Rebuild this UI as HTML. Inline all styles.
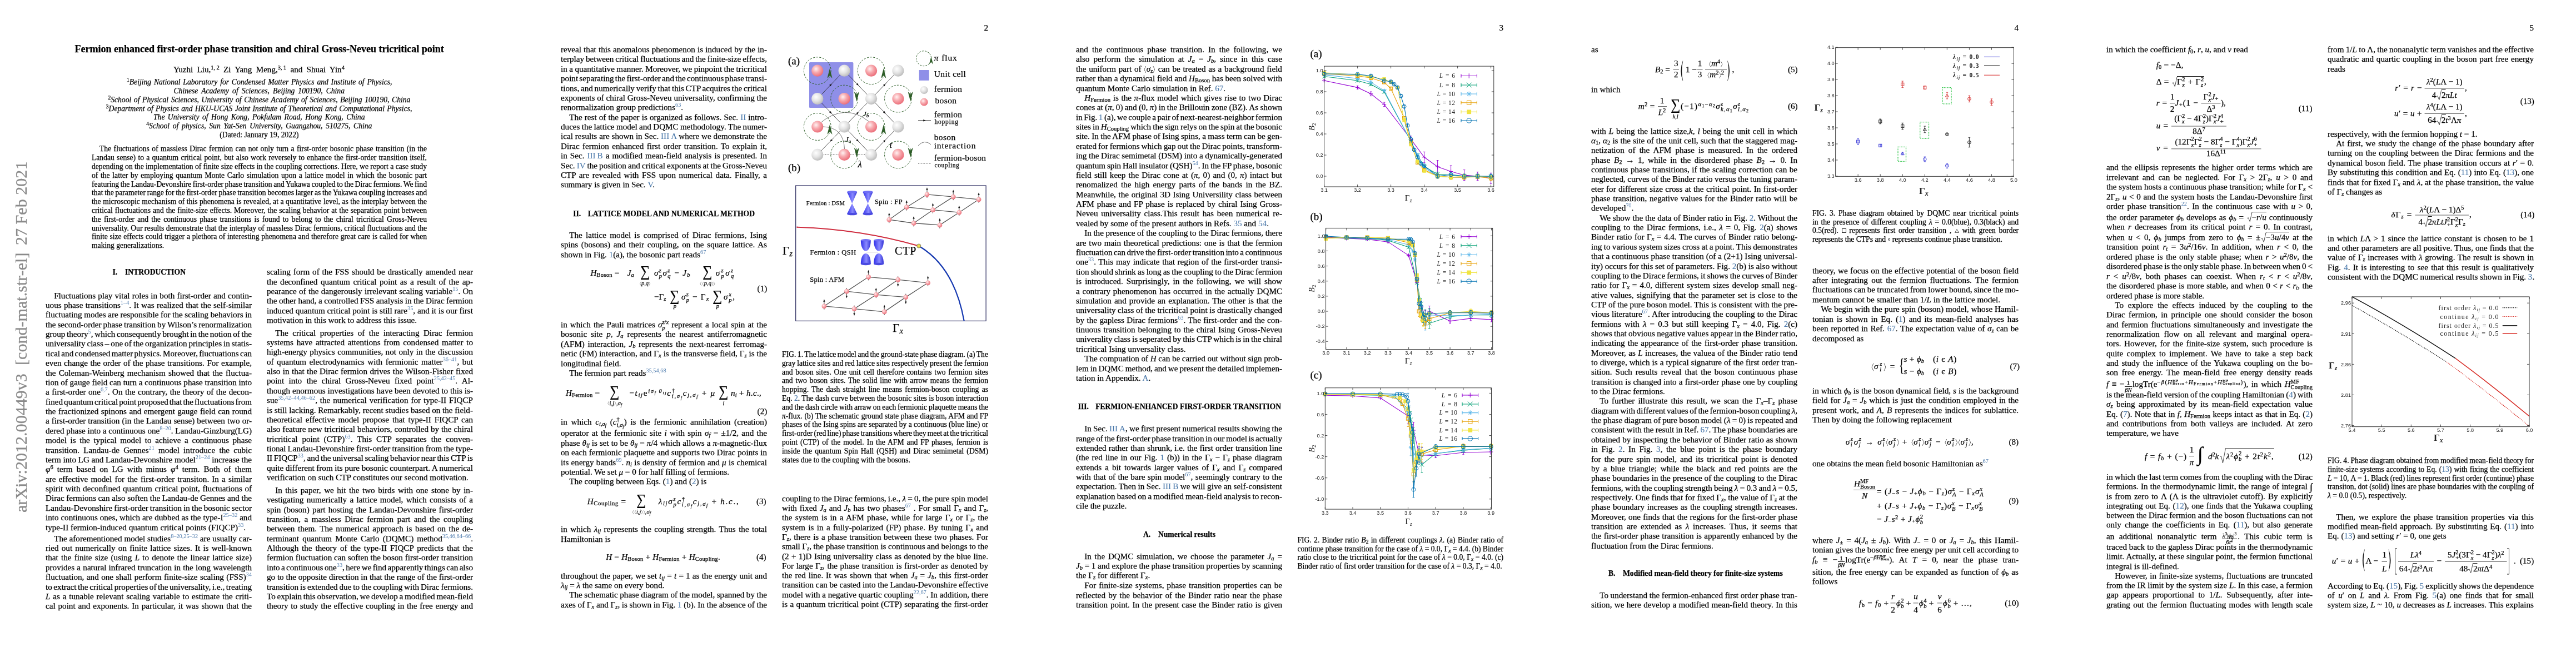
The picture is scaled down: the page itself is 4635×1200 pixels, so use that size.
<!DOCTYPE html><html><head><meta charset="utf-8"><style>

*{margin:0;padding:0}
html,body{width:4635px;height:1200px;overflow:hidden;background:#fff}
body{position:relative;font-family:"Liberation Serif",serif;color:#000;-webkit-text-stroke:0.25px currentColor}
.pg{position:absolute;top:0;width:927px;height:1200px;overflow:hidden;will-change:transform}
.l{position:absolute;white-space:nowrap;font-size:15.15px;line-height:17.36px}
.pg svg.ov{position:absolute;left:0;top:0}
i{font-style:italic}
b{font-weight:bold}
sub{font-size:70%;vertical-align:-0.22em;line-height:0}
sup{font-size:70%;vertical-align:0.5em;line-height:0}
cs{font-size:68%;vertical-align:0.58em;line-height:0;color:#4f7cae;-webkit-text-stroke:0}
bl{color:#4a78aa;-webkit-text-stroke:0.1px currentColor}
ss{font-size:75%;vertical-align:-0.25em;line-height:0}
up{font-style:normal}
ab{display:inline-block;transform:scale(0.75,1.5);}
.sa{font-family:"Liberation Sans",sans-serif}

</style></head><body>
<div class="pg" style="left:0px">
<div style="position:absolute;left:38px;top:922px;width:0;height:0"><div style="position:absolute;left:0;top:0;transform:rotate(-90deg);transform-origin:0 0;white-space:nowrap;font-size:30.1px;line-height:0;color:#8a8a8a"><span style="position:absolute;left:0;top:0">arXiv:2012.00449v3</span><span style="position:absolute;left:265px;top:0">[cond-mat.str-el]</span><span style="position:absolute;left:481px;top:0">27 Feb 2021</span></div></div>
<div class="l" style="top:78.46px;left:134.4px;font-size:18.18px;line-height:20px;font-weight:bold;letter-spacing:-0.08px;">Fermion enhanced first-order phase transition and chiral Gross-Neveu tricritical point</div>
<div class="l" style="top:115.8px;left:311.9px;word-spacing:3.49px;">Yuzhi Liu,<sup>1,&#8201;2</sup> Zi Yang Meng,<sup>3,&#8201;1</sup> and Shuai Yin<sup>4</sup></div>
<div class="l" style="top:139.8px;left:228px;font-size:13.64px;line-height:15.8px;word-spacing:1.36px;"><i><up><sup>1</sup></up>Beijing National Laboratory for Condensed Matter Physics and Institute of Physics,</i></div>
<div class="l" style="top:155.8px;left:312.5px;font-size:13.64px;line-height:15.8px;word-spacing:2.6px;"><i>Chinese Academy of Sciences, Beijing 100190, China</i></div>
<div class="l" style="top:171.7px;left:194.4px;font-size:13.64px;line-height:15.8px;word-spacing:1.22px;"><i><up><sup>2</sup></up>School of Physical Sciences, University of Chinese Academy of Sciences, Beijing 100190, China</i></div>
<div class="l" style="top:187.5px;left:190.8px;font-size:13.64px;line-height:15.8px;word-spacing:1.02px;"><i><up><sup>3</sup></up>Department of Physics and HKU-UCAS Joint Institute of Theoretical and Computational Physics,</i></div>
<div class="l" style="top:203.3px;left:276px;font-size:13.64px;line-height:15.8px;word-spacing:1.99px;"><i>The University of Hong Kong, Pokfulam Road, Hong Kong, China</i></div>
<div class="l" style="top:219.1px;left:263.3px;font-size:13.64px;line-height:15.8px;word-spacing:2.26px;"><i><up><sup>4</sup></up>School of physics, Sun Yat-Sen University, Guangzhou, 510275, China</i></div>
<div class="l" style="top:234.7px;left:466.4px;transform:translateX(-50%);font-size:13.64px;line-height:15.8px;">(Dated: January 19, 2022)</div>
<div class="l" style="top:260.3px;left:179px;font-size:13.64px;line-height:15.8px;word-spacing:1.01px;">The fluctuations of massless Dirac fermion can not only turn a first-order bosonic phase transition (in the</div>
<div class="l" style="top:276.1px;left:165px;font-size:13.64px;line-height:15.8px;word-spacing:0.84px;">Landau sense) to a quantum critical point, but also work reversely to enhance the first-order transition itself,</div>
<div class="l" style="top:291.9px;left:165px;font-size:13.64px;line-height:15.8px;word-spacing:-0.06px;">depending on the implementation of finite size effects in the coupling corrections. Here, we report a case study</div>
<div class="l" style="top:307.7px;left:165px;font-size:13.64px;line-height:15.8px;word-spacing:1.26px;">of the latter by employing quantum Monte Carlo simulation upon a lattice model in which the bosonic part</div>
<div class="l" style="top:323.5px;left:165px;font-size:13.64px;line-height:15.8px;word-spacing:-0.82px;">featuring the Landau-Devonshire first-order phase transition and Yukawa coupled to the Dirac fermions. We find</div>
<div class="l" style="top:339.3px;left:165px;font-size:13.64px;line-height:15.8px;word-spacing:-0.71px;">that the parameter range for the first-order phase transition becomes larger as the Yukawa coupling increases and</div>
<div class="l" style="top:355.1px;left:165px;font-size:13.64px;line-height:15.8px;word-spacing:0.14px;">the microscopic mechanism of this phenomena is revealed, at a quantitative level, as the interplay between the</div>
<div class="l" style="top:370.9px;left:165px;font-size:13.64px;line-height:15.8px;word-spacing:0.54px;">critical fluctuations and the finite-size effects. Moreover, the scaling behavior at the separation point between</div>
<div class="l" style="top:386.7px;left:165px;font-size:13.64px;line-height:15.8px;word-spacing:1.83px;">the first-order and the continuous phase transitions is found to belong to the chiral tricritical Gross-Neveu</div>
<div class="l" style="top:402.5px;left:165px;font-size:13.64px;line-height:15.8px;word-spacing:0px;">universality. Our results demonstrate that the interplay of massless Dirac fermions, critical fluctuations and the</div>
<div class="l" style="top:418.3px;left:165px;font-size:13.64px;line-height:15.8px;word-spacing:0.26px;">finite size effects could trigger a plethora of interesting phenomena and therefore great care is called for when</div>
<div class="l" style="top:434.1px;left:165px;font-size:13.64px;line-height:15.8px;">making generalizations.</div>
<div class="l" style="top:481.6px;left:202.5px;font-size:13.64px;line-height:15.8px;font-weight:bold;">I.</div>
<div class="l" style="top:481.6px;left:225px;font-size:13.64px;line-height:15.8px;font-weight:bold;">INTRODUCTION</div>
<div class="l" style="top:522.5px;left:97.2px;word-spacing:0.43px;">Fluctuations play vital roles in both first-order and contin-</div>
<div class="l" style="top:539.88px;left:82px;word-spacing:0.56px;">uous phase transitions<cs>1&#8211;4</cs>. It was realized that the self-similar</div>
<div class="l" style="top:557.26px;left:82px;word-spacing:-0.19px;">fluctuating modes are responsible for the scaling behaviors in</div>
<div class="l" style="top:574.64px;left:82px;word-spacing:-0.81px;">the second-order phase transition by Wilson&#8217;s renormalization</div>
<div class="l" style="top:592.02px;left:82px;word-spacing:-1.12px;">group theory<cs>5</cs>, which consequently brought in the notion of the</div>
<div class="l" style="top:609.4px;left:82px;word-spacing:-0.84px;">universality class &#8211; one of the organization principles in statis-</div>
<div class="l" style="top:626.78px;left:82px;word-spacing:-1.51px;">tical and condensed matter physics. Moreover, fluctuations can</div>
<div class="l" style="top:644.16px;left:82px;word-spacing:0.72px;">even change the order of the phase transitions. For example,</div>
<div class="l" style="top:661.54px;left:82px;word-spacing:1.4px;">the Coleman-Weinberg mechanism showed that the fluctua-</div>
<div class="l" style="top:678.92px;left:82px;word-spacing:-0.07px;">tion of gauge field can turn a continuous phase transition into</div>
<div class="l" style="top:696.3px;left:82px;word-spacing:0.68px;">a first-order one<cs>6,7</cs>. On the contrary, the theory of the decon-</div>
<div class="l" style="top:713.68px;left:82px;word-spacing:-1.77px;">fined quantum critical point proposed that the fluctuations from</div>
<div class="l" style="top:731.06px;left:82px;word-spacing:0.69px;">the fractionized spinons and emergent gauge field can round</div>
<div class="l" style="top:748.44px;left:82px;word-spacing:0.29px;">a first-order transition (in the Landau sense) between two or-</div>
<div class="l" style="top:765.82px;left:82px;word-spacing:-0.07px;">dered phase into a continuous one<cs>8&#8211;20</cs>. Landau-Ginzburg(LG)</div>
<div class="l" style="top:783.2px;left:82px;word-spacing:2.87px;">model is the typical model to achieve a continuous phase</div>
<div class="l" style="top:800.58px;left:82px;word-spacing:3.43px;">transition. Landau-de Gennes<cs>21</cs> model introduce the cubic</div>
<div class="l" style="top:817.96px;left:82px;word-spacing:-0.11px;">term into LG and Landau-Devonshire model<cs>21&#8211;24</cs> increase the</div>
<div class="l" style="top:835.34px;left:82px;word-spacing:3.33px;"><i>&#966;</i><sup>6</sup> term based on LG with minus <i>&#966;</i><sup>4</sup> term. Both of them</div>
<div class="l" style="top:852.72px;left:82px;word-spacing:1.36px;">are effective model for the first-order transiton. In a similar</div>
<div class="l" style="top:870.1px;left:82px;word-spacing:0.74px;">spirit with deconfined quantum critical point, fluctuations of</div>
<div class="l" style="top:887.48px;left:82px;word-spacing:-0.21px;">Dirac fermions can also soften the Landau-de Gennes and the</div>
<div class="l" style="top:904.86px;left:82px;word-spacing:-0.67px;">Landau-Devonshire first-order transition in the bosonic sector</div>
<div class="l" style="top:922.24px;left:82px;word-spacing:0.05px;">into continuous ones, which are dubbed as the type-I<cs>25&#8211;32</cs> and</div>
<div class="l" style="top:939.62px;left:82px;">type-II fermion-induced quantum critical points (FIQCP)<cs>33</cs>.</div>
<div class="l" style="top:959.6px;left:97.2px;word-spacing:0.04px;">The aforementioned model studies<cs>8&#8211;20,25&#8211;32</cs> are usually car-</div>
<div class="l" style="top:976.98px;left:82px;word-spacing:1.42px;">ried out numerically on finite lattice sizes. It is well-known</div>
<div class="l" style="top:994.36px;left:82px;word-spacing:1.43px;">that the finite size (using <i>L</i> to denote the linear lattice size)</div>
<div class="l" style="top:1011.74px;left:82px;word-spacing:0.44px;">provides a natural infrared truncation in the long wavelength</div>
<div class="l" style="top:1029.12px;left:82px;word-spacing:0.71px;">fluctuation, and one shall perform finite-size scaling (FSS)<cs>34</cs></div>
<div class="l" style="top:1046.5px;left:82px;word-spacing:-1.22px;">to extract the critical properties of the universality, i.e., treating</div>
<div class="l" style="top:1063.88px;left:82px;word-spacing:1.03px;"><i>L</i> as a tunable relevant scaling variable to estimate the criti-</div>
<div class="l" style="top:1081.26px;left:82px;word-spacing:1.08px;">cal point and exponents. In particular, it was shown that the</div>
<div class="l" style="top:480.3px;left:480px;word-spacing:1.09px;">scaling form of the FSS should be drastically amended near</div>
<div class="l" style="top:497.68px;left:480px;word-spacing:1.78px;">the deconfined quantum critical point as a result of the ap-</div>
<div class="l" style="top:515.06px;left:480px;word-spacing:0.48px;">pearance of the dangerously irrelevant scaling variable<cs>15</cs>. On</div>
<div class="l" style="top:532.44px;left:480px;word-spacing:-0.37px;">the other hand, a controlled FSS analysis in the Dirac fermion</div>
<div class="l" style="top:549.82px;left:480px;word-spacing:-0.01px;">induced quantum critical point is still rare<cs>35</cs>, and it is our first</div>
<div class="l" style="top:567.2px;left:480px;">motivation in this work to address this issue.</div>
<div class="l" style="top:589.5px;left:495.2px;word-spacing:3.68px;">The critical properties of the interacting Dirac fermion</div>
<div class="l" style="top:606.88px;left:480px;word-spacing:1.89px;">systems have attracted attentions from condensed matter to</div>
<div class="l" style="top:624.26px;left:480px;word-spacing:0.65px;">high-energy physics communities, not only in the discussion</div>
<div class="l" style="top:641.64px;left:480px;word-spacing:1.69px;">of quantum electrodynamics with fermionic matter<cs>36&#8211;41</cs>, but</div>
<div class="l" style="top:659.02px;left:480px;word-spacing:0.63px;">also in that the Dirac fermion drives the Wilson-Fisher fixed</div>
<div class="l" style="top:676.4px;left:480px;word-spacing:4.71px;">point into the chiral Gross-Neveu fixed point<cs>25,42&#8211;45</cs>. Al-</div>
<div class="l" style="top:693.78px;left:480px;word-spacing:0.12px;">though enormous investigations have been devoted to this is-</div>
<div class="l" style="top:711.16px;left:480px;word-spacing:1.13px;">sue<cs>35,42&#8211;44,46&#8211;62</cs>, the numerical verification for type-II FIQCP</div>
<div class="l" style="top:728.54px;left:480px;word-spacing:-0.11px;">is still lacking. Remarkably, recent studies based on the field-</div>
<div class="l" style="top:745.92px;left:480px;word-spacing:2.13px;">theoretical effective model propose that type-II FIQCP can</div>
<div class="l" style="top:763.3px;left:480px;word-spacing:0.18px;">also feature new tricritical behaviors, controlled by the chiral</div>
<div class="l" style="top:780.68px;left:480px;word-spacing:4.19px;">tricritical point (CTP)<cs>63</cs>. This CTP separates the conven-</div>
<div class="l" style="top:798.06px;left:480px;word-spacing:-0.67px;">tional Landau-Devonshire first-order transition from the type-</div>
<div class="l" style="top:815.44px;left:480px;word-spacing:-1.09px;">II FIQCP<cs>33</cs>, and the universal scaling behavior near this CTP is</div>
<div class="l" style="top:832.82px;left:480px;word-spacing:-0.21px;">quite different from its pure bosonic counterpart. A numerical</div>
<div class="l" style="top:850.2px;left:480px;">verification on such CTP constitutes our second motivation.</div>
<div class="l" style="top:872.8px;left:495.2px;word-spacing:1.77px;">In this paper, we hit the two birds with one stone by in-</div>
<div class="l" style="top:890.18px;left:480px;word-spacing:1.54px;">vestigating numerically a lattice model, which consists of a</div>
<div class="l" style="top:907.56px;left:480px;word-spacing:1.42px;">spin (boson) part hosting the Landau-Devonshire first-order</div>
<div class="l" style="top:924.94px;left:480px;word-spacing:2.7px;">transition, a massless Dirac fermion part and the coupling</div>
<div class="l" style="top:942.32px;left:480px;word-spacing:1.73px;">between them. The numerical approach is based on the de-</div>
<div class="l" style="top:959.7px;left:480px;word-spacing:2.34px;">terminant quantum Monte Carlo (DQMC) method<cs>35,46,64&#8211;66</cs>.</div>
<div class="l" style="top:977.08px;left:480px;word-spacing:2.09px;">Although the theory of the type-II FIQCP predicts that the</div>
<div class="l" style="top:994.46px;left:480px;word-spacing:-0.04px;">fermion fluctuation can soften the boson first-order transition</div>
<div class="l" style="top:1011.84px;left:480px;word-spacing:-1.39px;">into a continuous one<cs>33</cs>, here we find apparently things can also</div>
<div class="l" style="top:1029.22px;left:480px;word-spacing:-0.02px;">go to the opposite direction in that the range of the first-order</div>
<div class="l" style="top:1046.6px;left:480px;word-spacing:-0.92px;">transition is extended due to the coupling with Dirac fermions.</div>
<div class="l" style="top:1063.98px;left:480px;word-spacing:-1.06px;">To explain this observation, we develop a modified mean-field</div>
<div class="l" style="top:1081.36px;left:480px;word-spacing:0.91px;">theory to study the effective coupling in the free energy and</div>
</div>
<div class="pg" style="left:927px">
<div class="l" style="top:41px;right:76px;">2</div>
<div class="l" style="top:80px;left:82px;word-spacing:0.34px;">reveal that this anomalous phenomenon is induced by the in-</div>
<div class="l" style="top:97.38px;left:82px;word-spacing:-0.89px;">terplay between critical fluctuations and the finite-size effects,</div>
<div class="l" style="top:114.76px;left:82px;word-spacing:-0.32px;">in a quantitative manner. Moreover, we pinpoint the tricritical</div>
<div class="l" style="top:132.14px;left:82px;word-spacing:-1.56px;">point separating the first-order and the continuous phase transi-</div>
<div class="l" style="top:149.52px;left:82px;word-spacing:-1.04px;">tions, and numerically verify that this CTP acquires the critical</div>
<div class="l" style="top:166.9px;left:82px;word-spacing:-0.02px;">exponents of chiral Gross-Neveu universality, confirming the</div>
<div class="l" style="top:184.28px;left:82px;">renormalization group predictions<cs>63</cs>.</div>
<div class="l" style="top:201.66px;left:97.2px;word-spacing:0.3px;">The rest of the paper is organized as follows. Sec. <bl>II</bl> intro-</div>
<div class="l" style="top:219.04px;left:82px;word-spacing:-0.47px;">duces the lattice model and DQMC methodology. The numer-</div>
<div class="l" style="top:236.42px;left:82px;word-spacing:0.09px;">ical results are shown in Sec. <bl>III&#8201;A</bl> where we demonstrate the</div>
<div class="l" style="top:253.8px;left:82px;word-spacing:1.55px;">Dirac fermion enhanced first order transition. To explain it,</div>
<div class="l" style="top:271.18px;left:82px;word-spacing:1.22px;">in Sec. <bl>III&#8201;B</bl> a modified mean-field analysis is presented. In</div>
<div class="l" style="top:288.56px;left:82px;word-spacing:-0.7px;">Sec. <bl>IV</bl> the position and critical exponents at the Gross-Neveu</div>
<div class="l" style="top:305.94px;left:82px;word-spacing:1.73px;">CTP are revealed with FSS upon numerical data. Finally, a</div>
<div class="l" style="top:323.32px;left:82px;">summary is given in Sec. <bl>V</bl>.</div>
<div class="l" style="top:377px;left:104.2px;font-size:13.64px;line-height:15.8px;font-weight:bold;">II.</div>
<div class="l" style="top:377px;left:130.7px;font-size:13.64px;line-height:15.8px;font-weight:bold;">LATTICE MODEL AND NUMERICAL METHOD</div>
<div class="l" style="top:413.9px;left:97.2px;word-spacing:2.48px;">The lattice model is comprised of Dirac fermions, Ising</div>
<div class="l" style="top:431.28px;left:82px;word-spacing:1.93px;">spins (bosons) and their coupling, on the square lattice. As</div>
<div class="l" style="top:448.66px;left:82px;">shown in Fig. <bl>1</bl>(a), the bosonic part reads<cs>67</cs></div>
<div class="l" style="top:482.2px;left:135.4px;letter-spacing:0.21px;"><i>H</i><sub>Boson</sub> =</div>
<div class="l" style="top:482.2px;left:201.7px;"><i>J<sub>a</sub></i></div>
<div class="l" style="left:233.5px;top:488.39px;font-size:27px;line-height:0;transform:translateX(-50%) scaleX(0.9)">&#8721;</div>
<div class="l" style="top:504.42px;left:233.5px;transform:translateX(-50%);font-size:10.6px;line-height:12px;"><svg style="vertical-align:-2.5px;overflow:visible" width="3.63" height="11" viewBox="0 0 5 11"><path d="M4,0.5L1,5.5 L4,10.5" fill="none" stroke="#161616" stroke-width="0.6"/></svg><i>p</i>,<i>q</i><svg style="vertical-align:-2.5px;overflow:visible" width="3.63" height="11" viewBox="0 0 5 11"><path d="M1,0.5L4,5.5 L1,10.5" fill="none" stroke="#161616" stroke-width="0.6"/></svg></div>
<div class="l" style="top:482.2px;left:250px;letter-spacing:1.36px;"><i>&#963;</i><span style="display:inline-block;vertical-align:-0.36em;font-size:70%;line-height:0.95;margin:-20px 0"><span style="display:block"><i>z</i></span><span style="display:block"><i>p</i></span></span><i>&#963;</i><span style="display:inline-block;vertical-align:-0.36em;font-size:70%;line-height:0.95;margin:-20px 0"><span style="display:block"><i>z</i></span><span style="display:block"><i>q</i></span></span> &#8722; <i>J<sub>b</sub></i></div>
<div class="l" style="left:346.3px;top:488.39px;font-size:27px;line-height:0;transform:translateX(-50%) scaleX(0.9)">&#8721;</div>
<div class="l" style="top:504.42px;left:346.3px;transform:translateX(-50%);font-size:10.6px;line-height:12px;"><svg style="vertical-align:-2.5px;overflow:visible" width="3.63" height="11" viewBox="0 0 5 11"><path d="M4,0.5L1,5.5 L4,10.5" fill="none" stroke="#161616" stroke-width="0.6"/></svg><svg style="vertical-align:-2.5px;overflow:visible" width="3.63" height="11" viewBox="0 0 5 11"><path d="M4,0.5L1,5.5 L4,10.5" fill="none" stroke="#161616" stroke-width="0.6"/></svg><i>p</i>,<i>q</i><svg style="vertical-align:-2.5px;overflow:visible" width="3.63" height="11" viewBox="0 0 5 11"><path d="M1,0.5L4,5.5 L1,10.5" fill="none" stroke="#161616" stroke-width="0.6"/></svg><svg style="vertical-align:-2.5px;overflow:visible" width="3.63" height="11" viewBox="0 0 5 11"><path d="M1,0.5L4,5.5 L1,10.5" fill="none" stroke="#161616" stroke-width="0.6"/></svg></div>
<div class="l" style="top:482.2px;left:360.7px;letter-spacing:2.38px;"><i>&#963;</i><span style="display:inline-block;vertical-align:-0.36em;font-size:70%;line-height:0.95;margin:-20px 0"><span style="display:block"><i>z</i></span><span style="display:block"><i>p</i></span></span><i>&#963;</i><span style="display:inline-block;vertical-align:-0.36em;font-size:70%;line-height:0.95;margin:-20px 0"><span style="display:block"><i>z</i></span><span style="display:block"><i>q</i></span></span></div>
<div class="l" style="top:525.4px;left:250px;">&#8722;&#915;<sub><i>z</i></sub></div>
<div class="l" style="left:287.3px;top:531.59px;font-size:27px;line-height:0;transform:translateX(-50%) scaleX(0.9)">&#8721;</div>
<div class="l" style="top:544.92px;left:287.3px;transform:translateX(-50%);font-size:10.6px;line-height:12px;"><i>p</i></div>
<div class="l" style="top:525.4px;left:299px;letter-spacing:1.16px;"><i>&#963;</i><span style="display:inline-block;vertical-align:-0.36em;font-size:70%;line-height:0.95;margin:-20px 0"><span style="display:block"><i>z</i></span><span style="display:block"><i>p</i></span></span> &#8722; &#915;<sub><i>x</i></sub></div>
<div class="l" style="left:364.3px;top:531.59px;font-size:27px;line-height:0;transform:translateX(-50%) scaleX(0.9)">&#8721;</div>
<div class="l" style="top:544.92px;left:364.3px;transform:translateX(-50%);font-size:10.6px;line-height:12px;"><i>p</i></div>
<div class="l" style="top:525.4px;left:375px;letter-spacing:1.73px;"><i>&#963;</i><span style="display:inline-block;vertical-align:-0.36em;font-size:70%;line-height:0.95;margin:-20px 0"><span style="display:block"><i>x</i></span><span style="display:block"><i>p</i></span></span>,</div>
<div class="l" style="top:510.1px;left:435.6px;">(1)</div>
<div class="l" style="top:575.1px;left:82px;word-spacing:1.28px;">in which the Pauli matrices <i>&#963;</i><span style="display:inline-block;vertical-align:-0.4em;font-size:70%;line-height:0.95;margin:-20px 0"><span style="display:block"><i>z</i>/<i>x</i></span><span style="display:block"><i>p</i></span></span> represent a local spin at the</div>
<div class="l" style="top:592.48px;left:82px;word-spacing:3.23px;">bosonic site <i>p</i>, <i>J<sub>a</sub></i> represents the nearest antiferromagnetic</div>
<div class="l" style="top:609.86px;left:82px;word-spacing:1.74px;">(AFM) interaction, <i>J<sub>b</sub></i> represents the next-nearest ferromag-</div>
<div class="l" style="top:627.24px;left:82px;word-spacing:0.1px;">netic (FM) interaction, and &#915;<sub><i>x</i></sub> is the transverse field, &#915;<sub><i>z</i></sub> is the</div>
<div class="l" style="top:644.62px;left:82px;">longitudinal field.</div>
<div class="l" style="top:662px;left:97.2px;">The fermion part reads<cs>35,54,68</cs></div>
<div class="l" style="top:698.1px;left:90.9px;letter-spacing:0.23px;"><i>H</i><sub>Fermion</sub> =</div>
<div class="l" style="left:178.9px;top:704.29px;font-size:27px;line-height:0;transform:translateX(-50%) scaleX(0.9)">&#8721;</div>
<div class="l" style="top:719.92px;left:178.9px;transform:translateX(-50%);font-size:10.6px;line-height:12px;"><svg style="vertical-align:-2.5px;overflow:visible" width="3.63" height="11" viewBox="0 0 5 11"><path d="M4,0.5L1,5.5 L4,10.5" fill="none" stroke="#161616" stroke-width="0.6"/></svg><i>i</i>,<i>j</i><svg style="vertical-align:-2.5px;overflow:visible" width="3.63" height="11" viewBox="0 0 5 11"><path d="M1,0.5L4,5.5 L1,10.5" fill="none" stroke="#161616" stroke-width="0.6"/></svg>,<i>&#963;<ss>f</ss></i></div>
<div class="l" style="top:698.1px;left:205.2px;letter-spacing:1.72px;">&#8722;<i>t<sub>ij</sub></i>e<sup><i>i&#963;<ss>f</ss>&#8201;&#952;<ss>ij</ss></i></sup><i>c</i><span style="display:inline-block;vertical-align:-0.36em;font-size:70%;line-height:0.95;margin:-20px 0"><span style="display:block">&#8224;</span><span style="display:block"><i>i</i>,<i>&#963;<ss>f</ss></i></span></span><i>c<sub>j</sub></i><sub>,<i>&#963;<ss>f</ss></i></sub> + <i>&#956;</i></div>
<div class="l" style="left:375px;top:704.29px;font-size:27px;line-height:0;transform:translateX(-50%) scaleX(0.9)">&#8721;</div>
<div class="l" style="top:719.92px;left:375px;transform:translateX(-50%);font-size:10.6px;line-height:12px;"><i>i</i></div>
<div class="l" style="top:698.1px;left:388px;letter-spacing:0.27px;"><i>n<sub>i</sub></i> + <i>h</i>.<i>c</i>.,</div>
<div class="l" style="top:731.2px;left:435.6px;">(2)</div>
<div class="l" style="top:749.8px;left:82px;word-spacing:2.95px;">in which <i>c</i><sub><i>i</i>,<i>&#963;<ss>f</ss></i></sub> (<i>c</i><span style="display:inline-block;vertical-align:-0.36em;font-size:70%;line-height:0.95;margin:-20px 0"><span style="display:block">&#8224;</span><span style="display:block"><i>i</i>,<i>&#963;<ss>f</ss></i></span></span>) is the fermionic annihilation (creation)</div>
<div class="l" style="top:770.4px;left:82px;word-spacing:1.56px;">operator at the fermionic site <i>i</i> with spin <i>&#963;<sub>f</sub></i> = &#177;1/2, and the</div>
<div class="l" style="top:787.8px;left:82px;word-spacing:0.23px;">phase <i>&#952;<sub>ij</sub></i> is set to be <i>&#952;<sub>ij</sub></i> = <i>&#960;</i>/4 which allows a <i>&#960;</i>-magnetic-flux</div>
<div class="l" style="top:805.2px;left:82px;word-spacing:0.16px;">on each fermionic plaquette and supports two Dirac points in</div>
<div class="l" style="top:822.6px;left:82px;word-spacing:0.51px;">its energy bands<cs>69</cs>. <i>n<sub>i</sub></i> is density of fermion and <i>&#956;</i> is chemical</div>
<div class="l" style="top:840px;left:82px;">potential. We set <i>&#956;</i> = 0 for half filling of fermions.</div>
<div class="l" style="top:857.4px;left:97.2px;">The coupling between Eqs. (<bl>1</bl>) and (<bl>2</bl>) is</div>
<div class="l" style="top:893.2px;left:129.7px;letter-spacing:0.66px;"><i>H</i><sub>Coupling</sub> =</div>
<div class="l" style="left:227.3px;top:899.39px;font-size:27px;line-height:0;transform:translateX(-50%) scaleX(0.9)">&#8721;</div>
<div class="l" style="top:915.42px;left:227.3px;transform:translateX(-50%);font-size:10.6px;line-height:12px;"><svg style="vertical-align:-2.5px;overflow:visible" width="3.63" height="11" viewBox="0 0 5 11"><path d="M4,0.5L1,5.5 L4,10.5" fill="none" stroke="#161616" stroke-width="0.6"/></svg><svg style="vertical-align:-2.5px;overflow:visible" width="3.63" height="11" viewBox="0 0 5 11"><path d="M4,0.5L1,5.5 L4,10.5" fill="none" stroke="#161616" stroke-width="0.6"/></svg><i>i</i>,<i>j</i><svg style="vertical-align:-2.5px;overflow:visible" width="3.63" height="11" viewBox="0 0 5 11"><path d="M1,0.5L4,5.5 L1,10.5" fill="none" stroke="#161616" stroke-width="0.6"/></svg><svg style="vertical-align:-2.5px;overflow:visible" width="3.63" height="11" viewBox="0 0 5 11"><path d="M1,0.5L4,5.5 L1,10.5" fill="none" stroke="#161616" stroke-width="0.6"/></svg>,<i>&#963;<ss>f</ss></i></div>
<div class="l" style="top:893.2px;left:257.7px;letter-spacing:1.7px;"><i>&#955;<sub>ij</sub></i><i>&#963;</i><span style="display:inline-block;vertical-align:-0.36em;font-size:70%;line-height:0.95;margin:-20px 0"><span style="display:block"><i>z</i></span><span style="display:block"><i>p</i></span></span><i>c</i><span style="display:inline-block;vertical-align:-0.36em;font-size:70%;line-height:0.95;margin:-20px 0"><span style="display:block">&#8224;</span><span style="display:block"><i>i</i>,<i>&#963;<ss>f</ss></i></span></span><i>c<sub>j</sub></i><sub>,<i>&#963;<ss>f</ss></i></sub> + <i>h</i>.<i>c</i>.,</div>
<div class="l" style="top:893.2px;left:434px;">(3)</div>
<div class="l" style="top:943.3px;left:82px;word-spacing:1.65px;">in which <i>&#955;<sub>ij</sub></i> represents the coupling strength. Thus the total</div>
<div class="l" style="top:960.68px;left:82px;">Hamiltonian is</div>
<div class="l" style="top:993px;left:163.2px;letter-spacing:0.22px;"><i>H</i> = <i>H</i><sub>Boson</sub> + <i>H</i><sub>Fermion</sub> + <i>H</i><sub>Coupling</sub>.</div>
<div class="l" style="top:993px;left:434px;">(4)</div>
<div class="l" style="top:1026.5px;left:82px;word-spacing:0.38px;">throughout the paper, we set <i>t<sub>ij</sub></i> = <i>t</i> = 1 as the energy unit and</div>
<div class="l" style="top:1043.88px;left:82px;"><i>&#955;<sub>ij</sub></i> = <i>&#955;</i> the same on every bond.</div>
<div class="l" style="top:1061.26px;left:97.2px;word-spacing:-0.27px;">The schematic phase diagram of the model, spanned by the</div>
<div class="l" style="top:1078.64px;left:82px;word-spacing:-0.12px;">axes of &#915;<sub><i>x</i></sub> and &#915;<sub><i>z</i></sub>, is shown in Fig. <bl>1</bl> (b). In the absence of the</div>
<div class="l" style="top:629.9px;left:480px;font-size:13.64px;line-height:15.8px;word-spacing:-0.9px;">FIG. 1. The lattice model and the ground-state phase diagram. (a) The</div>
<div class="l" style="top:645.7px;left:480px;font-size:13.64px;line-height:15.8px;word-spacing:-0.43px;">gray lattice sites and red lattice sites respectively present the fermion</div>
<div class="l" style="top:661.5px;left:480px;font-size:13.64px;line-height:15.8px;word-spacing:1.12px;">and boson sites. One unit cell therefore contains two fermion sites</div>
<div class="l" style="top:677.3px;left:480px;font-size:13.64px;line-height:15.8px;word-spacing:1.34px;">and two boson sites. The solid line with arrow means the fermion</div>
<div class="l" style="top:693.1px;left:480px;font-size:13.64px;line-height:15.8px;word-spacing:1.8px;">hopping. The dash straight line means fermion-boson coupling as</div>
<div class="l" style="top:708.9px;left:480px;font-size:13.64px;line-height:15.8px;word-spacing:0px;">Eq. <bl>2</bl>. The dash curve between the bosonic sites is boson interaction</div>
<div class="l" style="top:724.7px;left:480px;font-size:13.64px;line-height:15.8px;word-spacing:-0.56px;">and the dash circle with arraw on each fermionic plaquette means the</div>
<div class="l" style="top:740.5px;left:480px;font-size:13.64px;line-height:15.8px;word-spacing:0.27px;"><i>&#960;</i>-flux. (b) The schematic ground state phase diagram, AFM and FP</div>
<div class="l" style="top:756.3px;left:480px;font-size:13.64px;line-height:15.8px;word-spacing:-0.11px;">phases of the Ising spins are separated by a continuous (blue line) or</div>
<div class="l" style="top:772.1px;left:480px;font-size:13.64px;line-height:15.8px;word-spacing:-1.26px;">first-order (red line) phase transitions where they meet at the tricritical</div>
<div class="l" style="top:787.9px;left:480px;font-size:13.64px;line-height:15.8px;word-spacing:1.63px;">point (CTP) of the model. In the AFM and FP phases, fermion is</div>
<div class="l" style="top:803.7px;left:480px;font-size:13.64px;line-height:15.8px;word-spacing:1.57px;">inside the quantum Spin Hall (QSH) and Dirac semimetal (DSM)</div>
<div class="l" style="top:819.5px;left:480px;font-size:13.64px;line-height:15.8px;">states due to the coupling with the bosons.</div>
<div class="l" style="top:887.9px;left:480px;word-spacing:-0.51px;">coupling to the Dirac fermions, i.e., <i>&#955;</i> = 0, the pure spin model</div>
<div class="l" style="top:905.17px;left:480px;word-spacing:1.13px;">with fixed <i>J<sub>a</sub></i> and <i>J<sub>b</sub></i> has two phases<cs>67</cs> . For small &#915;<sub><i>x</i></sub> and &#915;<sub><i>z</i></sub>,</div>
<div class="l" style="top:922.44px;left:480px;word-spacing:1.53px;">the system is in a AFM phase, while for large &#915;<sub><i>x</i></sub> or &#915;<sub><i>z</i></sub>, the</div>
<div class="l" style="top:939.71px;left:480px;word-spacing:1.57px;">system is in a fully-polarized (FP) phase. By tuning &#915;<sub><i>x</i></sub> and</div>
<div class="l" style="top:956.98px;left:480px;word-spacing:0.83px;">&#915;<sub><i>z</i></sub>, there is a phase transition between these two phases. For</div>
<div class="l" style="top:974.25px;left:480px;word-spacing:-0.23px;">small &#915;<sub><i>z</i></sub>, the phase transition is continuous and belongs to the</div>
<div class="l" style="top:991.52px;left:480px;word-spacing:0.61px;">(2 + 1)D Ising universality class as denoted by the blue line.</div>
<div class="l" style="top:1008.79px;left:480px;word-spacing:0.81px;">For large &#915;<sub><i>z</i></sub>, the phase transition is first-order as denoted by</div>
<div class="l" style="top:1026.06px;left:480px;word-spacing:1.15px;">the red line. It was shown that when <i>J<sub>a</sub></i> = <i>J<sub>b</sub></i>, this first-order</div>
<div class="l" style="top:1043.33px;left:480px;word-spacing:-0.11px;">transition can be casted into the Landau-Devonshire effective</div>
<div class="l" style="top:1060.6px;left:480px;word-spacing:-0.04px;">model with a negative quartic coupling<cs>22,67</cs>. In addition, there</div>
<div class="l" style="top:1077.87px;left:480px;word-spacing:0.54px;">is a quantum tricritical point (CTP) separating the first-order</div>
<div class="l" style="top:99.59px;left:491px;font-size:19px;line-height:20px;">(a)</div>
<div class="l" style="top:292.09px;left:491px;font-size:19px;line-height:20px;">(b)</div>
<div class="l" style="top:197.21px;left:626px;font-size:13px;line-height:15.8px;"><i>J<sub>b</sub></i></div>
<div class="l" style="top:242.71px;left:594px;font-size:13px;line-height:15.8px;"><i>J<sub>a</sub></i></div>
<div class="l" style="top:251.57px;left:673.5px;font-size:17px;"><i>t</i></div>
<div class="l" style="top:286.57px;left:616.5px;font-size:17px;"><i>&#955;</i></div>
<div class="l" style="top:94.88px;left:753.7px;font-size:15.5px;letter-spacing:0.9px;"><i>&#960;</i> flux</div>
<div class="l" style="top:123.68px;left:753.7px;font-size:15.5px;letter-spacing:0.42px;">Unit cell</div>
<div class="l" style="top:150.68px;left:753.7px;font-size:15.5px;letter-spacing:0.19px;">fermion</div>
<div class="l" style="top:172.28px;left:755.5px;font-size:15.5px;letter-spacing:0.37px;">boson</div>
<div class="l" style="top:197.38px;left:753.7px;font-size:15.5px;letter-spacing:0.19px;">fermion</div>
<div class="l" style="top:212.22px;left:754.5px;font-size:11.5px;line-height:15.8px;letter-spacing:0.79px;">hopping</div>
<div class="l" style="top:238.08px;left:753.7px;font-size:15.5px;letter-spacing:0.37px;">boson</div>
<div class="l" style="top:253.18px;left:753.7px;font-size:15.5px;letter-spacing:0.85px;">interaction</div>
<div class="l" style="top:274.78px;left:753.7px;font-size:15.5px;letter-spacing:0.18px;">fermion-boson</div>
<div class="l" style="top:289.52px;left:754.5px;font-size:11.5px;line-height:15.8px;letter-spacing:0.59px;">coupling</div>
<div class="l" style="top:357.96px;left:523.7px;font-size:10.5px;line-height:15.8px;letter-spacing:0.21px;">Fermion : DSM</div>
<div class="l" style="top:356.08px;left:647px;font-size:12.5px;line-height:15.8px;letter-spacing:0.38px;">Spin : FP</div>
<div class="l" style="top:446.58px;left:530.4px;font-size:12.5px;line-height:15.8px;letter-spacing:0.48px;">Fermion : QSH</div>
<div class="l" style="top:496.08px;left:530.3px;font-size:12.5px;line-height:15.8px;letter-spacing:0.28px;">Spin : AFM</div>
<div class="l" style="top:442.76px;left:683px;font-size:20px;letter-spacing:0.87px;">CTP</div>
<div class="l" style="top:442.72px;left:481px;font-size:21px;">&#915;<sub><i>z</i></sub></div>
<div class="l" style="top:582.22px;left:679.3px;font-size:21px;">&#915;<sub><i>x</i></sub></div>
<svg class="ov" width="927" height="1200" viewBox="0 0 927 1200">
<defs><radialGradient id="gb" cx="0.38" cy="0.35" r="0.7"><stop offset="0" stop-color="#fff2f2"/><stop offset="0.45" stop-color="#f7a9ae"/><stop offset="1" stop-color="#ea6874"/></radialGradient><radialGradient id="gf" cx="0.38" cy="0.35" r="0.7"><stop offset="0" stop-color="#ffffff"/><stop offset="0.5" stop-color="#e4e4e4"/><stop offset="1" stop-color="#b9b9b9"/></radialGradient><linearGradient id="gc" x1="0" x2="1" y1="0" y2="0"><stop offset="0" stop-color="#2f2fe8"/><stop offset="0.55" stop-color="#8a8aff"/><stop offset="1" stop-color="#3333d6"/></linearGradient></defs><rect x="529" y="112" width="79.4" height="81.9" rx="1.5" fill="#8f8fe8"/><path d="M543.8,177.6L592.2,127.2" stroke="#222" stroke-width="0.8"/><path d="M569.56,150.78L567.74,155.27L565.14,152.78Z" fill="#111"/><path d="M592.2,127.2L640.6,177.6" stroke="#222" stroke-width="0.8"/><path d="M617.96,154.02L613.54,152.02L616.14,149.53Z" fill="#111"/><path d="M640.6,177.6L689,127.2" stroke="#222" stroke-width="0.8"/><path d="M666.36,150.78L664.54,155.27L661.94,152.78Z" fill="#111"/><path d="M543.8,177.6L592.2,228" stroke="#222" stroke-width="0.8"/><path d="M569.56,204.42L565.14,202.42L567.74,199.93Z" fill="#111"/><path d="M592.2,228L640.6,177.6" stroke="#222" stroke-width="0.8"/><path d="M617.96,201.18L616.14,205.67L613.54,203.18Z" fill="#111"/><path d="M640.6,177.6L689,228" stroke="#222" stroke-width="0.8"/><path d="M666.36,204.42L661.94,202.42L664.54,199.93Z" fill="#111"/><path d="M592.2,228L543.8,278.4" stroke="#222" stroke-width="0.8"/><path d="M566.44,254.82L568.26,250.33L570.86,252.82Z" fill="#111"/><path d="M592.2,228L640.6,278.4" stroke="#222" stroke-width="0.8"/><path d="M617.96,254.82L613.54,252.82L616.14,250.33Z" fill="#111"/><path d="M640.6,278.4L689,228" stroke="#222" stroke-width="0.8"/><path d="M666.36,251.58L664.54,256.07L661.94,253.58Z" fill="#111"/><path d="M543.8,278.4H640.6" stroke="#333" stroke-width="1" stroke-dasharray="1.2,1.6"/><path d="M548,222 Q593,184 637,219" stroke="#333" stroke-width="0.7" fill="none"/><path d="M554,228 Q591,229 592.5,268" stroke="#333" stroke-width="0.7" fill="none"/><circle cx="543.8" cy="127.2" r="24.4" fill="none" stroke="#2e5e28" stroke-width="1" stroke-dasharray="3.4,2.2"/><circle cx="543.8" cy="127.2" r="10.6" fill="url(#gb)"/><circle cx="640.6" cy="127.2" r="24.4" fill="none" stroke="#2e5e28" stroke-width="1" stroke-dasharray="3.4,2.2"/><circle cx="640.6" cy="127.2" r="10.6" fill="url(#gb)"/><circle cx="592.2" cy="177.6" r="24.4" fill="none" stroke="#2e5e28" stroke-width="1" stroke-dasharray="3.4,2.2"/><circle cx="592.2" cy="177.6" r="10.6" fill="url(#gb)"/><circle cx="689" cy="177.6" r="24.4" fill="none" stroke="#2e5e28" stroke-width="1" stroke-dasharray="3.4,2.2"/><circle cx="689" cy="177.6" r="10.6" fill="url(#gb)"/><circle cx="543.8" cy="228" r="24.4" fill="none" stroke="#2e5e28" stroke-width="1" stroke-dasharray="3.4,2.2"/><circle cx="543.8" cy="228" r="10.6" fill="url(#gb)"/><circle cx="640.6" cy="228" r="24.4" fill="none" stroke="#2e5e28" stroke-width="1" stroke-dasharray="3.4,2.2"/><circle cx="640.6" cy="228" r="10.6" fill="url(#gb)"/><circle cx="592.2" cy="278.4" r="24.4" fill="none" stroke="#2e5e28" stroke-width="1" stroke-dasharray="3.4,2.2"/><circle cx="592.2" cy="278.4" r="10.6" fill="url(#gb)"/><circle cx="689" cy="278.4" r="24.4" fill="none" stroke="#2e5e28" stroke-width="1" stroke-dasharray="3.4,2.2"/><circle cx="689" cy="278.4" r="10.6" fill="url(#gb)"/><path d="M566,123.1L570.6,141.1L566,136.1L561.4,141.1Z" fill="#2e5e28"/><circle cx="592.2" cy="127.2" r="10.6" fill="url(#gf)"/><path d="M662.8,123.1L667.4,141.1L662.8,136.1L658.2,141.1Z" fill="#2e5e28"/><circle cx="689" cy="127.2" r="10.6" fill="url(#gf)"/><circle cx="543.8" cy="177.6" r="10.6" fill="url(#gf)"/><path d="M614.4,182.7L619,164.7L614.4,169.7L609.8,164.7Z" fill="#2e5e28"/><circle cx="640.6" cy="177.6" r="10.6" fill="url(#gf)"/><path d="M711.2,182.7L715.8,164.7L711.2,169.7L706.6,164.7Z" fill="#2e5e28"/><path d="M566,223.9L570.6,241.9L566,236.9L561.4,241.9Z" fill="#2e5e28"/><circle cx="592.2" cy="228" r="10.6" fill="url(#gf)"/><path d="M662.8,223.9L667.4,241.9L662.8,236.9L658.2,241.9Z" fill="#2e5e28"/><circle cx="689" cy="228" r="10.6" fill="url(#gf)"/><circle cx="543.8" cy="278.4" r="10.6" fill="url(#gf)"/><path d="M614.4,283.5L619,265.5L614.4,270.5L609.8,265.5Z" fill="#2e5e28"/><circle cx="640.6" cy="278.4" r="10.6" fill="url(#gf)"/><path d="M711.2,283.5L715.8,265.5L711.2,270.5L706.6,265.5Z" fill="#2e5e28"/><circle cx="735.2" cy="105.2" r="13.5" fill="none" stroke="#2e5e28" stroke-width="1" stroke-dasharray="3,2"/><path d="M748.4,101.7L752,115.7L748.4,111.7L744.8,115.7Z" fill="#2e5e28"/><rect x="726.7" y="126" width="18" height="18.8" fill="#8f8fe8"/><circle cx="735.7" cy="162" r="7" fill="url(#gf)"/><circle cx="735.7" cy="183.6" r="7" fill="url(#gb)"/><path d="M725,216.7H748" stroke="#222" stroke-width="0.8"/><path d="M738.75,216.7L734.25,218.5L734.25,214.9Z" fill="#111"/><path d="M725,262 Q736.5,250 748,260" stroke="#333" stroke-width="0.7" fill="none"/><path d="M725,294H748" stroke="#333" stroke-width="1" stroke-dasharray="1.2,1.6"/><rect x="504.7" y="334" width="342.4" height="243.4" fill="none" stroke="#3b3b6b" stroke-width="1.3"/><path d="M597,345.3L606.2,366L615.4,345.3Z" fill="url(#gc)"/><path d="M597,385.1L606.2,366L615.4,385.1Z" fill="url(#gc)"/><ellipse cx="606.2" cy="345.3" rx="9.2" ry="2.2" fill="#7070f5"/><ellipse cx="606.2" cy="385.1" rx="9.2" ry="2.2" fill="#4a4ae0"/><path d="M625.4,345.3L634.6,366L643.8,345.3Z" fill="url(#gc)"/><path d="M625.4,385.1L634.6,366L643.8,385.1Z" fill="url(#gc)"/><ellipse cx="634.6" cy="345.3" rx="9.2" ry="2.2" fill="#7070f5"/><ellipse cx="634.6" cy="385.1" rx="9.2" ry="2.2" fill="#4a4ae0"/><path d="M621.8,432.3C621.8,446 626.8,451.5 630.8,451.5C634.8,451.5 639.8,446 639.8,432.3Z" fill="url(#gc)"/><path d="M621.8,475C621.8,461 626.8,456 630.8,456C634.8,456 639.8,461 639.8,475Z" fill="url(#gc)"/><ellipse cx="630.8" cy="432.3" rx="9" ry="2.2" fill="#7070f5"/><ellipse cx="630.8" cy="475" rx="9" ry="2.2" fill="#4a4ae0"/><path d="M645.1,432.3C645.1,446 650.1,451.5 654.1,451.5C658.1,451.5 663.1,446 663.1,432.3Z" fill="url(#gc)"/><path d="M645.1,475C645.1,461 650.1,456 654.1,456C658.1,456 663.1,461 663.1,475Z" fill="url(#gc)"/><ellipse cx="654.1" cy="432.3" rx="9" ry="2.2" fill="#7070f5"/><ellipse cx="654.1" cy="475" rx="9" ry="2.2" fill="#4a4ae0"/><path d="M632,453.7H653" stroke="#aab" stroke-width="0.6"/><path d="M672.8,395.2L717.1,401.5L763.9,404.9" stroke="#555" stroke-width="1.3" fill="none"/><path d="M704.3,372.7L751.5,377.7L798.8,382.2" stroke="#555" stroke-width="1.3" fill="none"/><path d="M741,349.8L788.2,354.1L834.1,358.8" stroke="#555" stroke-width="1.3" fill="none"/><path d="M672.8,395.2L704.3,372.7L741,349.8" stroke="#555" stroke-width="1.3" fill="none"/><path d="M717.1,401.5L751.5,377.7L788.2,354.1" stroke="#555" stroke-width="1.3" fill="none"/><path d="M763.9,404.9L798.8,382.2L834.1,358.8" stroke="#555" stroke-width="1.3" fill="none"/><path d="M672.8,401.2V385.7" stroke="#111" stroke-width="0.8"/><path d="M672.8,382.7L671.1,387.2L674.5,387.2Z" fill="#111"/><circle cx="672.8" cy="395.2" r="4.4" fill="url(#gb)"/><path d="M717.1,407.5V392" stroke="#111" stroke-width="0.8"/><path d="M717.1,389L715.4,393.5L718.8,393.5Z" fill="#111"/><circle cx="717.1" cy="401.5" r="4.4" fill="url(#gb)"/><path d="M763.9,410.9V395.4" stroke="#111" stroke-width="0.8"/><path d="M763.9,392.4L762.2,396.9L765.6,396.9Z" fill="#111"/><circle cx="763.9" cy="404.9" r="4.4" fill="url(#gb)"/><path d="M704.3,378.7V363.2" stroke="#111" stroke-width="0.8"/><path d="M704.3,360.2L702.6,364.7L706,364.7Z" fill="#111"/><circle cx="704.3" cy="372.7" r="4.4" fill="url(#gb)"/><path d="M751.5,383.7V368.2" stroke="#111" stroke-width="0.8"/><path d="M751.5,365.2L749.8,369.7L753.2,369.7Z" fill="#111"/><circle cx="751.5" cy="377.7" r="4.4" fill="url(#gb)"/><path d="M798.8,388.2V372.7" stroke="#111" stroke-width="0.8"/><path d="M798.8,369.7L797.1,374.2L800.5,374.2Z" fill="#111"/><circle cx="798.8" cy="382.2" r="4.4" fill="url(#gb)"/><path d="M741,355.8V340.3" stroke="#111" stroke-width="0.8"/><path d="M741,337.3L739.3,341.8L742.7,341.8Z" fill="#111"/><circle cx="741" cy="349.8" r="4.4" fill="url(#gb)"/><path d="M788.2,360.1V344.6" stroke="#111" stroke-width="0.8"/><path d="M788.2,341.6L786.5,346.1L789.9,346.1Z" fill="#111"/><circle cx="788.2" cy="354.1" r="4.4" fill="url(#gb)"/><path d="M834.1,364.8V349.3" stroke="#111" stroke-width="0.8"/><path d="M834.1,346.3L832.4,350.8L835.8,350.8Z" fill="#111"/><circle cx="834.1" cy="358.8" r="4.4" fill="url(#gb)"/><path d="M555.9,550.8L610,555.6L664.2,560.9" stroke="#555" stroke-width="1.3" fill="none"/><path d="M596.4,524.1L649.3,530.2L702.8,534.6" stroke="#555" stroke-width="1.3" fill="none"/><path d="M635.6,498.3L688.7,503.2L742.6,508.8" stroke="#555" stroke-width="1.3" fill="none"/><path d="M555.9,550.8L596.4,524.1L635.6,498.3" stroke="#555" stroke-width="1.3" fill="none"/><path d="M610,555.6L649.3,530.2L688.7,503.2" stroke="#555" stroke-width="1.3" fill="none"/><path d="M664.2,560.9L702.8,534.6L742.6,508.8" stroke="#555" stroke-width="1.3" fill="none"/><path d="M555.9,556.8V541.3" stroke="#111" stroke-width="0.8"/><path d="M555.9,538.3L554.2,542.8L557.6,542.8Z" fill="#111"/><circle cx="555.9" cy="550.8" r="4.4" fill="url(#gb)"/><path d="M610,549.6V565.1" stroke="#111" stroke-width="0.8"/><path d="M610,568.1L608.3,563.6L611.7,563.6Z" fill="#111"/><circle cx="610" cy="555.6" r="4.4" fill="url(#gb)"/><path d="M664.2,566.9V551.4" stroke="#111" stroke-width="0.8"/><path d="M664.2,548.4L662.5,552.9L665.9,552.9Z" fill="#111"/><circle cx="664.2" cy="560.9" r="4.4" fill="url(#gb)"/><path d="M596.4,518.1V533.6" stroke="#111" stroke-width="0.8"/><path d="M596.4,536.6L594.7,532.1L598.1,532.1Z" fill="#111"/><circle cx="596.4" cy="524.1" r="4.4" fill="url(#gb)"/><path d="M649.3,536.2V520.7" stroke="#111" stroke-width="0.8"/><path d="M649.3,517.7L647.6,522.2L651,522.2Z" fill="#111"/><circle cx="649.3" cy="530.2" r="4.4" fill="url(#gb)"/><path d="M702.8,528.6V544.1" stroke="#111" stroke-width="0.8"/><path d="M702.8,547.1L701.1,542.6L704.5,542.6Z" fill="#111"/><circle cx="702.8" cy="534.6" r="4.4" fill="url(#gb)"/><path d="M635.6,504.3V488.8" stroke="#111" stroke-width="0.8"/><path d="M635.6,485.8L633.9,490.3L637.3,490.3Z" fill="#111"/><circle cx="635.6" cy="498.3" r="4.4" fill="url(#gb)"/><path d="M688.7,497.2V512.7" stroke="#111" stroke-width="0.8"/><path d="M688.7,515.7L687,511.2L690.4,511.2Z" fill="#111"/><circle cx="688.7" cy="503.2" r="4.4" fill="url(#gb)"/><path d="M742.6,514.8V499.3" stroke="#111" stroke-width="0.8"/><path d="M742.6,496.3L740.9,500.8L744.3,500.8Z" fill="#111"/><circle cx="742.6" cy="508.8" r="4.4" fill="url(#gb)"/><path d="M506.4,408.7 Q620,412 726.3,442.5" stroke="#cf2e40" stroke-width="2.2" fill="none"/><path d="M726.3,442.5 Q790,480 807.7,577.4" stroke="#1538b0" stroke-width="2.2" fill="none"/><circle cx="726.3" cy="442.5" r="3.6" fill="#efe04a" stroke="#666" stroke-width="0.8"/>
</svg>
</div>
<div class="pg" style="left:1854px">
<div class="l" style="top:41px;right:76px;">3</div>
<div class="l" style="top:80px;left:82px;word-spacing:3.38px;">and the continuous phase transition. In the following, we</div>
<div class="l" style="top:97.38px;left:82px;word-spacing:3.24px;">also perform the simulation at <i>J<sub>a</sub></i> = <i>J<sub>b</sub></i>, since in this case</div>
<div class="l" style="top:114.76px;left:82px;word-spacing:0.91px;">the uniform part of <svg style="vertical-align:-3.5px;overflow:visible" width="4.62" height="14" viewBox="0 0 5 14"><path d="M4,0.5L1,7 L4,13.5" fill="none" stroke="#161616" stroke-width="0.7"/></svg><i>&#963;<sub>z</sub></i><svg style="vertical-align:-3.5px;overflow:visible" width="4.62" height="14" viewBox="0 0 5 14"><path d="M1,0.5L4,7 L1,13.5" fill="none" stroke="#161616" stroke-width="0.7"/></svg> can be treated as a background field</div>
<div class="l" style="top:132.14px;left:82px;word-spacing:-0.09px;">rather than a dynamical field and <i>H</i><sub>Boson</sub> has been solved with</div>
<div class="l" style="top:149.52px;left:82px;">quantum Monte Carlo simulation in Ref. <bl>67</bl>.</div>
<div class="l" style="top:166.9px;left:97.2px;word-spacing:0.87px;"><i>H</i><sub>Fermion</sub> is the <i>&#960;</i>-flux model which gives rise to two Dirac</div>
<div class="l" style="top:184.28px;left:82px;word-spacing:-0.45px;">cones at (<i>&#960;</i>, 0) and (0, <i>&#960;</i>) in the Brillouin zone (BZ). As shown</div>
<div class="l" style="top:201.66px;left:82px;word-spacing:-1.25px;">in Fig. <bl>1</bl> (a), we couple a pair of next-nearest-neighbor fermion</div>
<div class="l" style="top:219.04px;left:82px;word-spacing:-0.76px;">sites in <i>H</i><sub>Coupling</sub> which the sign relys on the spin at the bosonic</div>
<div class="l" style="top:236.42px;left:82px;word-spacing:-0.41px;">site. In the AFM phase of Ising spins, a mass term can be gen-</div>
<div class="l" style="top:253.8px;left:82px;word-spacing:-0.73px;">erated for fermions which gap out the Dirac points, transform-</div>
<div class="l" style="top:271.18px;left:82px;word-spacing:-0.16px;">ing the Dirac semimetal (DSM) into a dynamically-generated</div>
<div class="l" style="top:288.56px;left:82px;word-spacing:-0.84px;">quantum spin Hall insulator (QSH)<cs>54</cs>. In the FP phase, bosonic</div>
<div class="l" style="top:305.94px;left:82px;word-spacing:1.4px;">field still keep the Dirac cone at (<i>&#960;</i>, 0) and (0, <i>&#960;</i>) intact but</div>
<div class="l" style="top:323.32px;left:82px;word-spacing:2.27px;">renomalized the high energy parts of the bands in the BZ.</div>
<div class="l" style="top:340.7px;left:82px;word-spacing:0.86px;">Meanwhile, the original 3D Ising Universility class between</div>
<div class="l" style="top:358.08px;left:82px;word-spacing:1.16px;">AFM phase and FP phase is replaced by chiral Ising Gross-</div>
<div class="l" style="top:375.46px;left:82px;word-spacing:1.95px;">Neveu universality class.This result has been numerical re-</div>
<div class="l" style="top:392.84px;left:82px;">vealed by some of the present authors in Refs. <bl>35</bl> and <bl>54</bl>.</div>
<div class="l" style="top:410.22px;left:97.2px;word-spacing:-0.2px;">In the presence of the coupling to the Dirac fermions, there</div>
<div class="l" style="top:427.6px;left:82px;word-spacing:1px;">are two main theoretical predictions: one is that the fermion</div>
<div class="l" style="top:444.98px;left:82px;word-spacing:-1.35px;">fluctuation can drive the first-order transition into a continuous</div>
<div class="l" style="top:462.36px;left:82px;word-spacing:0.87px;">one<cs>33</cs>. This may indicate that region of the first-order transi-</div>
<div class="l" style="top:479.74px;left:82px;word-spacing:-0.72px;">tion should shrink as long as the coupling to the Dirac fermion</div>
<div class="l" style="top:497.12px;left:82px;word-spacing:2.29px;">is introduced. Surprisingly, in the following, we will show</div>
<div class="l" style="top:514.5px;left:82px;word-spacing:1.07px;">a contrary phenomenon has occurred in the actually DQMC</div>
<div class="l" style="top:531.88px;left:82px;word-spacing:1.17px;">simulation and provide an explanation. The other is that the</div>
<div class="l" style="top:549.26px;left:82px;word-spacing:-0.19px;">universality class of the tricritical point is drastically changed</div>
<div class="l" style="top:566.64px;left:82px;word-spacing:0.59px;">by the gapless Dirac fermions<cs>63</cs>. The first-order and the con-</div>
<div class="l" style="top:584.02px;left:82px;word-spacing:1.04px;">tinuous transition belonging to the chiral Ising Gross-Neveu</div>
<div class="l" style="top:601.4px;left:82px;word-spacing:-0.82px;">univerality class is seperated by this CTP which is in the chiral</div>
<div class="l" style="top:618.78px;left:82px;">tricritical Ising unversality class.</div>
<div class="l" style="top:636.16px;left:97.2px;word-spacing:-0.16px;">The compuation of <i>H</i> can be carried out without sign prob-</div>
<div class="l" style="top:653.54px;left:82px;word-spacing:-0.82px;">lem in DQMC method, and we present the detailed implemen-</div>
<div class="l" style="top:670.92px;left:82px;">tation in Appendix. <bl>A</bl>.</div>
<div class="l" style="top:724.4px;left:85.7px;font-size:13.64px;line-height:15.8px;font-weight:bold;">III.</div>
<div class="l" style="top:724.4px;left:117.2px;font-size:13.64px;line-height:15.8px;font-weight:bold;">FERMION-ENHANCED FIRST-ORDER TRANSITION</div>
<div class="l" style="top:762.2px;left:97.2px;word-spacing:-0.56px;">In Sec. <bl>III&#8201;A</bl>, we first present numerical results showing the</div>
<div class="l" style="top:779.58px;left:82px;word-spacing:-1.25px;">range of the first-order phase transition in our model is actually</div>
<div class="l" style="top:796.96px;left:82px;word-spacing:0.3px;">extended rather than shrunk, i.e. the first order transition line</div>
<div class="l" style="top:814.34px;left:82px;word-spacing:1.21px;">(the red line in our Fig. <bl>1</bl> (b)) in the &#915;<sub><i>x</i></sub> &#8722; &#915;<sub><i>z</i></sub> phase diagram</div>
<div class="l" style="top:831.72px;left:82px;word-spacing:2.2px;">extends a bit towards larger values of &#915;<sub><i>x</i></sub> and &#915;<sub><i>z</i></sub> compared</div>
<div class="l" style="top:849.1px;left:82px;word-spacing:0.62px;">with that of the bare spin model<cs>67</cs>, seemingly contrary to the</div>
<div class="l" style="top:866.48px;left:82px;word-spacing:-0.24px;">expectation. Then in Sec. <bl>III&#8201;B</bl> we will give an self-consistent</div>
<div class="l" style="top:883.86px;left:82px;word-spacing:-0.71px;">explanation based on a modified mean-field analysis to recon-</div>
<div class="l" style="top:901.24px;left:82px;">cile the puzzle.</div>
<div class="l" style="top:954.4px;left:202.9px;font-size:13.64px;line-height:15.8px;font-weight:bold;">A.</div>
<div class="l" style="top:954.4px;left:229.9px;font-size:13.64px;line-height:15.8px;font-weight:bold;">Numerical results</div>
<div class="l" style="top:992px;left:97.2px;word-spacing:2.02px;">In the DQMC simulation, we choose the parameter <i>J<sub>a</sub></i> =</div>
<div class="l" style="top:1009.2px;left:82px;word-spacing:-0.19px;"><i>J<sub>b</sub></i> = 1 and explore the phase transition properties by scanning</div>
<div class="l" style="top:1026.4px;left:82px;">the &#915;<sub><i>z</i></sub> for different &#915;<sub><i>x</i></sub>.</div>
<div class="l" style="top:1044.2px;left:97.2px;word-spacing:1.21px;">For finite-size systems, phase transition properties can be</div>
<div class="l" style="top:1061.6px;left:82px;word-spacing:1.45px;">reflected by the behavior of the Binder ratio near the phase</div>
<div class="l" style="top:1078.9px;left:82px;word-spacing:0.9px;">transition point. In the present case the Binder ratio is given</div>
<div class="l" style="top:964.2px;left:480.4px;font-size:13.64px;line-height:15.8px;word-spacing:0.91px;">FIG. 2. Binder ratio <i>B</i><sub>2</sub> in different couplings <i>&#955;</i>. (a) Binder ratio of</div>
<div class="l" style="top:979.8px;left:480.4px;font-size:13.64px;line-height:15.8px;word-spacing:-0.08px;">continue phase transition for the case of <i>&#955;</i> = 0.0, &#915;<sub><i>x</i></sub> = 4.4. (b) Binder</div>
<div class="l" style="top:995.4px;left:480.4px;font-size:13.64px;line-height:15.8px;word-spacing:0.08px;">ratio close to the tricritical point for the case of <i>&#955;</i> = 0.0, &#915;<sub><i>x</i></sub> = 4.0. (c)</div>
<div class="l" style="top:1011px;left:480.4px;font-size:13.64px;line-height:15.8px;">Binder ratio of first order transition for the case of <i>&#955;</i> = 0.3, &#915;<sub><i>x</i></sub> = 4.0.</div>
<div class="l" style="top:87.49px;left:503.4px;font-size:19px;line-height:20px;">(a)</div>
<div class="l" style="top:379.59px;left:503.4px;font-size:19px;line-height:20px;">(b)</div>
<div class="l" style="top:664.89px;left:503.4px;font-size:19px;line-height:20px;">(c)</div>
<svg class="ov" width="927" height="1200" viewBox="0 0 927 1200">
<path d="M528.6,145.05 L588.6,157.4 L612.6,168.8 L636.6,187.8 L684.6,250.5 L708.6,282.8 L732.6,299.9 L756.6,308.45 L780.6,315.1 L804.6,317 L828.6,320.8" stroke="#9400d3" stroke-width="1.1" fill="none"/><path d="M528.6,142.77V147.33M526.8,142.77h3.6M526.8,147.33h3.6" stroke="#9400d3" stroke-width="0.9" fill="none"/><path d="M525,145.05H532.2M528.6,141.45V148.65" stroke="#9400d3" stroke-width="1.0" fill="none"/><path d="M588.6,154.55V160.25M586.8,154.55h3.6M586.8,160.25h3.6" stroke="#9400d3" stroke-width="0.9" fill="none"/><path d="M585,157.4H592.2M588.6,153.8V161" stroke="#9400d3" stroke-width="1.0" fill="none"/><path d="M612.6,165V172.6M610.8,165h3.6M610.8,172.6h3.6" stroke="#9400d3" stroke-width="0.9" fill="none"/><path d="M609,168.8H616.2M612.6,165.2V172.4" stroke="#9400d3" stroke-width="1.0" fill="none"/><path d="M636.6,184V191.6M634.8,184h3.6M634.8,191.6h3.6" stroke="#9400d3" stroke-width="0.9" fill="none"/><path d="M633,187.8H640.2M636.6,184.2V191.4" stroke="#9400d3" stroke-width="1.0" fill="none"/><path d="M684.6,244.8V256.2M682.8,244.8h3.6M682.8,256.2h3.6" stroke="#9400d3" stroke-width="0.9" fill="none"/><path d="M681,250.5H688.2M684.6,246.9V254.1" stroke="#9400d3" stroke-width="1.0" fill="none"/><path d="M708.6,273.3V292.3M706.8,273.3h3.6M706.8,292.3h3.6" stroke="#9400d3" stroke-width="0.9" fill="none"/><path d="M705,282.8H712.2M708.6,279.2V286.4" stroke="#9400d3" stroke-width="1.0" fill="none"/><path d="M732.6,288.5V311.3M730.8,288.5h3.6M730.8,311.3h3.6" stroke="#9400d3" stroke-width="0.9" fill="none"/><path d="M729,299.9H736.2M732.6,296.3V303.5" stroke="#9400d3" stroke-width="1.0" fill="none"/><path d="M756.6,298V318.9M754.8,298h3.6M754.8,318.9h3.6" stroke="#9400d3" stroke-width="0.9" fill="none"/><path d="M753,308.45H760.2M756.6,304.85V312.05" stroke="#9400d3" stroke-width="1.0" fill="none"/><path d="M780.6,305.6V324.6M778.8,305.6h3.6M778.8,324.6h3.6" stroke="#9400d3" stroke-width="0.9" fill="none"/><path d="M777,315.1H784.2M780.6,311.5V318.7" stroke="#9400d3" stroke-width="1.0" fill="none"/><path d="M804.6,309.4V324.6M802.8,309.4h3.6M802.8,324.6h3.6" stroke="#9400d3" stroke-width="0.9" fill="none"/><path d="M801,317H808.2M804.6,313.4V320.6" stroke="#9400d3" stroke-width="1.0" fill="none"/><path d="M828.6,311.3V330.3M826.8,311.3h3.6M826.8,330.3h3.6" stroke="#9400d3" stroke-width="0.9" fill="none"/><path d="M825,320.8H832.2M828.6,317.2V324.4" stroke="#9400d3" stroke-width="1.0" fill="none"/>
<path d="M528.6,137.45 L588.6,145.05 L612.6,151.7 L636.6,165 L684.6,254.3 L696.6,279 L708.6,299.9 L732.6,313.2 L756.6,315.1 L780.6,317 L804.6,317 L828.6,317.95" stroke="#009e73" stroke-width="1.1" fill="none"/><path d="M528.6,135.17V139.73M526.8,135.17h3.6M526.8,139.73h3.6" stroke="#009e73" stroke-width="0.9" fill="none"/><path d="M525,133.85L532.2,141.05M525,141.05L532.2,133.85" stroke="#009e73" stroke-width="1.0" fill="none"/><path d="M588.6,142.77V147.33M586.8,142.77h3.6M586.8,147.33h3.6" stroke="#009e73" stroke-width="0.9" fill="none"/><path d="M585,141.45L592.2,148.65M585,148.65L592.2,141.45" stroke="#009e73" stroke-width="1.0" fill="none"/><path d="M612.6,149.42V153.98M610.8,149.42h3.6M610.8,153.98h3.6" stroke="#009e73" stroke-width="0.9" fill="none"/><path d="M609,148.1L616.2,155.3M609,155.3L616.2,148.1" stroke="#009e73" stroke-width="1.0" fill="none"/><path d="M636.6,162.72V167.28M634.8,162.72h3.6M634.8,167.28h3.6" stroke="#009e73" stroke-width="0.9" fill="none"/><path d="M633,161.4L640.2,168.6M633,168.6L640.2,161.4" stroke="#009e73" stroke-width="1.0" fill="none"/><path d="M684.6,252.02V256.58M682.8,252.02h3.6M682.8,256.58h3.6" stroke="#009e73" stroke-width="0.9" fill="none"/><path d="M681,250.7L688.2,257.9M681,257.9L688.2,250.7" stroke="#009e73" stroke-width="1.0" fill="none"/><path d="M696.6,276.72V281.28M694.8,276.72h3.6M694.8,281.28h3.6" stroke="#009e73" stroke-width="0.9" fill="none"/><path d="M693,275.4L700.2,282.6M693,282.6L700.2,275.4" stroke="#009e73" stroke-width="1.0" fill="none"/><path d="M708.6,297.62V302.18M706.8,297.62h3.6M706.8,302.18h3.6" stroke="#009e73" stroke-width="0.9" fill="none"/><path d="M705,296.3L712.2,303.5M705,303.5L712.2,296.3" stroke="#009e73" stroke-width="1.0" fill="none"/><path d="M732.6,309.4V317M730.8,309.4h3.6M730.8,317h3.6" stroke="#009e73" stroke-width="0.9" fill="none"/><path d="M729,309.6L736.2,316.8M729,316.8L736.2,309.6" stroke="#009e73" stroke-width="1.0" fill="none"/><path d="M756.6,311.3V318.9M754.8,311.3h3.6M754.8,318.9h3.6" stroke="#009e73" stroke-width="0.9" fill="none"/><path d="M753,311.5L760.2,318.7M753,318.7L760.2,311.5" stroke="#009e73" stroke-width="1.0" fill="none"/><path d="M780.6,313.2V320.8M778.8,313.2h3.6M778.8,320.8h3.6" stroke="#009e73" stroke-width="0.9" fill="none"/><path d="M777,313.4L784.2,320.6M777,320.6L784.2,313.4" stroke="#009e73" stroke-width="1.0" fill="none"/><path d="M804.6,313.2V320.8M802.8,313.2h3.6M802.8,320.8h3.6" stroke="#009e73" stroke-width="0.9" fill="none"/><path d="M801,313.4L808.2,320.6M801,320.6L808.2,313.4" stroke="#009e73" stroke-width="1.0" fill="none"/><path d="M828.6,314.15V321.75M826.8,314.15h3.6M826.8,321.75h3.6" stroke="#009e73" stroke-width="0.9" fill="none"/><path d="M825,314.35L832.2,321.55M825,321.55L832.2,314.35" stroke="#009e73" stroke-width="1.0" fill="none"/>
<path d="M528.6,134.6 L588.6,141.25 L612.6,147.9 L636.6,163.1 L684.6,254.3 L696.6,279 L708.6,301.8 L732.6,317 L756.6,318.9 L780.6,318.9 L804.6,317 L828.6,318.9" stroke="#56b4e9" stroke-width="1.1" fill="none"/><path d="M528.6,132.32V136.88M526.8,132.32h3.6M526.8,136.88h3.6" stroke="#56b4e9" stroke-width="0.9" fill="none"/><path d="M525,134.6H532.2M528.6,131V138.2M526.08,132.08L531.12,137.12M526.08,137.12L531.12,132.08" stroke="#56b4e9" stroke-width="1.0" fill="none"/><path d="M588.6,138.97V143.53M586.8,138.97h3.6M586.8,143.53h3.6" stroke="#56b4e9" stroke-width="0.9" fill="none"/><path d="M585,141.25H592.2M588.6,137.65V144.85M586.08,138.73L591.12,143.77M586.08,143.77L591.12,138.73" stroke="#56b4e9" stroke-width="1.0" fill="none"/><path d="M612.6,145.62V150.18M610.8,145.62h3.6M610.8,150.18h3.6" stroke="#56b4e9" stroke-width="0.9" fill="none"/><path d="M609,147.9H616.2M612.6,144.3V151.5M610.08,145.38L615.12,150.42M610.08,150.42L615.12,145.38" stroke="#56b4e9" stroke-width="1.0" fill="none"/><path d="M636.6,160.82V165.38M634.8,160.82h3.6M634.8,165.38h3.6" stroke="#56b4e9" stroke-width="0.9" fill="none"/><path d="M633,163.1H640.2M636.6,159.5V166.7M634.08,160.58L639.12,165.62M634.08,165.62L639.12,160.58" stroke="#56b4e9" stroke-width="1.0" fill="none"/><path d="M684.6,252.02V256.58M682.8,252.02h3.6M682.8,256.58h3.6" stroke="#56b4e9" stroke-width="0.9" fill="none"/><path d="M681,254.3H688.2M684.6,250.7V257.9M682.08,251.78L687.12,256.82M682.08,256.82L687.12,251.78" stroke="#56b4e9" stroke-width="1.0" fill="none"/><path d="M696.6,276.72V281.28M694.8,276.72h3.6M694.8,281.28h3.6" stroke="#56b4e9" stroke-width="0.9" fill="none"/><path d="M693,279H700.2M696.6,275.4V282.6M694.08,276.48L699.12,281.52M694.08,281.52L699.12,276.48" stroke="#56b4e9" stroke-width="1.0" fill="none"/><path d="M708.6,299.52V304.08M706.8,299.52h3.6M706.8,304.08h3.6" stroke="#56b4e9" stroke-width="0.9" fill="none"/><path d="M705,301.8H712.2M708.6,298.2V305.4M706.08,299.28L711.12,304.32M706.08,304.32L711.12,299.28" stroke="#56b4e9" stroke-width="1.0" fill="none"/><path d="M732.6,313.2V320.8M730.8,313.2h3.6M730.8,320.8h3.6" stroke="#56b4e9" stroke-width="0.9" fill="none"/><path d="M729,317H736.2M732.6,313.4V320.6M730.08,314.48L735.12,319.52M730.08,319.52L735.12,314.48" stroke="#56b4e9" stroke-width="1.0" fill="none"/><path d="M756.6,315.1V322.7M754.8,315.1h3.6M754.8,322.7h3.6" stroke="#56b4e9" stroke-width="0.9" fill="none"/><path d="M753,318.9H760.2M756.6,315.3V322.5M754.08,316.38L759.12,321.42M754.08,321.42L759.12,316.38" stroke="#56b4e9" stroke-width="1.0" fill="none"/><path d="M780.6,315.1V322.7M778.8,315.1h3.6M778.8,322.7h3.6" stroke="#56b4e9" stroke-width="0.9" fill="none"/><path d="M777,318.9H784.2M780.6,315.3V322.5M778.08,316.38L783.12,321.42M778.08,321.42L783.12,316.38" stroke="#56b4e9" stroke-width="1.0" fill="none"/><path d="M804.6,313.2V320.8M802.8,313.2h3.6M802.8,320.8h3.6" stroke="#56b4e9" stroke-width="0.9" fill="none"/><path d="M801,317H808.2M804.6,313.4V320.6M802.08,314.48L807.12,319.52M802.08,319.52L807.12,314.48" stroke="#56b4e9" stroke-width="1.0" fill="none"/><path d="M828.6,315.1V322.7M826.8,315.1h3.6M826.8,322.7h3.6" stroke="#56b4e9" stroke-width="0.9" fill="none"/><path d="M825,318.9H832.2M828.6,315.3V322.5M826.08,316.38L831.12,321.42M826.08,321.42L831.12,316.38" stroke="#56b4e9" stroke-width="1.0" fill="none"/>
<path d="M528.6,132.7 L588.6,136.5 L612.6,140.3 L636.6,147.9 L648.6,159.3 L672.6,212.5 L684.6,256.2 L696.6,292.3 L708.6,305.6 L732.6,317 L756.6,318.9 L780.6,318.9 L804.6,317.95 L828.6,320.8" stroke="#e69f00" stroke-width="1.1" fill="none"/><path d="M528.6,130.42V134.98M526.8,130.42h3.6M526.8,134.98h3.6" stroke="#e69f00" stroke-width="0.9" fill="none"/><rect x="525.54" y="129.64" width="6.12" height="6.12" stroke="#e69f00" stroke-width="1.0" fill="none"/><path d="M588.6,134.22V138.78M586.8,134.22h3.6M586.8,138.78h3.6" stroke="#e69f00" stroke-width="0.9" fill="none"/><rect x="585.54" y="133.44" width="6.12" height="6.12" stroke="#e69f00" stroke-width="1.0" fill="none"/><path d="M612.6,138.02V142.58M610.8,138.02h3.6M610.8,142.58h3.6" stroke="#e69f00" stroke-width="0.9" fill="none"/><rect x="609.54" y="137.24" width="6.12" height="6.12" stroke="#e69f00" stroke-width="1.0" fill="none"/><path d="M636.6,145.62V150.18M634.8,145.62h3.6M634.8,150.18h3.6" stroke="#e69f00" stroke-width="0.9" fill="none"/><rect x="633.54" y="144.84" width="6.12" height="6.12" stroke="#e69f00" stroke-width="1.0" fill="none"/><path d="M648.6,157.02V161.58M646.8,157.02h3.6M646.8,161.58h3.6" stroke="#e69f00" stroke-width="0.9" fill="none"/><rect x="645.54" y="156.24" width="6.12" height="6.12" stroke="#e69f00" stroke-width="1.0" fill="none"/><path d="M672.6,210.22V214.78M670.8,210.22h3.6M670.8,214.78h3.6" stroke="#e69f00" stroke-width="0.9" fill="none"/><rect x="669.54" y="209.44" width="6.12" height="6.12" stroke="#e69f00" stroke-width="1.0" fill="none"/><path d="M684.6,253.92V258.48M682.8,253.92h3.6M682.8,258.48h3.6" stroke="#e69f00" stroke-width="0.9" fill="none"/><rect x="681.54" y="253.14" width="6.12" height="6.12" stroke="#e69f00" stroke-width="1.0" fill="none"/><path d="M696.6,290.02V294.58M694.8,290.02h3.6M694.8,294.58h3.6" stroke="#e69f00" stroke-width="0.9" fill="none"/><rect x="693.54" y="289.24" width="6.12" height="6.12" stroke="#e69f00" stroke-width="1.0" fill="none"/><path d="M708.6,303.32V307.88M706.8,303.32h3.6M706.8,307.88h3.6" stroke="#e69f00" stroke-width="0.9" fill="none"/><rect x="705.54" y="302.54" width="6.12" height="6.12" stroke="#e69f00" stroke-width="1.0" fill="none"/><path d="M732.6,313.2V320.8M730.8,313.2h3.6M730.8,320.8h3.6" stroke="#e69f00" stroke-width="0.9" fill="none"/><rect x="729.54" y="313.94" width="6.12" height="6.12" stroke="#e69f00" stroke-width="1.0" fill="none"/><path d="M756.6,315.1V322.7M754.8,315.1h3.6M754.8,322.7h3.6" stroke="#e69f00" stroke-width="0.9" fill="none"/><rect x="753.54" y="315.84" width="6.12" height="6.12" stroke="#e69f00" stroke-width="1.0" fill="none"/><path d="M780.6,315.1V322.7M778.8,315.1h3.6M778.8,322.7h3.6" stroke="#e69f00" stroke-width="0.9" fill="none"/><rect x="777.54" y="315.84" width="6.12" height="6.12" stroke="#e69f00" stroke-width="1.0" fill="none"/><path d="M804.6,314.15V321.75M802.8,314.15h3.6M802.8,321.75h3.6" stroke="#e69f00" stroke-width="0.9" fill="none"/><rect x="801.54" y="314.89" width="6.12" height="6.12" stroke="#e69f00" stroke-width="1.0" fill="none"/><path d="M828.6,317V324.6M826.8,317h3.6M826.8,324.6h3.6" stroke="#e69f00" stroke-width="0.9" fill="none"/><rect x="825.54" y="317.74" width="6.12" height="6.12" stroke="#e69f00" stroke-width="1.0" fill="none"/>
<path d="M528.6,130.8 L588.6,134.6 L612.6,138.4 L636.6,142.2 L648.6,147.9 L660.6,157.4 L672.6,216.3 L684.6,260 L696.6,290.4 L708.6,307.5 L732.6,317 L756.6,318.9 L780.6,317 L804.6,317 L828.6,318.9" stroke="#f0e442" stroke-width="1.1" fill="none"/><path d="M528.6,128.52V133.08M526.8,128.52h3.6M526.8,133.08h3.6" stroke="#f0e442" stroke-width="0.9" fill="none"/><rect x="525.36" y="127.56" width="6.48" height="6.48" fill="#f0e442"/><path d="M588.6,132.32V136.88M586.8,132.32h3.6M586.8,136.88h3.6" stroke="#f0e442" stroke-width="0.9" fill="none"/><rect x="585.36" y="131.36" width="6.48" height="6.48" fill="#f0e442"/><path d="M612.6,136.12V140.68M610.8,136.12h3.6M610.8,140.68h3.6" stroke="#f0e442" stroke-width="0.9" fill="none"/><rect x="609.36" y="135.16" width="6.48" height="6.48" fill="#f0e442"/><path d="M636.6,139.92V144.48M634.8,139.92h3.6M634.8,144.48h3.6" stroke="#f0e442" stroke-width="0.9" fill="none"/><rect x="633.36" y="138.96" width="6.48" height="6.48" fill="#f0e442"/><path d="M648.6,145.62V150.18M646.8,145.62h3.6M646.8,150.18h3.6" stroke="#f0e442" stroke-width="0.9" fill="none"/><rect x="645.36" y="144.66" width="6.48" height="6.48" fill="#f0e442"/><path d="M660.6,155.12V159.68M658.8,155.12h3.6M658.8,159.68h3.6" stroke="#f0e442" stroke-width="0.9" fill="none"/><rect x="657.36" y="154.16" width="6.48" height="6.48" fill="#f0e442"/><path d="M672.6,214.02V218.58M670.8,214.02h3.6M670.8,218.58h3.6" stroke="#f0e442" stroke-width="0.9" fill="none"/><rect x="669.36" y="213.06" width="6.48" height="6.48" fill="#f0e442"/><path d="M684.6,257.72V262.28M682.8,257.72h3.6M682.8,262.28h3.6" stroke="#f0e442" stroke-width="0.9" fill="none"/><rect x="681.36" y="256.76" width="6.48" height="6.48" fill="#f0e442"/><path d="M696.6,288.12V292.68M694.8,288.12h3.6M694.8,292.68h3.6" stroke="#f0e442" stroke-width="0.9" fill="none"/><rect x="693.36" y="287.16" width="6.48" height="6.48" fill="#f0e442"/><path d="M708.6,305.22V309.78M706.8,305.22h3.6M706.8,309.78h3.6" stroke="#f0e442" stroke-width="0.9" fill="none"/><rect x="705.36" y="304.26" width="6.48" height="6.48" fill="#f0e442"/><path d="M732.6,313.2V320.8M730.8,313.2h3.6M730.8,320.8h3.6" stroke="#f0e442" stroke-width="0.9" fill="none"/><rect x="729.36" y="313.76" width="6.48" height="6.48" fill="#f0e442"/><path d="M756.6,315.1V322.7M754.8,315.1h3.6M754.8,322.7h3.6" stroke="#f0e442" stroke-width="0.9" fill="none"/><rect x="753.36" y="315.66" width="6.48" height="6.48" fill="#f0e442"/><path d="M780.6,313.2V320.8M778.8,313.2h3.6M778.8,320.8h3.6" stroke="#f0e442" stroke-width="0.9" fill="none"/><rect x="777.36" y="313.76" width="6.48" height="6.48" fill="#f0e442"/><path d="M804.6,313.2V320.8M802.8,313.2h3.6M802.8,320.8h3.6" stroke="#f0e442" stroke-width="0.9" fill="none"/><rect x="801.36" y="313.76" width="6.48" height="6.48" fill="#f0e442"/><path d="M828.6,315.1V322.7M826.8,315.1h3.6M826.8,322.7h3.6" stroke="#f0e442" stroke-width="0.9" fill="none"/><rect x="825.36" y="315.66" width="6.48" height="6.48" fill="#f0e442"/>
<path d="M528.6,132.7 L588.6,133.65 L612.6,136.5 L636.6,145.05 L648.6,146.95 L654.6,151.7 L660.6,157.4 L666.6,172.6 L672.6,191.6 L678.6,225.8 L684.6,250.5 L690.6,269.5 L696.6,282.8 L702.6,294.2 L708.6,298 L732.6,317 L756.6,314.15 L780.6,317 L804.6,317 L828.6,317" stroke="#0072b2" stroke-width="1.1" fill="none"/><path d="M528.6,130.42V134.98M526.8,130.42h3.6M526.8,134.98h3.6" stroke="#0072b2" stroke-width="0.9" fill="none"/><circle cx="528.6" cy="132.7" r="3.42" stroke="#0072b2" stroke-width="1.0" fill="none"/><path d="M588.6,131.37V135.93M586.8,131.37h3.6M586.8,135.93h3.6" stroke="#0072b2" stroke-width="0.9" fill="none"/><circle cx="588.6" cy="133.65" r="3.42" stroke="#0072b2" stroke-width="1.0" fill="none"/><path d="M612.6,134.22V138.78M610.8,134.22h3.6M610.8,138.78h3.6" stroke="#0072b2" stroke-width="0.9" fill="none"/><circle cx="612.6" cy="136.5" r="3.42" stroke="#0072b2" stroke-width="1.0" fill="none"/><path d="M636.6,142.77V147.33M634.8,142.77h3.6M634.8,147.33h3.6" stroke="#0072b2" stroke-width="0.9" fill="none"/><circle cx="636.6" cy="145.05" r="3.42" stroke="#0072b2" stroke-width="1.0" fill="none"/><path d="M648.6,144.67V149.23M646.8,144.67h3.6M646.8,149.23h3.6" stroke="#0072b2" stroke-width="0.9" fill="none"/><circle cx="648.6" cy="146.95" r="3.42" stroke="#0072b2" stroke-width="1.0" fill="none"/><path d="M654.6,149.42V153.98M652.8,149.42h3.6M652.8,153.98h3.6" stroke="#0072b2" stroke-width="0.9" fill="none"/><circle cx="654.6" cy="151.7" r="3.42" stroke="#0072b2" stroke-width="1.0" fill="none"/><path d="M660.6,155.12V159.68M658.8,155.12h3.6M658.8,159.68h3.6" stroke="#0072b2" stroke-width="0.9" fill="none"/><circle cx="660.6" cy="157.4" r="3.42" stroke="#0072b2" stroke-width="1.0" fill="none"/><path d="M666.6,170.32V174.88M664.8,170.32h3.6M664.8,174.88h3.6" stroke="#0072b2" stroke-width="0.9" fill="none"/><circle cx="666.6" cy="172.6" r="3.42" stroke="#0072b2" stroke-width="1.0" fill="none"/><path d="M672.6,189.32V193.88M670.8,189.32h3.6M670.8,193.88h3.6" stroke="#0072b2" stroke-width="0.9" fill="none"/><circle cx="672.6" cy="191.6" r="3.42" stroke="#0072b2" stroke-width="1.0" fill="none"/><path d="M678.6,223.52V228.08M676.8,223.52h3.6M676.8,228.08h3.6" stroke="#0072b2" stroke-width="0.9" fill="none"/><circle cx="678.6" cy="225.8" r="3.42" stroke="#0072b2" stroke-width="1.0" fill="none"/><path d="M684.6,248.22V252.78M682.8,248.22h3.6M682.8,252.78h3.6" stroke="#0072b2" stroke-width="0.9" fill="none"/><circle cx="684.6" cy="250.5" r="3.42" stroke="#0072b2" stroke-width="1.0" fill="none"/><path d="M690.6,267.22V271.78M688.8,267.22h3.6M688.8,271.78h3.6" stroke="#0072b2" stroke-width="0.9" fill="none"/><circle cx="690.6" cy="269.5" r="3.42" stroke="#0072b2" stroke-width="1.0" fill="none"/><path d="M696.6,280.52V285.08M694.8,280.52h3.6M694.8,285.08h3.6" stroke="#0072b2" stroke-width="0.9" fill="none"/><circle cx="696.6" cy="282.8" r="3.42" stroke="#0072b2" stroke-width="1.0" fill="none"/><path d="M702.6,291.92V296.48M700.8,291.92h3.6M700.8,296.48h3.6" stroke="#0072b2" stroke-width="0.9" fill="none"/><circle cx="702.6" cy="294.2" r="3.42" stroke="#0072b2" stroke-width="1.0" fill="none"/><path d="M708.6,295.72V300.28M706.8,295.72h3.6M706.8,300.28h3.6" stroke="#0072b2" stroke-width="0.9" fill="none"/><circle cx="708.6" cy="298" r="3.42" stroke="#0072b2" stroke-width="1.0" fill="none"/><path d="M732.6,313.2V320.8M730.8,313.2h3.6M730.8,320.8h3.6" stroke="#0072b2" stroke-width="0.9" fill="none"/><circle cx="732.6" cy="317" r="3.42" stroke="#0072b2" stroke-width="1.0" fill="none"/><path d="M756.6,310.35V317.95M754.8,310.35h3.6M754.8,317.95h3.6" stroke="#0072b2" stroke-width="0.9" fill="none"/><circle cx="756.6" cy="314.15" r="3.42" stroke="#0072b2" stroke-width="1.0" fill="none"/><path d="M780.6,313.2V320.8M778.8,313.2h3.6M778.8,320.8h3.6" stroke="#0072b2" stroke-width="0.9" fill="none"/><circle cx="780.6" cy="317" r="3.42" stroke="#0072b2" stroke-width="1.0" fill="none"/><path d="M804.6,313.2V320.8M802.8,313.2h3.6M802.8,320.8h3.6" stroke="#0072b2" stroke-width="0.9" fill="none"/><circle cx="804.6" cy="317" r="3.42" stroke="#0072b2" stroke-width="1.0" fill="none"/><path d="M828.6,313.2V320.8M826.8,313.2h3.6M826.8,320.8h3.6" stroke="#0072b2" stroke-width="0.9" fill="none"/><circle cx="828.6" cy="317" r="3.42" stroke="#0072b2" stroke-width="1.0" fill="none"/>
<rect x="528.6" y="119.1" width="305.2" height="216.9" fill="none" stroke="#222" stroke-width="0.9"/><text x="528.6" y="345.4" text-anchor="middle" style="font-family:&quot;Liberation Sans&quot;,sans-serif;font-size:9.2px" fill="#222">3.1</text><text x="588.6" y="345.4" text-anchor="middle" style="font-family:&quot;Liberation Sans&quot;,sans-serif;font-size:9.2px" fill="#222">3.2</text><text x="648.6" y="345.4" text-anchor="middle" style="font-family:&quot;Liberation Sans&quot;,sans-serif;font-size:9.2px" fill="#222">3.3</text><text x="708.6" y="345.4" text-anchor="middle" style="font-family:&quot;Liberation Sans&quot;,sans-serif;font-size:9.2px" fill="#222">3.4</text><text x="768.6" y="345.4" text-anchor="middle" style="font-family:&quot;Liberation Sans&quot;,sans-serif;font-size:9.2px" fill="#222">3.5</text><text x="828.6" y="345.4" text-anchor="middle" style="font-family:&quot;Liberation Sans&quot;,sans-serif;font-size:9.2px" fill="#222">3.6</text><text x="526.6" y="320.2" text-anchor="end" style="font-family:&quot;Liberation Sans&quot;,sans-serif;font-size:9.2px" fill="#222">0.0</text><text x="526.6" y="282.2" text-anchor="end" style="font-family:&quot;Liberation Sans&quot;,sans-serif;font-size:9.2px" fill="#222">0.2</text><text x="526.6" y="244.2" text-anchor="end" style="font-family:&quot;Liberation Sans&quot;,sans-serif;font-size:9.2px" fill="#222">0.4</text><text x="526.6" y="206.2" text-anchor="end" style="font-family:&quot;Liberation Sans&quot;,sans-serif;font-size:9.2px" fill="#222">0.6</text><text x="526.6" y="168.2" text-anchor="end" style="font-family:&quot;Liberation Sans&quot;,sans-serif;font-size:9.2px" fill="#222">0.8</text><text x="526.6" y="130.2" text-anchor="end" style="font-family:&quot;Liberation Sans&quot;,sans-serif;font-size:9.2px" fill="#222">1.0</text><path d="M528.6,336v-4M528.6,119.1v4M588.6,336v-4M588.6,119.1v4M648.6,336v-4M648.6,119.1v4M708.6,336v-4M708.6,119.1v4M768.6,336v-4M768.6,119.1v4M828.6,336v-4M828.6,119.1v4M528.6,317h4M833.8,317h-4M528.6,279h4M833.8,279h-4M528.6,241h4M833.8,241h-4M528.6,203h4M833.8,203h-4M528.6,165h4M833.8,165h-4M528.6,127h4M833.8,127h-4" stroke="#222" stroke-width="0.8" fill="none"/>
<text x="764" y="140.3" text-anchor="end" style="font-size:11.5px" fill="#222" textLength="28.3" lengthAdjust="spacing"><tspan font-style="italic">L</tspan> = 6</text><path d="M775,136.5H803.4M775,133.5v6M803.4,133.5v6" stroke="#9400d3" stroke-width="1.1" fill="none"/><path d="M784.9,136.5H793.5M789.2,132.2V140.8" stroke="#9400d3" stroke-width="1.0" fill="none"/><text x="764" y="156.8" text-anchor="end" style="font-size:11.5px" fill="#222" textLength="28.3" lengthAdjust="spacing"><tspan font-style="italic">L</tspan> = 8</text><path d="M775,153H803.4M775,150v6M803.4,150v6" stroke="#009e73" stroke-width="1.1" fill="none"/><path d="M784.9,148.7L793.5,157.3M784.9,157.3L793.5,148.7" stroke="#009e73" stroke-width="1.0" fill="none"/><text x="764" y="172.8" text-anchor="end" style="font-size:11.5px" fill="#222" textLength="32.6" lengthAdjust="spacing"><tspan font-style="italic">L</tspan> = 10</text><path d="M775,169H803.4M775,166v6M803.4,166v6" stroke="#56b4e9" stroke-width="1.1" fill="none"/><path d="M784.9,169H793.5M789.2,164.7V173.3M786.19,165.99L792.21,172.01M786.19,172.01L792.21,165.99" stroke="#56b4e9" stroke-width="1.0" fill="none"/><text x="764" y="188.6" text-anchor="end" style="font-size:11.5px" fill="#222" textLength="32.6" lengthAdjust="spacing"><tspan font-style="italic">L</tspan> = 12</text><path d="M775,184.8H803.4M775,181.8v6M803.4,181.8v6" stroke="#e69f00" stroke-width="1.1" fill="none"/><rect x="785.55" y="181.15" width="7.31" height="7.31" stroke="#e69f00" stroke-width="1.0" fill="none"/><text x="764" y="205.1" text-anchor="end" style="font-size:11.5px" fill="#222" textLength="32.6" lengthAdjust="spacing"><tspan font-style="italic">L</tspan> = 14</text><path d="M775,201.3H803.4M775,198.3v6M803.4,198.3v6" stroke="#f0e442" stroke-width="1.1" fill="none"/><rect x="785.33" y="197.43" width="7.74" height="7.74" fill="#f0e442"/><text x="764" y="220.8" text-anchor="end" style="font-size:11.5px" fill="#222" textLength="32.6" lengthAdjust="spacing"><tspan font-style="italic">L</tspan> = 16</text><path d="M775,217H803.4M775,214v6M803.4,214v6" stroke="#0072b2" stroke-width="1.1" fill="none"/><circle cx="789.2" cy="217" r="4.08" stroke="#0072b2" stroke-width="1.0" fill="none"/>
<text transform="translate(511,228) rotate(-90)" text-anchor="middle" style="font-size:14px" fill="#222"><tspan font-style="italic">B</tspan><tspan font-size="10" dy="3">2</tspan></text>
<text x="680" y="360.6" text-anchor="middle" style="font-size:15px" fill="#222">&#915;<tspan font-size="10" dy="3" font-style="italic">z</tspan></text>
<path d="M531.7,427.01 L568.93,429.05 L606.16,430.41 L643.39,435.16 L680.62,459.58 L695.51,508.43 L702.96,551.86 L710.4,568.14 L717.85,560 L755.08,577.64 L792.31,572.89 L829.54,574.93" stroke="#9400d3" stroke-width="1.1" fill="none"/><path d="M531.7,425.39V428.64M529.9,425.39h3.6M529.9,428.64h3.6" stroke="#9400d3" stroke-width="0.9" fill="none"/><path d="M528.1,427.01H535.3M531.7,423.41V430.61" stroke="#9400d3" stroke-width="1.0" fill="none"/><path d="M568.93,427.42V430.68M567.13,427.42h3.6M567.13,430.68h3.6" stroke="#9400d3" stroke-width="0.9" fill="none"/><path d="M565.33,429.05H572.53M568.93,425.45V432.65" stroke="#9400d3" stroke-width="1.0" fill="none"/><path d="M606.16,428.78V432.03M604.36,428.78h3.6M604.36,432.03h3.6" stroke="#9400d3" stroke-width="0.9" fill="none"/><path d="M602.56,430.41H609.76M606.16,426.81V434.01" stroke="#9400d3" stroke-width="1.0" fill="none"/><path d="M643.39,433.53V436.78M641.59,433.53h3.6M641.59,436.78h3.6" stroke="#9400d3" stroke-width="0.9" fill="none"/><path d="M639.79,435.16H646.99M643.39,431.56V438.76" stroke="#9400d3" stroke-width="1.0" fill="none"/><path d="M680.62,457.95V461.21M678.82,457.95h3.6M678.82,461.21h3.6" stroke="#9400d3" stroke-width="0.9" fill="none"/><path d="M677.02,459.58H684.22M680.62,455.98V463.18" stroke="#9400d3" stroke-width="1.0" fill="none"/><path d="M695.51,506.81V510.06M693.71,506.81h3.6M693.71,510.06h3.6" stroke="#9400d3" stroke-width="0.9" fill="none"/><path d="M691.91,508.43H699.11M695.51,504.83V512.03" stroke="#9400d3" stroke-width="1.0" fill="none"/><path d="M702.96,542.36V561.36M701.16,542.36h3.6M701.16,561.36h3.6" stroke="#9400d3" stroke-width="0.9" fill="none"/><path d="M699.36,551.86H706.56M702.96,548.26V555.46" stroke="#9400d3" stroke-width="1.0" fill="none"/><path d="M710.4,558.64V577.64M708.6,558.64h3.6M708.6,577.64h3.6" stroke="#9400d3" stroke-width="0.9" fill="none"/><path d="M706.8,568.14H714M710.4,564.54V571.74" stroke="#9400d3" stroke-width="1.0" fill="none"/><path d="M717.85,550.5V569.5M716.05,550.5h3.6M716.05,569.5h3.6" stroke="#9400d3" stroke-width="0.9" fill="none"/><path d="M714.25,560H721.45M717.85,556.4V563.6" stroke="#9400d3" stroke-width="1.0" fill="none"/><path d="M755.08,573.57V581.71M753.28,573.57h3.6M753.28,581.71h3.6" stroke="#9400d3" stroke-width="0.9" fill="none"/><path d="M751.48,577.64H758.68M755.08,574.04V581.24" stroke="#9400d3" stroke-width="1.0" fill="none"/><path d="M792.31,568.82V576.96M790.51,568.82h3.6M790.51,576.96h3.6" stroke="#9400d3" stroke-width="0.9" fill="none"/><path d="M788.71,572.89H795.91M792.31,569.29V576.49" stroke="#9400d3" stroke-width="1.0" fill="none"/><path d="M829.54,570.86V579M827.74,570.86h3.6M827.74,579h3.6" stroke="#9400d3" stroke-width="0.9" fill="none"/><path d="M825.94,574.93H833.14M829.54,571.33V578.53" stroke="#9400d3" stroke-width="1.0" fill="none"/>
<path d="M531.7,425.66 L568.93,428.37 L606.16,429.05 L643.39,432.44 L680.62,444.66 L695.51,508.43 L702.96,546.43 L710.4,573.57 L717.85,581.71 L755.08,569.5 L792.31,566.78 L829.54,566.78" stroke="#009e73" stroke-width="1.1" fill="none"/><path d="M531.7,424.03V427.29M529.9,424.03h3.6M529.9,427.29h3.6" stroke="#009e73" stroke-width="0.9" fill="none"/><path d="M528.1,422.06L535.3,429.26M528.1,429.26L535.3,422.06" stroke="#009e73" stroke-width="1.0" fill="none"/><path d="M568.93,426.74V430M567.13,426.74h3.6M567.13,430h3.6" stroke="#009e73" stroke-width="0.9" fill="none"/><path d="M565.33,424.77L572.53,431.97M565.33,431.97L572.53,424.77" stroke="#009e73" stroke-width="1.0" fill="none"/><path d="M606.16,427.42V430.68M604.36,427.42h3.6M604.36,430.68h3.6" stroke="#009e73" stroke-width="0.9" fill="none"/><path d="M602.56,425.45L609.76,432.65M602.56,432.65L609.76,425.45" stroke="#009e73" stroke-width="1.0" fill="none"/><path d="M643.39,430.81V434.07M641.59,430.81h3.6M641.59,434.07h3.6" stroke="#009e73" stroke-width="0.9" fill="none"/><path d="M639.79,428.84L646.99,436.04M639.79,436.04L646.99,428.84" stroke="#009e73" stroke-width="1.0" fill="none"/><path d="M680.62,443.03V446.28M678.82,443.03h3.6M678.82,446.28h3.6" stroke="#009e73" stroke-width="0.9" fill="none"/><path d="M677.02,441.06L684.22,448.26M677.02,448.26L684.22,441.06" stroke="#009e73" stroke-width="1.0" fill="none"/><path d="M695.51,506.81V510.06M693.71,506.81h3.6M693.71,510.06h3.6" stroke="#009e73" stroke-width="0.9" fill="none"/><path d="M691.91,504.83L699.11,512.03M691.91,512.03L699.11,504.83" stroke="#009e73" stroke-width="1.0" fill="none"/><path d="M702.96,536.93V555.93M701.16,536.93h3.6M701.16,555.93h3.6" stroke="#009e73" stroke-width="0.9" fill="none"/><path d="M699.36,542.83L706.56,550.03M699.36,550.03L706.56,542.83" stroke="#009e73" stroke-width="1.0" fill="none"/><path d="M710.4,564.07V583.07M708.6,564.07h3.6M708.6,583.07h3.6" stroke="#009e73" stroke-width="0.9" fill="none"/><path d="M706.8,569.97L714,577.17M706.8,577.17L714,569.97" stroke="#009e73" stroke-width="1.0" fill="none"/><path d="M717.85,572.21V591.21M716.05,572.21h3.6M716.05,591.21h3.6" stroke="#009e73" stroke-width="0.9" fill="none"/><path d="M714.25,578.11L721.45,585.31M714.25,585.31L721.45,578.11" stroke="#009e73" stroke-width="1.0" fill="none"/><path d="M755.08,565.43V573.57M753.28,565.43h3.6M753.28,573.57h3.6" stroke="#009e73" stroke-width="0.9" fill="none"/><path d="M751.48,565.9L758.68,573.1M751.48,573.1L758.68,565.9" stroke="#009e73" stroke-width="1.0" fill="none"/><path d="M792.31,562.71V570.86M790.51,562.71h3.6M790.51,570.86h3.6" stroke="#009e73" stroke-width="0.9" fill="none"/><path d="M788.71,563.18L795.91,570.38M788.71,570.38L795.91,563.18" stroke="#009e73" stroke-width="1.0" fill="none"/><path d="M829.54,562.71V570.86M827.74,562.71h3.6M827.74,570.86h3.6" stroke="#009e73" stroke-width="0.9" fill="none"/><path d="M825.94,563.18L833.14,570.38M825.94,570.38L833.14,563.18" stroke="#009e73" stroke-width="1.0" fill="none"/>
<path d="M531.7,425.66 L568.93,427.69 L606.16,428.37 L643.39,431.09 L680.62,440.58 L688.07,451.44 L691.79,467.72 L695.51,503.01 L702.96,560 L710.4,584.43 L717.85,566.78 L755.08,568.14 L792.31,566.78 L829.54,565.43" stroke="#56b4e9" stroke-width="1.1" fill="none"/><path d="M531.7,424.03V427.29M529.9,424.03h3.6M529.9,427.29h3.6" stroke="#56b4e9" stroke-width="0.9" fill="none"/><path d="M528.1,425.66H535.3M531.7,422.06V429.26M529.18,423.14L534.22,428.18M529.18,428.18L534.22,423.14" stroke="#56b4e9" stroke-width="1.0" fill="none"/><path d="M568.93,426.06V429.32M567.13,426.06h3.6M567.13,429.32h3.6" stroke="#56b4e9" stroke-width="0.9" fill="none"/><path d="M565.33,427.69H572.53M568.93,424.09V431.29M566.41,425.17L571.45,430.21M566.41,430.21L571.45,425.17" stroke="#56b4e9" stroke-width="1.0" fill="none"/><path d="M606.16,426.74V430M604.36,426.74h3.6M604.36,430h3.6" stroke="#56b4e9" stroke-width="0.9" fill="none"/><path d="M602.56,428.37H609.76M606.16,424.77V431.97M603.64,425.85L608.68,430.89M603.64,430.89L608.68,425.85" stroke="#56b4e9" stroke-width="1.0" fill="none"/><path d="M643.39,429.46V432.71M641.59,429.46h3.6M641.59,432.71h3.6" stroke="#56b4e9" stroke-width="0.9" fill="none"/><path d="M639.79,431.09H646.99M643.39,427.49V434.69M640.87,428.57L645.91,433.61M640.87,433.61L645.91,428.57" stroke="#56b4e9" stroke-width="1.0" fill="none"/><path d="M680.62,438.96V442.21M678.82,438.96h3.6M678.82,442.21h3.6" stroke="#56b4e9" stroke-width="0.9" fill="none"/><path d="M677.02,440.58H684.22M680.62,436.98V444.18M678.1,438.06L683.14,443.1M678.1,443.1L683.14,438.06" stroke="#56b4e9" stroke-width="1.0" fill="none"/><path d="M688.07,449.81V453.07M686.27,449.81h3.6M686.27,453.07h3.6" stroke="#56b4e9" stroke-width="0.9" fill="none"/><path d="M684.47,451.44H691.67M688.07,447.84V455.04M685.55,448.92L690.59,453.96M685.55,453.96L690.59,448.92" stroke="#56b4e9" stroke-width="1.0" fill="none"/><path d="M691.79,466.1V469.35M689.99,466.1h3.6M689.99,469.35h3.6" stroke="#56b4e9" stroke-width="0.9" fill="none"/><path d="M688.19,467.72H695.39M691.79,464.12V471.32M689.27,465.2L694.31,470.24M689.27,470.24L694.31,465.2" stroke="#56b4e9" stroke-width="1.0" fill="none"/><path d="M695.51,501.38V504.63M693.71,501.38h3.6M693.71,504.63h3.6" stroke="#56b4e9" stroke-width="0.9" fill="none"/><path d="M691.91,503.01H699.11M695.51,499.41V506.61M692.99,500.49L698.03,505.53M692.99,505.53L698.03,500.49" stroke="#56b4e9" stroke-width="1.0" fill="none"/><path d="M702.96,550.5V569.5M701.16,550.5h3.6M701.16,569.5h3.6" stroke="#56b4e9" stroke-width="0.9" fill="none"/><path d="M699.36,560H706.56M702.96,556.4V563.6M700.44,557.48L705.48,562.52M700.44,562.52L705.48,557.48" stroke="#56b4e9" stroke-width="1.0" fill="none"/><path d="M710.4,574.93V593.93M708.6,574.93h3.6M708.6,593.93h3.6" stroke="#56b4e9" stroke-width="0.9" fill="none"/><path d="M706.8,584.43H714M710.4,580.83V588.03M707.88,581.91L712.92,586.95M707.88,586.95L712.92,581.91" stroke="#56b4e9" stroke-width="1.0" fill="none"/><path d="M717.85,557.29V576.28M716.05,557.29h3.6M716.05,576.28h3.6" stroke="#56b4e9" stroke-width="0.9" fill="none"/><path d="M714.25,566.78H721.45M717.85,563.18V570.38M715.33,564.26L720.37,569.3M715.33,569.3L720.37,564.26" stroke="#56b4e9" stroke-width="1.0" fill="none"/><path d="M755.08,564.07V572.21M753.28,564.07h3.6M753.28,572.21h3.6" stroke="#56b4e9" stroke-width="0.9" fill="none"/><path d="M751.48,568.14H758.68M755.08,564.54V571.74M752.56,565.62L757.6,570.66M752.56,570.66L757.6,565.62" stroke="#56b4e9" stroke-width="1.0" fill="none"/><path d="M792.31,562.71V570.86M790.51,562.71h3.6M790.51,570.86h3.6" stroke="#56b4e9" stroke-width="0.9" fill="none"/><path d="M788.71,566.78H795.91M792.31,563.18V570.38M789.79,564.26L794.83,569.3M789.79,569.3L794.83,564.26" stroke="#56b4e9" stroke-width="1.0" fill="none"/><path d="M829.54,561.36V569.5M827.74,561.36h3.6M827.74,569.5h3.6" stroke="#56b4e9" stroke-width="0.9" fill="none"/><path d="M825.94,565.43H833.14M829.54,561.83V569.03M827.02,562.91L832.06,567.95M827.02,567.95L832.06,562.91" stroke="#56b4e9" stroke-width="1.0" fill="none"/>
<path d="M531.7,427.01 L568.93,427.01 L606.16,427.01 L643.39,428.37 L680.62,436.51 L684.34,437.87 L688.07,440.58 L691.79,458.23 L695.51,503.01 L699.24,560 L702.96,568.14 L706.68,576.28 L710.4,581.71 L717.85,573.57 L755.08,562.71 L792.31,561.36 L829.54,562.71" stroke="#e69f00" stroke-width="1.1" fill="none"/><path d="M531.7,425.39V428.64M529.9,425.39h3.6M529.9,428.64h3.6" stroke="#e69f00" stroke-width="0.9" fill="none"/><rect x="528.64" y="423.95" width="6.12" height="6.12" stroke="#e69f00" stroke-width="1.0" fill="none"/><path d="M568.93,425.39V428.64M567.13,425.39h3.6M567.13,428.64h3.6" stroke="#e69f00" stroke-width="0.9" fill="none"/><rect x="565.87" y="423.95" width="6.12" height="6.12" stroke="#e69f00" stroke-width="1.0" fill="none"/><path d="M606.16,425.39V428.64M604.36,425.39h3.6M604.36,428.64h3.6" stroke="#e69f00" stroke-width="0.9" fill="none"/><rect x="603.1" y="423.95" width="6.12" height="6.12" stroke="#e69f00" stroke-width="1.0" fill="none"/><path d="M643.39,426.74V430M641.59,426.74h3.6M641.59,430h3.6" stroke="#e69f00" stroke-width="0.9" fill="none"/><rect x="640.33" y="425.31" width="6.12" height="6.12" stroke="#e69f00" stroke-width="1.0" fill="none"/><path d="M680.62,434.88V438.14M678.82,434.88h3.6M678.82,438.14h3.6" stroke="#e69f00" stroke-width="0.9" fill="none"/><rect x="677.56" y="433.45" width="6.12" height="6.12" stroke="#e69f00" stroke-width="1.0" fill="none"/><path d="M684.34,436.24V439.5M682.54,436.24h3.6M682.54,439.5h3.6" stroke="#e69f00" stroke-width="0.9" fill="none"/><rect x="681.28" y="434.81" width="6.12" height="6.12" stroke="#e69f00" stroke-width="1.0" fill="none"/><path d="M688.07,438.96V442.21M686.27,438.96h3.6M686.27,442.21h3.6" stroke="#e69f00" stroke-width="0.9" fill="none"/><rect x="685.01" y="437.52" width="6.12" height="6.12" stroke="#e69f00" stroke-width="1.0" fill="none"/><path d="M691.79,456.6V459.85M689.99,456.6h3.6M689.99,459.85h3.6" stroke="#e69f00" stroke-width="0.9" fill="none"/><rect x="688.73" y="455.17" width="6.12" height="6.12" stroke="#e69f00" stroke-width="1.0" fill="none"/><path d="M695.51,501.38V504.63M693.71,501.38h3.6M693.71,504.63h3.6" stroke="#e69f00" stroke-width="0.9" fill="none"/><rect x="692.45" y="499.95" width="6.12" height="6.12" stroke="#e69f00" stroke-width="1.0" fill="none"/><path d="M699.24,550.5V569.5M697.44,550.5h3.6M697.44,569.5h3.6" stroke="#e69f00" stroke-width="0.9" fill="none"/><rect x="696.18" y="556.94" width="6.12" height="6.12" stroke="#e69f00" stroke-width="1.0" fill="none"/><path d="M702.96,558.64V577.64M701.16,558.64h3.6M701.16,577.64h3.6" stroke="#e69f00" stroke-width="0.9" fill="none"/><rect x="699.9" y="565.08" width="6.12" height="6.12" stroke="#e69f00" stroke-width="1.0" fill="none"/><path d="M706.68,566.78V585.78M704.88,566.78h3.6M704.88,585.78h3.6" stroke="#e69f00" stroke-width="0.9" fill="none"/><rect x="703.62" y="573.22" width="6.12" height="6.12" stroke="#e69f00" stroke-width="1.0" fill="none"/><path d="M710.4,572.21V591.21M708.6,572.21h3.6M708.6,591.21h3.6" stroke="#e69f00" stroke-width="0.9" fill="none"/><rect x="707.34" y="578.65" width="6.12" height="6.12" stroke="#e69f00" stroke-width="1.0" fill="none"/><path d="M717.85,564.07V583.07M716.05,564.07h3.6M716.05,583.07h3.6" stroke="#e69f00" stroke-width="0.9" fill="none"/><rect x="714.79" y="570.51" width="6.12" height="6.12" stroke="#e69f00" stroke-width="1.0" fill="none"/><path d="M755.08,558.64V566.79M753.28,558.64h3.6M753.28,566.79h3.6" stroke="#e69f00" stroke-width="0.9" fill="none"/><rect x="752.02" y="559.65" width="6.12" height="6.12" stroke="#e69f00" stroke-width="1.0" fill="none"/><path d="M792.31,557.29V565.43M790.51,557.29h3.6M790.51,565.43h3.6" stroke="#e69f00" stroke-width="0.9" fill="none"/><rect x="789.25" y="558.3" width="6.12" height="6.12" stroke="#e69f00" stroke-width="1.0" fill="none"/><path d="M829.54,558.64V566.79M827.74,558.64h3.6M827.74,566.79h3.6" stroke="#e69f00" stroke-width="0.9" fill="none"/><rect x="826.48" y="559.65" width="6.12" height="6.12" stroke="#e69f00" stroke-width="1.0" fill="none"/>
<path d="M531.7,429.73 L568.93,427.01 L606.16,427.01 L643.39,428.37 L680.62,433.8 L688.07,441.94 L691.79,458.23 L695.51,494.86 L699.24,539.64 L702.96,566.78 L706.68,577.64 L710.4,566.78 L717.85,564.07 L755.08,562.71 L792.31,560 L829.54,562.71" stroke="#f0e442" stroke-width="1.1" fill="none"/><path d="M531.7,428.1V431.36M529.9,428.1h3.6M529.9,431.36h3.6" stroke="#f0e442" stroke-width="0.9" fill="none"/><rect x="528.46" y="426.49" width="6.48" height="6.48" fill="#f0e442"/><path d="M568.93,425.39V428.64M567.13,425.39h3.6M567.13,428.64h3.6" stroke="#f0e442" stroke-width="0.9" fill="none"/><rect x="565.69" y="423.77" width="6.48" height="6.48" fill="#f0e442"/><path d="M606.16,425.39V428.64M604.36,425.39h3.6M604.36,428.64h3.6" stroke="#f0e442" stroke-width="0.9" fill="none"/><rect x="602.92" y="423.77" width="6.48" height="6.48" fill="#f0e442"/><path d="M643.39,426.74V430M641.59,426.74h3.6M641.59,430h3.6" stroke="#f0e442" stroke-width="0.9" fill="none"/><rect x="640.15" y="425.13" width="6.48" height="6.48" fill="#f0e442"/><path d="M680.62,432.17V435.43M678.82,432.17h3.6M678.82,435.43h3.6" stroke="#f0e442" stroke-width="0.9" fill="none"/><rect x="677.38" y="430.56" width="6.48" height="6.48" fill="#f0e442"/><path d="M688.07,440.31V443.57M686.27,440.31h3.6M686.27,443.57h3.6" stroke="#f0e442" stroke-width="0.9" fill="none"/><rect x="684.83" y="438.7" width="6.48" height="6.48" fill="#f0e442"/><path d="M691.79,456.6V459.85M689.99,456.6h3.6M689.99,459.85h3.6" stroke="#f0e442" stroke-width="0.9" fill="none"/><rect x="688.55" y="454.99" width="6.48" height="6.48" fill="#f0e442"/><path d="M695.51,493.24V496.49M693.71,493.24h3.6M693.71,496.49h3.6" stroke="#f0e442" stroke-width="0.9" fill="none"/><rect x="692.27" y="491.62" width="6.48" height="6.48" fill="#f0e442"/><path d="M699.24,530.15V549.14M697.44,530.15h3.6M697.44,549.14h3.6" stroke="#f0e442" stroke-width="0.9" fill="none"/><rect x="696" y="536.4" width="6.48" height="6.48" fill="#f0e442"/><path d="M702.96,557.29V576.28M701.16,557.29h3.6M701.16,576.28h3.6" stroke="#f0e442" stroke-width="0.9" fill="none"/><rect x="699.72" y="563.54" width="6.48" height="6.48" fill="#f0e442"/><path d="M706.68,568.14V587.14M704.88,568.14h3.6M704.88,587.14h3.6" stroke="#f0e442" stroke-width="0.9" fill="none"/><rect x="703.44" y="574.4" width="6.48" height="6.48" fill="#f0e442"/><path d="M710.4,557.29V576.28M708.6,557.29h3.6M708.6,576.28h3.6" stroke="#f0e442" stroke-width="0.9" fill="none"/><rect x="707.16" y="563.54" width="6.48" height="6.48" fill="#f0e442"/><path d="M717.85,554.57V573.57M716.05,554.57h3.6M716.05,573.57h3.6" stroke="#f0e442" stroke-width="0.9" fill="none"/><rect x="714.61" y="560.83" width="6.48" height="6.48" fill="#f0e442"/><path d="M755.08,558.64V566.79M753.28,558.64h3.6M753.28,566.79h3.6" stroke="#f0e442" stroke-width="0.9" fill="none"/><rect x="751.84" y="559.47" width="6.48" height="6.48" fill="#f0e442"/><path d="M792.31,555.93V564.07M790.51,555.93h3.6M790.51,564.07h3.6" stroke="#f0e442" stroke-width="0.9" fill="none"/><rect x="789.07" y="556.76" width="6.48" height="6.48" fill="#f0e442"/><path d="M829.54,558.64V566.79M827.74,558.64h3.6M827.74,566.79h3.6" stroke="#f0e442" stroke-width="0.9" fill="none"/><rect x="826.3" y="559.47" width="6.48" height="6.48" fill="#f0e442"/>
<path d="M531.7,424.98 L568.93,427.01 L606.16,428.37 L643.39,430.41 L680.62,430.41 L684.34,430.41 L688.07,435.16 L691.79,455.51 L695.51,501.65 L699.24,546.43 L702.96,551.86 L706.68,570.86 L710.4,566.78 L717.85,564.07 L755.08,562.71 L792.31,562.71 L829.54,563.39" stroke="#0072b2" stroke-width="1.1" fill="none"/><path d="M531.7,423.35V426.61M529.9,423.35h3.6M529.9,426.61h3.6" stroke="#0072b2" stroke-width="0.9" fill="none"/><circle cx="531.7" cy="424.98" r="3.42" stroke="#0072b2" stroke-width="1.0" fill="none"/><path d="M568.93,425.39V428.64M567.13,425.39h3.6M567.13,428.64h3.6" stroke="#0072b2" stroke-width="0.9" fill="none"/><circle cx="568.93" cy="427.01" r="3.42" stroke="#0072b2" stroke-width="1.0" fill="none"/><path d="M606.16,426.74V430M604.36,426.74h3.6M604.36,430h3.6" stroke="#0072b2" stroke-width="0.9" fill="none"/><circle cx="606.16" cy="428.37" r="3.42" stroke="#0072b2" stroke-width="1.0" fill="none"/><path d="M643.39,428.78V432.03M641.59,428.78h3.6M641.59,432.03h3.6" stroke="#0072b2" stroke-width="0.9" fill="none"/><circle cx="643.39" cy="430.41" r="3.42" stroke="#0072b2" stroke-width="1.0" fill="none"/><path d="M680.62,428.78V432.03M678.82,428.78h3.6M678.82,432.03h3.6" stroke="#0072b2" stroke-width="0.9" fill="none"/><circle cx="680.62" cy="430.41" r="3.42" stroke="#0072b2" stroke-width="1.0" fill="none"/><path d="M684.34,428.78V432.03M682.54,428.78h3.6M682.54,432.03h3.6" stroke="#0072b2" stroke-width="0.9" fill="none"/><circle cx="684.34" cy="430.41" r="3.42" stroke="#0072b2" stroke-width="1.0" fill="none"/><path d="M688.07,433.53V436.78M686.27,433.53h3.6M686.27,436.78h3.6" stroke="#0072b2" stroke-width="0.9" fill="none"/><circle cx="688.07" cy="435.16" r="3.42" stroke="#0072b2" stroke-width="1.0" fill="none"/><path d="M691.79,453.88V457.14M689.99,453.88h3.6M689.99,457.14h3.6" stroke="#0072b2" stroke-width="0.9" fill="none"/><circle cx="691.79" cy="455.51" r="3.42" stroke="#0072b2" stroke-width="1.0" fill="none"/><path d="M695.51,500.02V503.28M693.71,500.02h3.6M693.71,503.28h3.6" stroke="#0072b2" stroke-width="0.9" fill="none"/><circle cx="695.51" cy="501.65" r="3.42" stroke="#0072b2" stroke-width="1.0" fill="none"/><path d="M699.24,536.93V555.93M697.44,536.93h3.6M697.44,555.93h3.6" stroke="#0072b2" stroke-width="0.9" fill="none"/><circle cx="699.24" cy="546.43" r="3.42" stroke="#0072b2" stroke-width="1.0" fill="none"/><path d="M702.96,542.36V561.36M701.16,542.36h3.6M701.16,561.36h3.6" stroke="#0072b2" stroke-width="0.9" fill="none"/><circle cx="702.96" cy="551.86" r="3.42" stroke="#0072b2" stroke-width="1.0" fill="none"/><path d="M706.68,561.36V580.36M704.88,561.36h3.6M704.88,580.36h3.6" stroke="#0072b2" stroke-width="0.9" fill="none"/><circle cx="706.68" cy="570.86" r="3.42" stroke="#0072b2" stroke-width="1.0" fill="none"/><path d="M710.4,557.29V576.28M708.6,557.29h3.6M708.6,576.28h3.6" stroke="#0072b2" stroke-width="0.9" fill="none"/><circle cx="710.4" cy="566.78" r="3.42" stroke="#0072b2" stroke-width="1.0" fill="none"/><path d="M717.85,554.57V573.57M716.05,554.57h3.6M716.05,573.57h3.6" stroke="#0072b2" stroke-width="0.9" fill="none"/><circle cx="717.85" cy="564.07" r="3.42" stroke="#0072b2" stroke-width="1.0" fill="none"/><path d="M755.08,558.64V566.79M753.28,558.64h3.6M753.28,566.79h3.6" stroke="#0072b2" stroke-width="0.9" fill="none"/><circle cx="755.08" cy="562.71" r="3.42" stroke="#0072b2" stroke-width="1.0" fill="none"/><path d="M792.31,558.64V566.79M790.51,558.64h3.6M790.51,566.79h3.6" stroke="#0072b2" stroke-width="0.9" fill="none"/><circle cx="792.31" cy="562.71" r="3.42" stroke="#0072b2" stroke-width="1.0" fill="none"/><path d="M829.54,559.32V567.46M827.74,559.32h3.6M827.74,567.46h3.6" stroke="#0072b2" stroke-width="0.9" fill="none"/><circle cx="829.54" cy="563.39" r="3.42" stroke="#0072b2" stroke-width="1.0" fill="none"/>
<rect x="531.6" y="410.4" width="300.1" height="218.2" fill="none" stroke="#222" stroke-width="0.9"/><text x="531.7" y="638" text-anchor="middle" style="font-family:&quot;Liberation Sans&quot;,sans-serif;font-size:9.2px" fill="#222">3.0</text><text x="568.93" y="638" text-anchor="middle" style="font-family:&quot;Liberation Sans&quot;,sans-serif;font-size:9.2px" fill="#222">3.1</text><text x="606.16" y="638" text-anchor="middle" style="font-family:&quot;Liberation Sans&quot;,sans-serif;font-size:9.2px" fill="#222">3.2</text><text x="643.39" y="638" text-anchor="middle" style="font-family:&quot;Liberation Sans&quot;,sans-serif;font-size:9.2px" fill="#222">3.3</text><text x="680.62" y="638" text-anchor="middle" style="font-family:&quot;Liberation Sans&quot;,sans-serif;font-size:9.2px" fill="#222">3.4</text><text x="717.85" y="638" text-anchor="middle" style="font-family:&quot;Liberation Sans&quot;,sans-serif;font-size:9.2px" fill="#222">3.5</text><text x="755.08" y="638" text-anchor="middle" style="font-family:&quot;Liberation Sans&quot;,sans-serif;font-size:9.2px" fill="#222">3.6</text><text x="792.31" y="638" text-anchor="middle" style="font-family:&quot;Liberation Sans&quot;,sans-serif;font-size:9.2px" fill="#222">3.7</text><text x="829.54" y="638" text-anchor="middle" style="font-family:&quot;Liberation Sans&quot;,sans-serif;font-size:9.2px" fill="#222">3.8</text><text x="529.6" y="617.48" text-anchor="end" style="font-family:&quot;Liberation Sans&quot;,sans-serif;font-size:9.2px" fill="#222">-0.4</text><text x="529.6" y="590.34" text-anchor="end" style="font-family:&quot;Liberation Sans&quot;,sans-serif;font-size:9.2px" fill="#222">-0.2</text><text x="529.6" y="563.2" text-anchor="end" style="font-family:&quot;Liberation Sans&quot;,sans-serif;font-size:9.2px" fill="#222">0.0</text><text x="529.6" y="536.06" text-anchor="end" style="font-family:&quot;Liberation Sans&quot;,sans-serif;font-size:9.2px" fill="#222">0.2</text><text x="529.6" y="508.92" text-anchor="end" style="font-family:&quot;Liberation Sans&quot;,sans-serif;font-size:9.2px" fill="#222">0.4</text><text x="529.6" y="481.78" text-anchor="end" style="font-family:&quot;Liberation Sans&quot;,sans-serif;font-size:9.2px" fill="#222">0.6</text><text x="529.6" y="454.64" text-anchor="end" style="font-family:&quot;Liberation Sans&quot;,sans-serif;font-size:9.2px" fill="#222">0.8</text><text x="529.6" y="427.5" text-anchor="end" style="font-family:&quot;Liberation Sans&quot;,sans-serif;font-size:9.2px" fill="#222">1.0</text><path d="M531.7,628.6v-4M531.7,410.4v4M568.93,628.6v-4M568.93,410.4v4M606.16,628.6v-4M606.16,410.4v4M643.39,628.6v-4M643.39,410.4v4M680.62,628.6v-4M680.62,410.4v4M717.85,628.6v-4M717.85,410.4v4M755.08,628.6v-4M755.08,410.4v4M792.31,628.6v-4M792.31,410.4v4M829.54,628.6v-4M829.54,410.4v4M531.6,614.28h4M831.7,614.28h-4M531.6,587.14h4M831.7,587.14h-4M531.6,560h4M831.7,560h-4M531.6,532.86h4M831.7,532.86h-4M531.6,505.72h4M831.7,505.72h-4M531.6,478.58h4M831.7,478.58h-4M531.6,451.44h4M831.7,451.44h-4M531.6,424.3h4M831.7,424.3h-4" stroke="#222" stroke-width="0.8" fill="none"/>
<text x="764" y="429.5" text-anchor="end" style="font-size:11.5px" fill="#222" textLength="28.3" lengthAdjust="spacing"><tspan font-style="italic">L</tspan> = 6</text><path d="M775,425.7H803.4M775,422.7v6M803.4,422.7v6" stroke="#9400d3" stroke-width="1.1" fill="none"/><path d="M784.9,425.7H793.5M789.2,421.4V430" stroke="#9400d3" stroke-width="1.0" fill="none"/><text x="764" y="445.5" text-anchor="end" style="font-size:11.5px" fill="#222" textLength="28.3" lengthAdjust="spacing"><tspan font-style="italic">L</tspan> = 8</text><path d="M775,441.7H803.4M775,438.7v6M803.4,438.7v6" stroke="#009e73" stroke-width="1.1" fill="none"/><path d="M784.9,437.4L793.5,446M784.9,446L793.5,437.4" stroke="#009e73" stroke-width="1.0" fill="none"/><text x="764" y="462.1" text-anchor="end" style="font-size:11.5px" fill="#222" textLength="32.6" lengthAdjust="spacing"><tspan font-style="italic">L</tspan> = 10</text><path d="M775,458.3H803.4M775,455.3v6M803.4,455.3v6" stroke="#56b4e9" stroke-width="1.1" fill="none"/><path d="M784.9,458.3H793.5M789.2,454V462.6M786.19,455.29L792.21,461.31M786.19,461.31L792.21,455.29" stroke="#56b4e9" stroke-width="1.0" fill="none"/><text x="764" y="478.1" text-anchor="end" style="font-size:11.5px" fill="#222" textLength="32.6" lengthAdjust="spacing"><tspan font-style="italic">L</tspan> = 12</text><path d="M775,474.3H803.4M775,471.3v6M803.4,471.3v6" stroke="#e69f00" stroke-width="1.1" fill="none"/><rect x="785.55" y="470.65" width="7.31" height="7.31" stroke="#e69f00" stroke-width="1.0" fill="none"/><text x="764" y="494.2" text-anchor="end" style="font-size:11.5px" fill="#222" textLength="32.6" lengthAdjust="spacing"><tspan font-style="italic">L</tspan> = 14</text><path d="M775,490.4H803.4M775,487.4v6M803.4,487.4v6" stroke="#f0e442" stroke-width="1.1" fill="none"/><rect x="785.33" y="486.53" width="7.74" height="7.74" fill="#f0e442"/><text x="764" y="509.9" text-anchor="end" style="font-size:11.5px" fill="#222" textLength="32.6" lengthAdjust="spacing"><tspan font-style="italic">L</tspan> = 16</text><path d="M775,506.1H803.4M775,503.1v6M803.4,503.1v6" stroke="#0072b2" stroke-width="1.1" fill="none"/><circle cx="789.2" cy="506.1" r="4.08" stroke="#0072b2" stroke-width="1.0" fill="none"/>
<text transform="translate(511,519) rotate(-90)" text-anchor="middle" style="font-size:14px" fill="#222"><tspan font-style="italic">B</tspan><tspan font-size="10" dy="3">2</tspan></text>
<text x="680" y="653.8" text-anchor="middle" style="font-size:15px" fill="#222">&#915;<tspan font-size="10" dy="3" font-style="italic">z</tspan></text>
<path d="M530.3,711.21 L580.02,712.16 L629.74,715.97 L679.46,748.34 L689.4,774.04 L699.35,816.88 L704.32,818.78 L729.18,819.74 L778.9,814.02 L828.62,813.07" stroke="#9400d3" stroke-width="1.1" fill="none"/><path d="M526.7,711.21H533.9M530.3,707.61V714.81" stroke="#9400d3" stroke-width="1.0" fill="none"/><path d="M576.42,712.16H583.62M580.02,708.56V715.76" stroke="#9400d3" stroke-width="1.0" fill="none"/><path d="M626.14,715.97H633.34M629.74,712.37V719.57" stroke="#9400d3" stroke-width="1.0" fill="none"/><path d="M679.46,734.06V762.62M677.66,734.06h3.6M677.66,762.62h3.6" stroke="#9400d3" stroke-width="0.9" fill="none"/><path d="M675.86,748.34H683.06M679.46,744.74V751.94" stroke="#9400d3" stroke-width="1.0" fill="none"/><path d="M689.4,759.76V788.32M687.6,759.76h3.6M687.6,788.32h3.6" stroke="#9400d3" stroke-width="0.9" fill="none"/><path d="M685.8,774.04H693M689.4,770.44V777.64" stroke="#9400d3" stroke-width="1.0" fill="none"/><path d="M699.35,802.6V831.16M697.55,802.6h3.6M697.55,831.16h3.6" stroke="#9400d3" stroke-width="0.9" fill="none"/><path d="M695.75,816.88H702.95M699.35,813.28V820.48" stroke="#9400d3" stroke-width="1.0" fill="none"/><path d="M704.32,804.5V833.06M702.52,804.5h3.6M702.52,833.06h3.6" stroke="#9400d3" stroke-width="0.9" fill="none"/><path d="M700.72,818.78H707.92M704.32,815.18V822.38" stroke="#9400d3" stroke-width="1.0" fill="none"/><path d="M729.18,815.93V823.54M727.38,815.93h3.6M727.38,823.54h3.6" stroke="#9400d3" stroke-width="0.9" fill="none"/><path d="M725.58,819.74H732.78M729.18,816.14V823.34" stroke="#9400d3" stroke-width="1.0" fill="none"/><path d="M778.9,810.22V817.83M777.1,810.22h3.6M777.1,817.83h3.6" stroke="#9400d3" stroke-width="0.9" fill="none"/><path d="M775.3,814.02H782.5M778.9,810.42V817.62" stroke="#9400d3" stroke-width="1.0" fill="none"/><path d="M828.62,809.26V816.88M826.82,809.26h3.6M826.82,816.88h3.6" stroke="#9400d3" stroke-width="0.9" fill="none"/><path d="M825.02,813.07H832.22M828.62,809.47V816.67" stroke="#9400d3" stroke-width="1.0" fill="none"/>
<path d="M530.3,709.3 L580.02,710.26 L629.74,711.21 L654.6,713.11 L679.46,735.96 L684.43,755 L689.4,783.56 L694.38,831.16 L699.35,821.64 L704.32,835.92 L729.18,815.93 L778.9,810.22 L828.62,806.41" stroke="#009e73" stroke-width="1.1" fill="none"/><path d="M526.7,705.7L533.9,712.9M526.7,712.9L533.9,705.7" stroke="#009e73" stroke-width="1.0" fill="none"/><path d="M576.42,706.66L583.62,713.86M576.42,713.86L583.62,706.66" stroke="#009e73" stroke-width="1.0" fill="none"/><path d="M626.14,707.61L633.34,714.81M626.14,714.81L633.34,707.61" stroke="#009e73" stroke-width="1.0" fill="none"/><path d="M651,709.51L658.2,716.71M651,716.71L658.2,709.51" stroke="#009e73" stroke-width="1.0" fill="none"/><path d="M679.46,721.68V750.24M677.66,721.68h3.6M677.66,750.24h3.6" stroke="#009e73" stroke-width="0.9" fill="none"/><path d="M675.86,732.36L683.06,739.56M675.86,739.56L683.06,732.36" stroke="#009e73" stroke-width="1.0" fill="none"/><path d="M684.43,740.72V769.28M682.63,740.72h3.6M682.63,769.28h3.6" stroke="#009e73" stroke-width="0.9" fill="none"/><path d="M680.83,751.4L688.03,758.6M680.83,758.6L688.03,751.4" stroke="#009e73" stroke-width="1.0" fill="none"/><path d="M689.4,769.28V797.84M687.6,769.28h3.6M687.6,797.84h3.6" stroke="#009e73" stroke-width="0.9" fill="none"/><path d="M685.8,779.96L693,787.16M685.8,787.16L693,779.96" stroke="#009e73" stroke-width="1.0" fill="none"/><path d="M694.38,816.88V845.44M692.58,816.88h3.6M692.58,845.44h3.6" stroke="#009e73" stroke-width="0.9" fill="none"/><path d="M690.78,827.56L697.98,834.76M690.78,834.76L697.98,827.56" stroke="#009e73" stroke-width="1.0" fill="none"/><path d="M699.35,807.36V835.92M697.55,807.36h3.6M697.55,835.92h3.6" stroke="#009e73" stroke-width="0.9" fill="none"/><path d="M695.75,818.04L702.95,825.24M695.75,825.24L702.95,818.04" stroke="#009e73" stroke-width="1.0" fill="none"/><path d="M704.32,821.64V850.2M702.52,821.64h3.6M702.52,850.2h3.6" stroke="#009e73" stroke-width="0.9" fill="none"/><path d="M700.72,832.32L707.92,839.52M700.72,839.52L707.92,832.32" stroke="#009e73" stroke-width="1.0" fill="none"/><path d="M729.18,812.12V819.74M727.38,812.12h3.6M727.38,819.74h3.6" stroke="#009e73" stroke-width="0.9" fill="none"/><path d="M725.58,812.33L732.78,819.53M725.58,819.53L732.78,812.33" stroke="#009e73" stroke-width="1.0" fill="none"/><path d="M778.9,806.41V814.02M777.1,806.41h3.6M777.1,814.02h3.6" stroke="#009e73" stroke-width="0.9" fill="none"/><path d="M775.3,806.62L782.5,813.82M775.3,813.82L782.5,806.62" stroke="#009e73" stroke-width="1.0" fill="none"/><path d="M828.62,802.6V810.22M826.82,802.6h3.6M826.82,810.22h3.6" stroke="#009e73" stroke-width="0.9" fill="none"/><path d="M825.02,802.81L832.22,810.01M825.02,810.01L832.22,802.81" stroke="#009e73" stroke-width="1.0" fill="none"/>
<path d="M530.3,709.3 L580.02,709.78 L629.74,710.26 L654.6,712.16 L679.46,740.72 L684.43,805.46 L689.4,816.88 L704.32,819.74 L729.18,815.93 L778.9,809.26 L828.62,806.41" stroke="#56b4e9" stroke-width="1.1" fill="none"/><path d="M526.7,709.3H533.9M530.3,705.7V712.9M527.78,706.78L532.82,711.82M527.78,711.82L532.82,706.78" stroke="#56b4e9" stroke-width="1.0" fill="none"/><path d="M576.42,709.78H583.62M580.02,706.18V713.38M577.5,707.26L582.54,712.3M577.5,712.3L582.54,707.26" stroke="#56b4e9" stroke-width="1.0" fill="none"/><path d="M626.14,710.26H633.34M629.74,706.66V713.86M627.22,707.74L632.26,712.78M627.22,712.78L632.26,707.74" stroke="#56b4e9" stroke-width="1.0" fill="none"/><path d="M651,712.16H658.2M654.6,708.56V715.76M652.08,709.64L657.12,714.68M652.08,714.68L657.12,709.64" stroke="#56b4e9" stroke-width="1.0" fill="none"/><path d="M679.46,726.44V755M677.66,726.44h3.6M677.66,755h3.6" stroke="#56b4e9" stroke-width="0.9" fill="none"/><path d="M675.86,740.72H683.06M679.46,737.12V744.32M676.94,738.2L681.98,743.24M676.94,743.24L681.98,738.2" stroke="#56b4e9" stroke-width="1.0" fill="none"/><path d="M684.43,791.18V819.74M682.63,791.18h3.6M682.63,819.74h3.6" stroke="#56b4e9" stroke-width="0.9" fill="none"/><path d="M680.83,805.46H688.03M684.43,801.86V809.06M681.91,802.94L686.95,807.98M681.91,807.98L686.95,802.94" stroke="#56b4e9" stroke-width="1.0" fill="none"/><path d="M689.4,802.6V831.16M687.6,802.6h3.6M687.6,831.16h3.6" stroke="#56b4e9" stroke-width="0.9" fill="none"/><path d="M685.8,816.88H693M689.4,813.28V820.48M686.88,814.36L691.92,819.4M686.88,819.4L691.92,814.36" stroke="#56b4e9" stroke-width="1.0" fill="none"/><path d="M704.32,805.46V834.02M702.52,805.46h3.6M702.52,834.02h3.6" stroke="#56b4e9" stroke-width="0.9" fill="none"/><path d="M700.72,819.74H707.92M704.32,816.14V823.34M701.8,817.22L706.84,822.26M701.8,822.26L706.84,817.22" stroke="#56b4e9" stroke-width="1.0" fill="none"/><path d="M729.18,812.12V819.74M727.38,812.12h3.6M727.38,819.74h3.6" stroke="#56b4e9" stroke-width="0.9" fill="none"/><path d="M725.58,815.93H732.78M729.18,812.33V819.53M726.66,813.41L731.7,818.45M726.66,818.45L731.7,813.41" stroke="#56b4e9" stroke-width="1.0" fill="none"/><path d="M778.9,805.46V813.07M777.1,805.46h3.6M777.1,813.07h3.6" stroke="#56b4e9" stroke-width="0.9" fill="none"/><path d="M775.3,809.26H782.5M778.9,805.66V812.86M776.38,806.74L781.42,811.78M776.38,811.78L781.42,806.74" stroke="#56b4e9" stroke-width="1.0" fill="none"/><path d="M828.62,802.6V810.22M826.82,802.6h3.6M826.82,810.22h3.6" stroke="#56b4e9" stroke-width="0.9" fill="none"/><path d="M825.02,806.41H832.22M828.62,802.81V810.01M826.1,803.89L831.14,808.93M826.1,808.93L831.14,803.89" stroke="#56b4e9" stroke-width="1.0" fill="none"/>
<path d="M530.3,709.3 L580.02,709.78 L629.74,710.26 L664.54,718.82 L669.52,726.44 L679.46,753.1 L684.43,783.56 L689.4,853.06 L694.38,831.16 L699.35,812.12 L704.32,816.88 L729.18,809.26 L778.9,802.6 L828.62,802.6" stroke="#e69f00" stroke-width="1.1" fill="none"/><rect x="527.24" y="706.24" width="6.12" height="6.12" stroke="#e69f00" stroke-width="1.0" fill="none"/><rect x="576.96" y="706.72" width="6.12" height="6.12" stroke="#e69f00" stroke-width="1.0" fill="none"/><rect x="626.68" y="707.2" width="6.12" height="6.12" stroke="#e69f00" stroke-width="1.0" fill="none"/><rect x="661.48" y="715.76" width="6.12" height="6.12" stroke="#e69f00" stroke-width="1.0" fill="none"/><rect x="666.46" y="723.38" width="6.12" height="6.12" stroke="#e69f00" stroke-width="1.0" fill="none"/><path d="M679.46,738.82V767.38M677.66,738.82h3.6M677.66,767.38h3.6" stroke="#e69f00" stroke-width="0.9" fill="none"/><rect x="676.4" y="750.04" width="6.12" height="6.12" stroke="#e69f00" stroke-width="1.0" fill="none"/><path d="M684.43,769.28V797.84M682.63,769.28h3.6M682.63,797.84h3.6" stroke="#e69f00" stroke-width="0.9" fill="none"/><rect x="681.37" y="780.5" width="6.12" height="6.12" stroke="#e69f00" stroke-width="1.0" fill="none"/><path d="M689.4,838.78V867.34M687.6,838.78h3.6M687.6,867.34h3.6" stroke="#e69f00" stroke-width="0.9" fill="none"/><rect x="686.34" y="850" width="6.12" height="6.12" stroke="#e69f00" stroke-width="1.0" fill="none"/><path d="M694.38,816.88V845.44M692.58,816.88h3.6M692.58,845.44h3.6" stroke="#e69f00" stroke-width="0.9" fill="none"/><rect x="691.32" y="828.1" width="6.12" height="6.12" stroke="#e69f00" stroke-width="1.0" fill="none"/><path d="M699.35,797.84V826.4M697.55,797.84h3.6M697.55,826.4h3.6" stroke="#e69f00" stroke-width="0.9" fill="none"/><rect x="696.29" y="809.06" width="6.12" height="6.12" stroke="#e69f00" stroke-width="1.0" fill="none"/><path d="M704.32,802.6V831.16M702.52,802.6h3.6M702.52,831.16h3.6" stroke="#e69f00" stroke-width="0.9" fill="none"/><rect x="701.26" y="813.82" width="6.12" height="6.12" stroke="#e69f00" stroke-width="1.0" fill="none"/><path d="M729.18,805.46V813.07M727.38,805.46h3.6M727.38,813.07h3.6" stroke="#e69f00" stroke-width="0.9" fill="none"/><rect x="726.12" y="806.2" width="6.12" height="6.12" stroke="#e69f00" stroke-width="1.0" fill="none"/><path d="M778.9,798.79V806.41M777.1,798.79h3.6M777.1,806.41h3.6" stroke="#e69f00" stroke-width="0.9" fill="none"/><rect x="775.84" y="799.54" width="6.12" height="6.12" stroke="#e69f00" stroke-width="1.0" fill="none"/><path d="M828.62,798.79V806.41M826.82,798.79h3.6M826.82,806.41h3.6" stroke="#e69f00" stroke-width="0.9" fill="none"/><rect x="825.56" y="799.54" width="6.12" height="6.12" stroke="#e69f00" stroke-width="1.0" fill="none"/>
<path d="M530.3,709.3 L580.02,709.3 L629.74,709.78 L664.54,715.02 L674.49,721.68 L679.46,735.96 L684.43,778.8 L689.4,845.44 L694.38,826.4 L699.35,814.02 L704.32,812.12 L729.18,805.46 L778.9,803.55 L828.62,802.6" stroke="#f0e442" stroke-width="1.1" fill="none"/><rect x="527.06" y="706.06" width="6.48" height="6.48" fill="#f0e442"/><rect x="576.78" y="706.06" width="6.48" height="6.48" fill="#f0e442"/><rect x="626.5" y="706.54" width="6.48" height="6.48" fill="#f0e442"/><rect x="661.3" y="711.78" width="6.48" height="6.48" fill="#f0e442"/><rect x="671.25" y="718.44" width="6.48" height="6.48" fill="#f0e442"/><path d="M679.46,721.68V750.24M677.66,721.68h3.6M677.66,750.24h3.6" stroke="#f0e442" stroke-width="0.9" fill="none"/><rect x="676.22" y="732.72" width="6.48" height="6.48" fill="#f0e442"/><path d="M684.43,764.52V793.08M682.63,764.52h3.6M682.63,793.08h3.6" stroke="#f0e442" stroke-width="0.9" fill="none"/><rect x="681.19" y="775.56" width="6.48" height="6.48" fill="#f0e442"/><path d="M689.4,831.16V859.72M687.6,831.16h3.6M687.6,859.72h3.6" stroke="#f0e442" stroke-width="0.9" fill="none"/><rect x="686.16" y="842.2" width="6.48" height="6.48" fill="#f0e442"/><path d="M694.38,812.12V840.68M692.58,812.12h3.6M692.58,840.68h3.6" stroke="#f0e442" stroke-width="0.9" fill="none"/><rect x="691.14" y="823.16" width="6.48" height="6.48" fill="#f0e442"/><path d="M699.35,799.74V828.3M697.55,799.74h3.6M697.55,828.3h3.6" stroke="#f0e442" stroke-width="0.9" fill="none"/><rect x="696.11" y="810.78" width="6.48" height="6.48" fill="#f0e442"/><path d="M704.32,797.84V826.4M702.52,797.84h3.6M702.52,826.4h3.6" stroke="#f0e442" stroke-width="0.9" fill="none"/><rect x="701.08" y="808.88" width="6.48" height="6.48" fill="#f0e442"/><path d="M729.18,801.65V809.26M727.38,801.65h3.6M727.38,809.26h3.6" stroke="#f0e442" stroke-width="0.9" fill="none"/><rect x="725.94" y="802.22" width="6.48" height="6.48" fill="#f0e442"/><path d="M778.9,799.74V807.36M777.1,799.74h3.6M777.1,807.36h3.6" stroke="#f0e442" stroke-width="0.9" fill="none"/><rect x="775.66" y="800.31" width="6.48" height="6.48" fill="#f0e442"/><path d="M828.62,798.79V806.41M826.82,798.79h3.6M826.82,806.41h3.6" stroke="#f0e442" stroke-width="0.9" fill="none"/><rect x="825.38" y="799.36" width="6.48" height="6.48" fill="#f0e442"/>
<path d="M530.3,708.35 L580.02,708.35 L629.74,708.35 L659.57,709.3 L664.54,709.3 L669.52,709.78 L674.49,711.21 L676.97,714.06 L679.46,721.68 L681.95,744.53 L686.92,777.85 L689.4,880.66 L694.38,842.58 L699.35,816.88 L729.18,803.55 L778.9,803.55 L828.62,803.55" stroke="#0072b2" stroke-width="1.1" fill="none"/><circle cx="530.3" cy="708.35" r="3.42" stroke="#0072b2" stroke-width="1.0" fill="none"/><circle cx="580.02" cy="708.35" r="3.42" stroke="#0072b2" stroke-width="1.0" fill="none"/><circle cx="629.74" cy="708.35" r="3.42" stroke="#0072b2" stroke-width="1.0" fill="none"/><circle cx="659.57" cy="709.3" r="3.42" stroke="#0072b2" stroke-width="1.0" fill="none"/><circle cx="664.54" cy="709.3" r="3.42" stroke="#0072b2" stroke-width="1.0" fill="none"/><circle cx="669.52" cy="709.78" r="3.42" stroke="#0072b2" stroke-width="1.0" fill="none"/><circle cx="674.49" cy="711.21" r="3.42" stroke="#0072b2" stroke-width="1.0" fill="none"/><circle cx="676.97" cy="714.06" r="3.42" stroke="#0072b2" stroke-width="1.0" fill="none"/><path d="M679.46,707.4V735.96M677.66,707.4h3.6M677.66,735.96h3.6" stroke="#0072b2" stroke-width="0.9" fill="none"/><circle cx="679.46" cy="721.68" r="3.42" stroke="#0072b2" stroke-width="1.0" fill="none"/><path d="M681.95,730.25V758.81M680.15,730.25h3.6M680.15,758.81h3.6" stroke="#0072b2" stroke-width="0.9" fill="none"/><circle cx="681.95" cy="744.53" r="3.42" stroke="#0072b2" stroke-width="1.0" fill="none"/><path d="M686.92,763.57V792.13M685.12,763.57h3.6M685.12,792.13h3.6" stroke="#0072b2" stroke-width="0.9" fill="none"/><circle cx="686.92" cy="777.85" r="3.42" stroke="#0072b2" stroke-width="1.0" fill="none"/><path d="M689.4,866.38V894.94M687.6,866.38h3.6M687.6,894.94h3.6" stroke="#0072b2" stroke-width="0.9" fill="none"/><circle cx="689.4" cy="880.66" r="3.42" stroke="#0072b2" stroke-width="1.0" fill="none"/><path d="M694.38,828.3V856.86M692.58,828.3h3.6M692.58,856.86h3.6" stroke="#0072b2" stroke-width="0.9" fill="none"/><circle cx="694.38" cy="842.58" r="3.42" stroke="#0072b2" stroke-width="1.0" fill="none"/><path d="M699.35,802.6V831.16M697.55,802.6h3.6M697.55,831.16h3.6" stroke="#0072b2" stroke-width="0.9" fill="none"/><circle cx="699.35" cy="816.88" r="3.42" stroke="#0072b2" stroke-width="1.0" fill="none"/><path d="M729.18,799.74V807.36M727.38,799.74h3.6M727.38,807.36h3.6" stroke="#0072b2" stroke-width="0.9" fill="none"/><circle cx="729.18" cy="803.55" r="3.42" stroke="#0072b2" stroke-width="1.0" fill="none"/><path d="M778.9,799.74V807.36M777.1,799.74h3.6M777.1,807.36h3.6" stroke="#0072b2" stroke-width="0.9" fill="none"/><circle cx="778.9" cy="803.55" r="3.42" stroke="#0072b2" stroke-width="1.0" fill="none"/><path d="M828.62,799.74V807.36M826.82,799.74h3.6M826.82,807.36h3.6" stroke="#0072b2" stroke-width="0.9" fill="none"/><circle cx="828.62" cy="803.55" r="3.42" stroke="#0072b2" stroke-width="1.0" fill="none"/>
<rect x="530.3" y="697.8" width="299.2" height="218.3" fill="none" stroke="#222" stroke-width="0.9"/><text x="530.3" y="925.5" text-anchor="middle" style="font-family:&quot;Liberation Sans&quot;,sans-serif;font-size:9.2px" fill="#222">3.3</text><text x="580.02" y="925.5" text-anchor="middle" style="font-family:&quot;Liberation Sans&quot;,sans-serif;font-size:9.2px" fill="#222">3.4</text><text x="629.74" y="925.5" text-anchor="middle" style="font-family:&quot;Liberation Sans&quot;,sans-serif;font-size:9.2px" fill="#222">3.5</text><text x="679.46" y="925.5" text-anchor="middle" style="font-family:&quot;Liberation Sans&quot;,sans-serif;font-size:9.2px" fill="#222">3.6</text><text x="729.18" y="925.5" text-anchor="middle" style="font-family:&quot;Liberation Sans&quot;,sans-serif;font-size:9.2px" fill="#222">3.7</text><text x="778.9" y="925.5" text-anchor="middle" style="font-family:&quot;Liberation Sans&quot;,sans-serif;font-size:9.2px" fill="#222">3.8</text><text x="828.62" y="925.5" text-anchor="middle" style="font-family:&quot;Liberation Sans&quot;,sans-serif;font-size:9.2px" fill="#222">3.9</text><text x="528.3" y="901" text-anchor="end" style="font-family:&quot;Liberation Sans&quot;,sans-serif;font-size:9.2px" fill="#222">-1.0</text><text x="528.3" y="862.92" text-anchor="end" style="font-family:&quot;Liberation Sans&quot;,sans-serif;font-size:9.2px" fill="#222">-0.6</text><text x="528.3" y="824.84" text-anchor="end" style="font-family:&quot;Liberation Sans&quot;,sans-serif;font-size:9.2px" fill="#222">-0.2</text><text x="528.3" y="786.76" text-anchor="end" style="font-family:&quot;Liberation Sans&quot;,sans-serif;font-size:9.2px" fill="#222">0.2</text><text x="528.3" y="748.68" text-anchor="end" style="font-family:&quot;Liberation Sans&quot;,sans-serif;font-size:9.2px" fill="#222">0.6</text><text x="528.3" y="710.6" text-anchor="end" style="font-family:&quot;Liberation Sans&quot;,sans-serif;font-size:9.2px" fill="#222">1.0</text><path d="M530.3,916.1v-4M530.3,697.8v4M580.02,916.1v-4M580.02,697.8v4M629.74,916.1v-4M629.74,697.8v4M679.46,916.1v-4M679.46,697.8v4M729.18,916.1v-4M729.18,697.8v4M778.9,916.1v-4M778.9,697.8v4M828.62,916.1v-4M828.62,697.8v4M530.3,897.8h4M829.5,897.8h-4M530.3,859.72h4M829.5,859.72h-4M530.3,821.64h4M829.5,821.64h-4M530.3,783.56h4M829.5,783.56h-4M530.3,745.48h4M829.5,745.48h-4M530.3,707.4h4M829.5,707.4h-4" stroke="#222" stroke-width="0.8" fill="none"/>
<text x="768" y="714.7" text-anchor="end" style="font-size:11.5px" fill="#222" textLength="28.3" lengthAdjust="spacing"><tspan font-style="italic">L</tspan> = 6</text><path d="M777,710.9H805.6M777,707.9v6M805.6,707.9v6" stroke="#9400d3" stroke-width="1.1" fill="none"/><path d="M787,710.9H795.6M791.3,706.6V715.2" stroke="#9400d3" stroke-width="1.0" fill="none"/><text x="768" y="730.8" text-anchor="end" style="font-size:11.5px" fill="#222" textLength="28.3" lengthAdjust="spacing"><tspan font-style="italic">L</tspan> = 8</text><path d="M777,727H805.6M777,724v6M805.6,724v6" stroke="#009e73" stroke-width="1.1" fill="none"/><path d="M787,722.7L795.6,731.3M787,731.3L795.6,722.7" stroke="#009e73" stroke-width="1.0" fill="none"/><text x="768" y="746.4" text-anchor="end" style="font-size:11.5px" fill="#222" textLength="32.6" lengthAdjust="spacing"><tspan font-style="italic">L</tspan> = 10</text><path d="M777,742.6H805.6M777,739.6v6M805.6,739.6v6" stroke="#56b4e9" stroke-width="1.1" fill="none"/><path d="M787,742.6H795.6M791.3,738.3V746.9M788.29,739.59L794.31,745.61M788.29,745.61L794.31,739.59" stroke="#56b4e9" stroke-width="1.0" fill="none"/><text x="768" y="762.1" text-anchor="end" style="font-size:11.5px" fill="#222" textLength="32.6" lengthAdjust="spacing"><tspan font-style="italic">L</tspan> = 12</text><path d="M777,758.3H805.6M777,755.3v6M805.6,755.3v6" stroke="#e69f00" stroke-width="1.1" fill="none"/><rect x="787.64" y="754.64" width="7.31" height="7.31" stroke="#e69f00" stroke-width="1.0" fill="none"/><text x="768" y="777.7" text-anchor="end" style="font-size:11.5px" fill="#222" textLength="32.6" lengthAdjust="spacing"><tspan font-style="italic">L</tspan> = 14</text><path d="M777,773.9H805.6M777,770.9v6M805.6,770.9v6" stroke="#f0e442" stroke-width="1.1" fill="none"/><rect x="787.43" y="770.03" width="7.74" height="7.74" fill="#f0e442"/><text x="768" y="792.9" text-anchor="end" style="font-size:11.5px" fill="#222" textLength="32.6" lengthAdjust="spacing"><tspan font-style="italic">L</tspan> = 16</text><path d="M777,789.1H805.6M777,786.1v6M805.6,786.1v6" stroke="#0072b2" stroke-width="1.1" fill="none"/><circle cx="791.3" cy="789.1" r="4.08" stroke="#0072b2" stroke-width="1.0" fill="none"/>
<text transform="translate(511,807) rotate(-90)" text-anchor="middle" style="font-size:14px" fill="#222"><tspan font-style="italic">B</tspan><tspan font-size="10" dy="3">2</tspan></text>
<text x="680.5" y="942.5" text-anchor="middle" style="font-size:15px" fill="#222">&#915;<tspan font-size="10" dy="3" font-style="italic">z</tspan></text>
</svg>
</div>
<div class="pg" style="left:2781px">
<div class="l" style="top:41px;right:76px;">4</div>
<div class="l" style="top:79.8px;left:82px;">as</div>
<div class="l" style="top:115.7px;left:196.9px;"><i>B</i><sub>2</sub> =</div>
<div class="l" style="top:104.6px;left:234.7px;transform:translateX(-50%);">3</div>
<div class="l" style="top:125.2px;left:234.7px;transform:translateX(-50%);">2</div>
<div class="l" style="top:115.7px;left:252px;">1 &#8722;</div>
<div class="l" style="top:104.6px;left:277.5px;transform:translateX(-50%);">1</div>
<div class="l" style="top:125.2px;left:277.5px;transform:translateX(-50%);">3</div>
<div class="l" style="top:104.6px;left:306px;transform:translateX(-50%);"><svg style="vertical-align:-3px;overflow:visible" width="4.29" height="13" viewBox="0 0 5 13"><path d="M4,0.5L1,6.5 L4,12.5" fill="none" stroke="#161616" stroke-width="0.7"/></svg><i>m</i><sup>4</sup><svg style="vertical-align:-3px;overflow:visible" width="4.29" height="13" viewBox="0 0 5 13"><path d="M1,0.5L4,6.5 L1,12.5" fill="none" stroke="#161616" stroke-width="0.7"/></svg></div>
<div class="l" style="top:125.2px;left:306px;transform:translateX(-50%);"><svg style="vertical-align:-3px;overflow:visible" width="4.29" height="13" viewBox="0 0 5 13"><path d="M4,0.5L1,6.5 L4,12.5" fill="none" stroke="#161616" stroke-width="0.7"/></svg><i>m</i><sup>2</sup><svg style="vertical-align:-3px;overflow:visible" width="4.29" height="13" viewBox="0 0 5 13"><path d="M1,0.5L4,6.5 L1,12.5" fill="none" stroke="#161616" stroke-width="0.7"/></svg><sup>2</sup></div>
<div class="l" style="top:115.7px;left:335.5px;">,</div>
<div class="l" style="top:115.7px;left:436px;">(5)</div>
<div class="l" style="top:151.7px;left:82px;">in which</div>
<div class="l" style="top:181.8px;left:166.7px;letter-spacing:0.36px;"><i>m</i><sup>2</sup> =</div>
<div class="l" style="top:171.8px;left:209.5px;transform:translateX(-50%);">1</div>
<div class="l" style="top:192.7px;left:209.5px;transform:translateX(-50%);"><i>L</i><sup>2</sup></div>
<div class="l" style="left:233.6px;top:187.99px;font-size:27px;line-height:0;transform:translateX(-50%) scaleX(0.9)">&#8721;</div>
<div class="l" style="top:203.82px;left:233.6px;transform:translateX(-50%);font-size:10.6px;line-height:12px;"><i>k</i>,<i>l</i></div>
<div class="l" style="top:181.8px;left:243px;letter-spacing:1.32px;">(&#8722;1)<sup><i>&#945;</i><ss>1</ss>&#8722;<i>&#945;</i><ss>2</ss></sup><i>&#963;</i><span style="display:inline-block;vertical-align:-0.36em;font-size:70%;line-height:0.95;margin:-20px 0"><span style="display:block"><i>z</i></span><span style="display:block"><i>k</i>,<i>&#945;</i><ss>1</ss></span></span><i>&#963;</i><span style="display:inline-block;vertical-align:-0.36em;font-size:70%;line-height:0.95;margin:-20px 0"><span style="display:block"><i>z</i></span><span style="display:block"><i>l</i>,<i>&#945;</i><ss>2</ss></span></span></div>
<div class="l" style="top:181.8px;left:436px;">(6)</div>
<div class="l" style="top:226.6px;left:82px;word-spacing:1.06px;">with <i>L</i> being the lattice size,<i>k</i>, <i>l</i> being the unit cell in which</div>
<div class="l" style="top:243.95px;left:82px;word-spacing:0.27px;"><i>&#945;</i><sub>1</sub>, <i>&#945;</i><sub>2</sub> is the site of the unit cell, such that the staggered mag-</div>
<div class="l" style="top:261.3px;left:82px;word-spacing:3.38px;">netization of the AFM phase is measured. In the ordered</div>
<div class="l" style="top:278.65px;left:82px;word-spacing:2.84px;">phase <i>B</i><sub>2</sub> &#8594; 1, while in the disordered phase <i>B</i><sub>2</sub> &#8594; 0. In</div>
<div class="l" style="top:296px;left:82px;word-spacing:0.7px;">continuous phase transitions, if the scaling correction can be</div>
<div class="l" style="top:313.35px;left:82px;word-spacing:-0.35px;">neglected, curves of the Binder ratio versus the tuning param-</div>
<div class="l" style="top:330.7px;left:82px;word-spacing:0.6px;">eter for different size cross at the critical point. In first-order</div>
<div class="l" style="top:348.05px;left:82px;word-spacing:0.95px;">phase transition, negative values for the Binder ratio will be</div>
<div class="l" style="top:365.4px;left:82px;">developed<cs>70</cs>.</div>
<div class="l" style="top:382.75px;left:97.2px;word-spacing:0.04px;">We show the the data of Binder ratio in Fig. <bl>2</bl>. Without the</div>
<div class="l" style="top:400.1px;left:82px;word-spacing:1.81px;">coupling to the Dirac fermions, i.e., <i>&#955;</i> = 0, Fig. <bl>2</bl>(a) shows</div>
<div class="l" style="top:417.45px;left:82px;word-spacing:0.68px;">Binder ratio for &#915;<sub><i>x</i></sub> = 4.4. The curves of Binder ratio belong-</div>
<div class="l" style="top:434.8px;left:82px;word-spacing:-0.42px;">ing to various system sizes cross at a point. This demonstrates</div>
<div class="l" style="top:452.15px;left:82px;word-spacing:0.05px;">that a continuous phase transition (of a (2+1) Ising universal-</div>
<div class="l" style="top:469.5px;left:82px;word-spacing:-0.03px;">ity) occurs for this set of parameters. Fig. <bl>2</bl>(b) is also without</div>
<div class="l" style="top:486.85px;left:82px;word-spacing:-0.62px;">coupling to the Dirace fermions, it shows the curves of Binder</div>
<div class="l" style="top:504.2px;left:82px;word-spacing:1.21px;">ratio for &#915;<sub><i>x</i></sub> = 4.0, different system sizes develop small neg-</div>
<div class="l" style="top:521.55px;left:82px;word-spacing:0.98px;">ative values, signifying that the parameter set is close to the</div>
<div class="l" style="top:538.9px;left:82px;word-spacing:-0.07px;">CTP of the pure boson model. This is consistent with the pre-</div>
<div class="l" style="top:556.25px;left:82px;word-spacing:0.36px;">vious literature<cs>67</cs>. After introducing the coupling to the Dirac</div>
<div class="l" style="top:573.6px;left:82px;word-spacing:2.31px;">fermions with <i>&#955;</i> = 0.3 but still keeping &#915;<sub><i>x</i></sub> = 4.0, Fig. <bl>2</bl>(c)</div>
<div class="l" style="top:590.95px;left:82px;word-spacing:-0.55px;">shows that obvious negative values appear in the Binder ratio,</div>
<div class="l" style="top:608.3px;left:82px;word-spacing:1.35px;">indicating the appearance of the first-order phase transition.</div>
<div class="l" style="top:625.65px;left:82px;word-spacing:0.58px;">Moreover, as <i>L</i> increases, the valuea of the Binder ratio tend</div>
<div class="l" style="top:643px;left:82px;word-spacing:0.19px;">to diverge, which is a typical signature of the first order tran-</div>
<div class="l" style="top:660.35px;left:82px;word-spacing:2.27px;">sition. Such results reveal that the boson continuous phase</div>
<div class="l" style="top:677.7px;left:82px;word-spacing:0.34px;">transition is changed into a first-order phase one by coupling</div>
<div class="l" style="top:695.05px;left:82px;">to the Dirac fermions.</div>
<div class="l" style="top:712.4px;left:97.2px;word-spacing:2.34px;">To further illustrate this result, we scan the &#915;<sub><i>x</i></sub>&#8211;&#915;<sub><i>z</i></sub> phase</div>
<div class="l" style="top:729.75px;left:82px;word-spacing:-1.24px;">diagram with different values of the fermion-boson coupling <i>&#955;</i>,</div>
<div class="l" style="top:747.1px;left:82px;word-spacing:-0.54px;">the phase diagram of pure boson model (<i>&#955;</i> = 0) is repeated and</div>
<div class="l" style="top:764.45px;left:82px;word-spacing:-0.55px;">consistent with the result in Ref. <bl>67</bl>. The phase boundaries are</div>
<div class="l" style="top:781.8px;left:82px;word-spacing:0.25px;">obtained by inspecting the behavior of Binder ratio as shown</div>
<div class="l" style="top:799.15px;left:82px;word-spacing:2.88px;">in Fig. <bl>2</bl>. In Fig. <bl>3</bl>, the blue point is the phase boundary</div>
<div class="l" style="top:816.5px;left:82px;word-spacing:2.24px;">for the pure spin model, and its tricritical point is denoted</div>
<div class="l" style="top:833.85px;left:82px;word-spacing:2.81px;">by a blue triangle; while the black and red points are the</div>
<div class="l" style="top:851.2px;left:82px;word-spacing:0.1px;">phase boundaries in the presence of the coupling to the Dirac</div>
<div class="l" style="top:868.55px;left:82px;word-spacing:-0.55px;">fermions, with the coupling strength being <i>&#955;</i> = 0.3 and <i>&#955;</i> = 0.5,</div>
<div class="l" style="top:885.9px;left:82px;word-spacing:-0.07px;">respectively. One finds that for fixed &#915;<sub><i>x</i></sub>, the value of &#915;<sub><i>z</i></sub> at the</div>
<div class="l" style="top:903.25px;left:82px;word-spacing:0.75px;">phase boundary increases as the coupling strength increases.</div>
<div class="l" style="top:920.6px;left:82px;word-spacing:0.46px;">Moreover, one finds that the regions for the first-order phase</div>
<div class="l" style="top:937.95px;left:82px;word-spacing:2.92px;">transition are extended as <i>&#955;</i> increases. Thus, it seems that</div>
<div class="l" style="top:955.3px;left:82px;word-spacing:0.55px;">the first-order phase transition is apparently enhanced by the</div>
<div class="l" style="top:972.65px;left:82px;">fluctuation from the Dirac fermions.</div>
<div class="l" style="top:1024.3px;left:112.9px;font-size:13.64px;line-height:15.8px;font-weight:bold;">B.</div>
<div class="l" style="top:1024.3px;left:139px;font-size:13.64px;line-height:15.8px;font-weight:bold;">Modified mean-field theory for finite-size systems</div>
<div class="l" style="top:1062px;left:97.2px;word-spacing:-0.13px;">To understand the fermion-enhanced first order phase tran-</div>
<div class="l" style="top:1079.35px;left:82px;word-spacing:0.55px;">sition, we here develop a modified mean-field theory. In this</div>
<div class="l" style="top:376px;left:480px;font-size:13.64px;line-height:15.8px;word-spacing:2.25px;">FIG. 3. Phase diagram obtained by DQMC near tricritical points</div>
<div class="l" style="top:391.7px;left:480px;font-size:13.64px;line-height:15.8px;word-spacing:1.45px;">in the presence of different coupling <i>&#955;</i> = 0.0(blue), 0.3(black) and</div>
<div class="l" style="top:407.4px;left:480px;font-size:13.64px;line-height:15.8px;word-spacing:2.32px;">0.5(red). <span style="display:inline-block;width:6px;height:6px;border:0.8px solid #161616;vertical-align:0"></span> represents first order transition , <svg width="8" height="7" viewBox="0 0 8 7" style="vertical-align:0"><path d="M4,0.5L7.5,6.5H0.5Z" fill="none" stroke="#161616" stroke-width="0.7"/></svg> with green border</div>
<div class="l" style="top:423.1px;left:480px;font-size:13.64px;line-height:15.8px;">represents the CTPs and &#9702; represents continue phase transition.</div>
<div class="l" style="top:477.5px;left:480px;word-spacing:0.69px;">theory, we focus on the effective potential of the boson field</div>
<div class="l" style="top:494.95px;left:480px;word-spacing:2.71px;">after integrating out the fermion fluctuations. The fermion</div>
<div class="l" style="top:512.4px;left:480px;word-spacing:-0.64px;">fluctuations can be truncated from lower bound, since the mo-</div>
<div class="l" style="top:529.85px;left:480px;">mentum cannot be smaller than 1/<i>L</i> in the lattice model.</div>
<div class="l" style="top:547.4px;left:495.2px;word-spacing:0.14px;">We begin with the pure spin (boson) model, whose Hamil-</div>
<div class="l" style="top:564.85px;left:480px;word-spacing:2.24px;">tonian is shown in Eq. (<bl>1</bl>) and its mean-field analyses has</div>
<div class="l" style="top:582.3px;left:480px;word-spacing:0.78px;">been reported in Ref. <bl>67</bl>. The expectation value of <i>&#963;<sub>z</sub></i> can be</div>
<div class="l" style="top:599.75px;left:480px;">decomposed as</div>
<div class="l" style="top:650.2px;left:586px;letter-spacing:2.84px;"><svg style="vertical-align:-3.5px;overflow:visible" width="4.95" height="15" viewBox="0 0 5 15"><path d="M4,0.5L1,7.5 L4,14.5" fill="none" stroke="#161616" stroke-width="0.7"/></svg><i>&#963;</i><span style="display:inline-block;vertical-align:-0.36em;font-size:70%;line-height:0.95;margin:-20px 0"><span style="display:block"><i>z</i></span><span style="display:block"><i>i</i></span></span><svg style="vertical-align:-3.5px;overflow:visible" width="4.95" height="15" viewBox="0 0 5 15"><path d="M1,0.5L4,7.5 L1,14.5" fill="none" stroke="#161616" stroke-width="0.7"/></svg> =</div>
<div class="l" style="top:640.02px;left:636px;font-size:34px;line-height:34px;transform:scaleX(0.55);transform-origin:0 0">{</div>
<div class="l" style="top:637.3px;left:644.4px;letter-spacing:0.31px;"><i>s</i> + <i>&#981;<sub>b</sub></i></div>
<div class="l" style="top:637.3px;left:697px;letter-spacing:0.77px;">(<i>i</i> &#1108; <i>A</i>)</div>
<div class="l" style="top:658.8px;left:644.4px;letter-spacing:0.31px;"><i>s</i> &#8722; <i>&#981;<sub>b</sub></i></div>
<div class="l" style="top:658.8px;left:697px;letter-spacing:0.77px;">(<i>i</i> &#1108; <i>B</i>)</div>
<div class="l" style="top:650.2px;left:835.5px;">(7)</div>
<div class="l" style="top:693.8px;left:480px;word-spacing:0.19px;">in which <i>&#981;<sub>b</sub></i> is the boson dynamical field, <i>s</i> is the background</div>
<div class="l" style="top:711.35px;left:480px;word-spacing:1.08px;">field for <i>J<sub>a</sub></i> = <i>J<sub>b</sub></i> which is just the condition employed in the</div>
<div class="l" style="top:728.9px;left:480px;word-spacing:1.32px;">present work, and <i>A</i>, <i>B</i> represents the indices for sublattice.</div>
<div class="l" style="top:746.45px;left:480px;">Then by doing the following replacement</div>
<div class="l" style="top:785.5px;left:539.7px;letter-spacing:1.67px;"><i>&#963;</i><span style="display:inline-block;vertical-align:-0.36em;font-size:70%;line-height:0.95;margin:-20px 0"><span style="display:block"><i>z</i></span><span style="display:block"><i>i</i></span></span><i>&#963;</i><span style="display:inline-block;vertical-align:-0.36em;font-size:70%;line-height:0.95;margin:-20px 0"><span style="display:block"><i>z</i></span><span style="display:block"><i>j</i></span></span> &#8594; <i>&#963;</i><span style="display:inline-block;vertical-align:-0.36em;font-size:70%;line-height:0.95;margin:-20px 0"><span style="display:block"><i>z</i></span><span style="display:block"><i>i</i></span></span><svg style="vertical-align:-3.5px;overflow:visible" width="4.62" height="14" viewBox="0 0 5 14"><path d="M4,0.5L1,7 L4,13.5" fill="none" stroke="#161616" stroke-width="0.7"/></svg><i>&#963;</i><span style="display:inline-block;vertical-align:-0.36em;font-size:70%;line-height:0.95;margin:-20px 0"><span style="display:block"><i>z</i></span><span style="display:block"><i>j</i></span></span><svg style="vertical-align:-3.5px;overflow:visible" width="4.62" height="14" viewBox="0 0 5 14"><path d="M1,0.5L4,7 L1,13.5" fill="none" stroke="#161616" stroke-width="0.7"/></svg> + <svg style="vertical-align:-3.5px;overflow:visible" width="4.62" height="14" viewBox="0 0 5 14"><path d="M4,0.5L1,7 L4,13.5" fill="none" stroke="#161616" stroke-width="0.7"/></svg><i>&#963;</i><span style="display:inline-block;vertical-align:-0.36em;font-size:70%;line-height:0.95;margin:-20px 0"><span style="display:block"><i>z</i></span><span style="display:block"><i>i</i></span></span><svg style="vertical-align:-3.5px;overflow:visible" width="4.62" height="14" viewBox="0 0 5 14"><path d="M1,0.5L4,7 L1,13.5" fill="none" stroke="#161616" stroke-width="0.7"/></svg><i>&#963;</i><span style="display:inline-block;vertical-align:-0.36em;font-size:70%;line-height:0.95;margin:-20px 0"><span style="display:block"><i>z</i></span><span style="display:block"><i>j</i></span></span> &#8722; <svg style="vertical-align:-3.5px;overflow:visible" width="4.62" height="14" viewBox="0 0 5 14"><path d="M4,0.5L1,7 L4,13.5" fill="none" stroke="#161616" stroke-width="0.7"/></svg><i>&#963;</i><span style="display:inline-block;vertical-align:-0.36em;font-size:70%;line-height:0.95;margin:-20px 0"><span style="display:block"><i>z</i></span><span style="display:block"><i>i</i></span></span><svg style="vertical-align:-3.5px;overflow:visible" width="4.62" height="14" viewBox="0 0 5 14"><path d="M1,0.5L4,7 L1,13.5" fill="none" stroke="#161616" stroke-width="0.7"/></svg><svg style="vertical-align:-3.5px;overflow:visible" width="4.62" height="14" viewBox="0 0 5 14"><path d="M4,0.5L1,7 L4,13.5" fill="none" stroke="#161616" stroke-width="0.7"/></svg><i>&#963;</i><span style="display:inline-block;vertical-align:-0.36em;font-size:70%;line-height:0.95;margin:-20px 0"><span style="display:block"><i>z</i></span><span style="display:block"><i>j</i></span></span><svg style="vertical-align:-3.5px;overflow:visible" width="4.62" height="14" viewBox="0 0 5 14"><path d="M1,0.5L4,7 L1,13.5" fill="none" stroke="#161616" stroke-width="0.7"/></svg>,</div>
<div class="l" style="top:785.5px;left:833.5px;">(8)</div>
<div class="l" style="top:825.2px;left:480px;">one obtains the mean field bosonic Hamiltonian as<cs>67</cs></div>
<div class="l" style="top:861.4px;left:574px;transform:translateX(-50%);"><i>H</i><span style="display:inline-block;vertical-align:-0.36em;font-size:70%;line-height:0.95;margin:-20px 0"><span style="display:block">MF</span><span style="display:block">Boson</span></span></div>
<div class="l" style="top:883.1px;left:574px;transform:translateX(-50%);"><i>N</i></div>
<div class="l" style="top:875.2px;left:596px;letter-spacing:0.82px;">= (<i>J</i><sub>&#8722;</sub><i>s</i> &#8722; <i>J</i><sub>+</sub><i>&#981;<sub>b</sub></i> &#8722; &#915;<sub><i>z</i></sub>)<i>&#963;</i><span style="display:inline-block;vertical-align:-0.36em;font-size:70%;line-height:0.95;margin:-20px 0"><span style="display:block"><i>z</i></span><span style="display:block"><i>A</i></span></span> &#8722; &#915;<sub><i>x</i></sub><i>&#963;</i><span style="display:inline-block;vertical-align:-0.36em;font-size:70%;line-height:0.95;margin:-20px 0"><span style="display:block"><i>x</i></span><span style="display:block"><i>A</i></span></span></div>
<div class="l" style="top:901px;left:596px;letter-spacing:0.78px;">+ (<i>J</i><sub>&#8722;</sub><i>s</i> + <i>J</i><sub>+</sub><i>&#981;<sub>b</sub></i> &#8722; &#915;<sub><i>z</i></sub>)<i>&#963;</i><span style="display:inline-block;vertical-align:-0.36em;font-size:70%;line-height:0.95;margin:-20px 0"><span style="display:block"><i>x</i></span><span style="display:block"><i>B</i></span></span> &#8722; &#915;<sub><i>x</i></sub><i>&#963;</i><span style="display:inline-block;vertical-align:-0.36em;font-size:70%;line-height:0.95;margin:-20px 0"><span style="display:block"><i>x</i></span><span style="display:block"><i>B</i></span></span></div>
<div class="l" style="top:925.2px;left:596px;letter-spacing:0.41px;">&#8722; <i>J</i><sub>&#8722;</sub><i>s</i><sup>2</sup> + <i>J</i><sub>+</sub><i>&#981;</i><span style="display:inline-block;vertical-align:-0.36em;font-size:70%;line-height:0.95;margin:-20px 0"><span style="display:block">2</span><span style="display:block"><i>b</i></span></span></div>
<div class="l" style="top:892.4px;left:833.5px;">(9)</div>
<div class="l" style="top:962.8px;left:480px;word-spacing:2.02px;">where <i>J</i><sub>&#177;</sub> = 4(<i>J<sub>a</sub></i> &#177; <i>J<sub>b</sub></i>). With <i>J</i><sub>&#8722;</sub> = 0 or <i>J<sub>a</sub></i> = <i>J<sub>b</sub></i>, this Hamil-</div>
<div class="l" style="top:980px;left:480px;word-spacing:-0.29px;">tonian gives the bosonic free energy per unit cell according to</div>
<div class="l" style="top:997.7px;left:480px;word-spacing:5.42px;"><i>f<sub>b</sub></i> &#8801; &#8722;<span style="display:inline-flex;flex-direction:column;align-items:center;vertical-align:3.5px;margin:-40px 1px;line-height:1.05;font-size:10.6px;"><span style="border-bottom:0.6px solid #161616;padding:0 1px 0px;align-self:stretch;text-align:center">1</span><span style="padding-top:0px"><i>&#946;N</i></span></span>logTr(e<sup>&#8722;<i>&#946;H</i><span style="font-size:80%"><span style="display:inline-block;vertical-align:-0.3em;font-size:70%;line-height:0.95;margin:-20px 0"><span style="display:block">MF</span><span style="display:block">Boson</span></span></span></sup>). At <i>T</i> = 0, near the phase tran-</div>
<div class="l" style="top:1019.6px;left:480px;word-spacing:1.29px;">sition, the free energy can be expanded as function of <i>&#981;<sub>b</sub></i> as</div>
<div class="l" style="top:1037.1px;left:480px;">follows</div>
<div class="l" style="top:1076.4px;left:563.7px;letter-spacing:0.73px;"><i>f</i><sub>b</sub> = <i>f</i><sub>0</sub> +</div>
<div class="l" style="top:1064.4px;left:625px;transform:translateX(-50%);"><i>r</i></div>
<div class="l" style="top:1087.9px;left:625px;transform:translateX(-50%);">2</div>
<div class="l" style="top:1076.4px;left:631px;letter-spacing:0.31px;"><i>&#981;</i><span style="display:inline-block;vertical-align:-0.36em;font-size:70%;line-height:0.95;margin:-20px 0"><span style="display:block">2</span><span style="display:block"><i>b</i></span></span> +</div>
<div class="l" style="top:1064.4px;left:666px;transform:translateX(-50%);"><i>u</i></div>
<div class="l" style="top:1087.9px;left:666px;transform:translateX(-50%);">4</div>
<div class="l" style="top:1076.4px;left:672px;letter-spacing:0.31px;"><i>&#981;</i><span style="display:inline-block;vertical-align:-0.36em;font-size:70%;line-height:0.95;margin:-20px 0"><span style="display:block">4</span><span style="display:block"><i>b</i></span></span> +</div>
<div class="l" style="top:1064.4px;left:709px;transform:translateX(-50%);"><i>v</i></div>
<div class="l" style="top:1087.9px;left:709px;transform:translateX(-50%);">6</div>
<div class="l" style="top:1076.4px;left:715px;letter-spacing:0.6px;"><i>&#981;</i><span style="display:inline-block;vertical-align:-0.36em;font-size:70%;line-height:0.95;margin:-20px 0"><span style="display:block">6</span><span style="display:block"><i>b</i></span></span> + &#8230;,</div>
<div class="l" style="top:1076.4px;left:826.3px;">(10)</div>
<svg class="ov" width="927" height="1200" viewBox="0 0 927 1200">
<line x1="229.5" y1="125" x2="240" y2="125" stroke="#161616" stroke-width="0.7"/>
<path d="M247,109Q239.75,127.5 247,146L247.25,145.6Q243.15,127.5 247.25,109.4Z" fill="#161616"/>
<line x1="272.5" y1="125" x2="282.5" y2="125" stroke="#161616" stroke-width="0.7"/>
<line x1="287" y1="125" x2="326" y2="125" stroke="#161616" stroke-width="0.7"/>
<path d="M327.5,109Q334.75,127.5 327.5,146L327.25,145.6Q331.35,127.5 327.25,109.4Z" fill="#161616"/>
<line x1="202" y1="191.6" x2="218" y2="191.6" stroke="#161616" stroke-width="0.7"/>
<line x1="554" y1="881.5" x2="594" y2="881.5" stroke="#161616" stroke-width="0.7"/>
<line x1="620.5" y1="1084.9" x2="629.5" y2="1084.9" stroke="#161616" stroke-width="0.7"/>
<line x1="661.5" y1="1084.9" x2="670.5" y2="1084.9" stroke="#161616" stroke-width="0.7"/>
<line x1="704.5" y1="1084.9" x2="713.5" y2="1084.9" stroke="#161616" stroke-width="0.7"/>
<path d="M562.15,248.82V260.41M560.35,248.82h3.6M560.35,260.41h3.6" stroke="#3a3ad8" stroke-width="0.9" fill="none"/><rect x="559.6" y="252.06" width="5.1" height="5.1" stroke="#3a3ad8" stroke-width="1.0" fill="none"/><path d="M602.2,259.54V264.17M600.4,259.54h3.6M600.4,264.17h3.6" stroke="#3a3ad8" stroke-width="0.9" fill="none"/><rect x="599.65" y="259.31" width="5.1" height="5.1" stroke="#3a3ad8" stroke-width="1.0" fill="none"/><path d="M642.25,274.02V278.66M640.45,274.02h3.6M640.45,278.66h3.6" stroke="#3a3ad8" stroke-width="0.9" fill="none"/><path d="M642.25,273.34L645.25,278.59L639.25,278.59Z" stroke="#3a3ad8" stroke-width="1.0" fill="none"/><path d="M682.3,282.14V290.83M680.5,282.14h3.6M680.5,290.83h3.6" stroke="#3a3ad8" stroke-width="0.9" fill="none"/><circle cx="682.3" cy="286.48" r="2.85" stroke="#3a3ad8" stroke-width="1.0" fill="none"/><path d="M722.35,293.72V302.41M720.55,293.72h3.6M720.55,302.41h3.6" stroke="#3a3ad8" stroke-width="0.9" fill="none"/><circle cx="722.35" cy="298.07" r="2.85" stroke="#3a3ad8" stroke-width="1.0" fill="none"/><path d="M602.2,214.06V222.75M600.4,214.06h3.6M600.4,222.75h3.6" stroke="#222222" stroke-width="0.9" fill="none"/><rect x="599.65" y="215.85" width="5.1" height="5.1" stroke="#222222" stroke-width="1.0" fill="none"/><path d="M642.25,221.3V232.89M640.45,221.3h3.6M640.45,232.89h3.6" stroke="#222222" stroke-width="0.9" fill="none"/><rect x="639.7" y="224.54" width="5.1" height="5.1" stroke="#222222" stroke-width="1.0" fill="none"/><path d="M682.3,227.09V238.68M680.5,227.09h3.6M680.5,238.68h3.6" stroke="#222222" stroke-width="0.9" fill="none"/><path d="M682.3,229.89L685.3,235.14L679.3,235.14Z" stroke="#222222" stroke-width="1.0" fill="none"/><path d="M722.35,240.13V243.03M720.55,240.13h3.6M720.55,243.03h3.6" stroke="#222222" stroke-width="0.9" fill="none"/><circle cx="722.35" cy="241.58" r="2.85" stroke="#222222" stroke-width="1.0" fill="none"/><path d="M762.4,247.37V264.75M760.6,247.37h3.6M760.6,264.75h3.6" stroke="#222222" stroke-width="0.9" fill="none"/><circle cx="762.4" cy="256.06" r="2.85" stroke="#222222" stroke-width="1.0" fill="none"/><path d="M642.25,145.98V157.56M640.45,145.98h3.6M640.45,157.56h3.6" stroke="#d83a3a" stroke-width="0.9" fill="none"/><rect x="639.7" y="149.22" width="5.1" height="5.1" stroke="#d83a3a" stroke-width="1.0" fill="none"/><path d="M682.3,154.67V160.46M680.5,154.67h3.6M680.5,160.46h3.6" stroke="#d83a3a" stroke-width="0.9" fill="none"/><rect x="679.75" y="155.01" width="5.1" height="5.1" stroke="#d83a3a" stroke-width="1.0" fill="none"/><path d="M722.35,166.26V177.84M720.55,166.26h3.6M720.55,177.84h3.6" stroke="#d83a3a" stroke-width="0.9" fill="none"/><path d="M722.35,169.05L725.35,174.3L719.35,174.3Z" stroke="#d83a3a" stroke-width="1.0" fill="none"/><path d="M762.4,172.05V183.64M760.6,172.05h3.6M760.6,183.64h3.6" stroke="#d83a3a" stroke-width="0.9" fill="none"/><circle cx="762.4" cy="177.84" r="2.85" stroke="#d83a3a" stroke-width="1.0" fill="none"/><path d="M802.45,177.84V189.43M800.65,177.84h3.6M800.65,189.43h3.6" stroke="#d83a3a" stroke-width="0.9" fill="none"/><circle cx="802.45" cy="183.64" r="2.85" stroke="#d83a3a" stroke-width="1.0" fill="none"/><rect x="634" y="264.3" width="14.5" height="26.1" fill="none" stroke="#1fbf3a" stroke-width="1.3" stroke-dasharray="1.4,1.4"/><rect x="673.7" y="219.7" width="15.8" height="29.3" fill="none" stroke="#1fbf3a" stroke-width="1.3" stroke-dasharray="1.4,1.4"/><rect x="714" y="157.7" width="16" height="29.2" fill="none" stroke="#1fbf3a" stroke-width="1.3" stroke-dasharray="1.4,1.4"/>
<rect x="521.7" y="85.7" width="320.7" height="231.6" fill="none" stroke="#222" stroke-width="0.9"/><text x="562.15" y="326.7" text-anchor="middle" style="font-family:&quot;Liberation Sans&quot;,sans-serif;font-size:9.2px" fill="#222">3.6</text><text x="602.2" y="326.7" text-anchor="middle" style="font-family:&quot;Liberation Sans&quot;,sans-serif;font-size:9.2px" fill="#222">3.8</text><text x="642.25" y="326.7" text-anchor="middle" style="font-family:&quot;Liberation Sans&quot;,sans-serif;font-size:9.2px" fill="#222">4.0</text><text x="682.3" y="326.7" text-anchor="middle" style="font-family:&quot;Liberation Sans&quot;,sans-serif;font-size:9.2px" fill="#222">4.2</text><text x="722.35" y="326.7" text-anchor="middle" style="font-family:&quot;Liberation Sans&quot;,sans-serif;font-size:9.2px" fill="#222">4.4</text><text x="762.4" y="326.7" text-anchor="middle" style="font-family:&quot;Liberation Sans&quot;,sans-serif;font-size:9.2px" fill="#222">4.6</text><text x="802.45" y="326.7" text-anchor="middle" style="font-family:&quot;Liberation Sans&quot;,sans-serif;font-size:9.2px" fill="#222">4.8</text><text x="842.5" y="326.7" text-anchor="middle" style="font-family:&quot;Liberation Sans&quot;,sans-serif;font-size:9.2px" fill="#222">5.0</text><text x="519.7" y="320.1" text-anchor="end" style="font-family:&quot;Liberation Sans&quot;,sans-serif;font-size:9.2px" fill="#222">3.3</text><text x="519.7" y="291.13" text-anchor="end" style="font-family:&quot;Liberation Sans&quot;,sans-serif;font-size:9.2px" fill="#222">3.4</text><text x="519.7" y="262.16" text-anchor="end" style="font-family:&quot;Liberation Sans&quot;,sans-serif;font-size:9.2px" fill="#222">3.5</text><text x="519.7" y="233.19" text-anchor="end" style="font-family:&quot;Liberation Sans&quot;,sans-serif;font-size:9.2px" fill="#222">3.6</text><text x="519.7" y="204.22" text-anchor="end" style="font-family:&quot;Liberation Sans&quot;,sans-serif;font-size:9.2px" fill="#222">3.7</text><text x="519.7" y="175.25" text-anchor="end" style="font-family:&quot;Liberation Sans&quot;,sans-serif;font-size:9.2px" fill="#222">3.8</text><text x="519.7" y="146.28" text-anchor="end" style="font-family:&quot;Liberation Sans&quot;,sans-serif;font-size:9.2px" fill="#222">3.9</text><text x="519.7" y="117.31" text-anchor="end" style="font-family:&quot;Liberation Sans&quot;,sans-serif;font-size:9.2px" fill="#222">4.0</text><text x="519.7" y="88.34" text-anchor="end" style="font-family:&quot;Liberation Sans&quot;,sans-serif;font-size:9.2px" fill="#222">4.1</text><path d="M562.15,317.3v-4M562.15,85.7v4M602.2,317.3v-4M602.2,85.7v4M642.25,317.3v-4M642.25,85.7v4M682.3,317.3v-4M682.3,85.7v4M722.35,317.3v-4M722.35,85.7v4M762.4,317.3v-4M762.4,85.7v4M802.45,317.3v-4M802.45,85.7v4M842.5,317.3v-4M842.5,85.7v4M521.7,316.9h4M842.4,316.9h-4M521.7,287.93h4M842.4,287.93h-4M521.7,258.96h4M842.4,258.96h-4M521.7,229.99h4M842.4,229.99h-4M521.7,201.02h4M842.4,201.02h-4M521.7,172.05h4M842.4,172.05h-4M521.7,143.08h4M842.4,143.08h-4M521.7,114.11h4M842.4,114.11h-4M521.7,85.14h4M842.4,85.14h-4" stroke="#222" stroke-width="0.8" fill="none"/>
<text x="779.4" y="106.4" text-anchor="end" style="font-size:11.5px;font-weight:bold" fill="#222" textLength="46.4" lengthAdjust="spacing"><tspan font-style="italic">&#955;</tspan><tspan font-size="8" dy="2.5" font-style="italic">ij</tspan><tspan dy="-2.5"> = 0.0</tspan></text><path d="M789,102.4H817" stroke="#3a3ad8" stroke-width="1.1"/><text x="779.4" y="122.1" text-anchor="end" style="font-size:11.5px;font-weight:bold" fill="#222" textLength="46.4" lengthAdjust="spacing"><tspan font-style="italic">&#955;</tspan><tspan font-size="8" dy="2.5" font-style="italic">ij</tspan><tspan dy="-2.5"> = 0.3</tspan></text><path d="M789,118.1H817" stroke="#222222" stroke-width="1.1"/><text x="779.4" y="139.2" text-anchor="end" style="font-size:11.5px;font-weight:bold" fill="#222" textLength="46.4" lengthAdjust="spacing"><tspan font-style="italic">&#955;</tspan><tspan font-size="8" dy="2.5" font-style="italic">ij</tspan><tspan dy="-2.5"> = 0.5</tspan></text><path d="M789,135.2H817" stroke="#d83a3a" stroke-width="1.1"/>
<text x="483.5" y="199" style="font-size:17px;font-weight:bold" fill="#222">&#915;<tspan font-size="12" dy="3" font-style="italic">z</tspan></text>
<text x="672" y="349" style="font-size:17px;font-weight:bold" fill="#222">&#915;<tspan font-size="12" dy="3" font-style="italic">x</tspan></text>
</svg>
</div>
<div class="pg" style="left:3708px">
<div class="l" style="top:41px;right:76px;">5</div>
<div class="l" style="top:79.6px;left:82px;">in which the coefficient <i>f</i><sub>0</sub>, <i>r</i>, <i>u</i>, and <i>v</i> read</div>
<div class="l" style="top:107.6px;left:171.7px;letter-spacing:0.16px;"><i>f</i><sub>0</sub> = &#8722;&#916;,</div>
<div class="l" style="top:138px;left:171.7px;letter-spacing:0.68px;">&#916; = <svg width="9" height="17" viewBox="0 0 9 17" style="vertical-align:-3.5px;overflow:visible;margin-left:0.5px"><path d="M0.3,11 L2.3,9.6 L5.3,16.6 L9,-0.4 L9.6,-0.4" fill="none" stroke="#161616" stroke-width="0.8"/></svg><span style="border-top:0.8px solid #161616">&#915;<span style="display:inline-block;vertical-align:-0.36em;font-size:70%;line-height:0.95;margin:-20px 0"><span style="display:block">2</span><span style="display:block"><i>x</i></span></span> + &#915;<span style="display:inline-block;vertical-align:-0.36em;font-size:70%;line-height:0.95;margin:-20px 0"><span style="display:block">2</span><span style="display:block"><i>z</i></span></span></span>,</div>
<div class="l" style="top:175.8px;left:171.7px;letter-spacing:0.59px;"><i>r</i> =</div>
<div class="l" style="top:165.2px;left:200.5px;transform:translateX(-50%);">1</div>
<div class="l" style="top:186.7px;left:200.5px;transform:translateX(-50%);">2</div>
<div class="l" style="top:175.8px;left:205.5px;letter-spacing:0.72px;"><i>J</i><sub>+</sub>(1 &#8722;</div>
<div class="l" style="top:165.2px;left:270px;transform:translateX(-50%);">&#915;<span style="display:inline-block;vertical-align:-0.36em;font-size:70%;line-height:0.95;margin:-20px 0"><span style="display:block">2</span><span style="display:block"><i>x</i></span></span><i>J</i><sub>+</sub></div>
<div class="l" style="top:186.7px;left:270px;transform:translateX(-50%);">&#916;<sup>3</sup></div>
<div class="l" style="top:175.8px;left:288px;">),</div>
<div class="l" style="top:216.5px;left:171.7px;letter-spacing:0.7px;"><i>u</i> =</div>
<div class="l" style="top:204.2px;left:248.5px;transform:translateX(-50%);">(&#915;<span style="display:inline-block;vertical-align:-0.36em;font-size:70%;line-height:0.95;margin:-20px 0"><span style="display:block">2</span><span style="display:block"><i>x</i></span></span> &#8722; 4&#915;<span style="display:inline-block;vertical-align:-0.36em;font-size:70%;line-height:0.95;margin:-20px 0"><span style="display:block">2</span><span style="display:block"><i>z</i></span></span>)&#915;<span style="display:inline-block;vertical-align:-0.36em;font-size:70%;line-height:0.95;margin:-20px 0"><span style="display:block">2</span><span style="display:block"><i>x</i></span></span><i>J</i><span style="display:inline-block;vertical-align:-0.36em;font-size:70%;line-height:0.95;margin:-20px 0"><span style="display:block">4</span><span style="display:block">+</span></span></div>
<div class="l" style="top:227.2px;left:248.5px;transform:translateX(-50%);">8&#916;<sup>7</sup></div>
<div class="l" style="top:256.8px;left:171.7px;letter-spacing:0.98px;"><i>v</i> =</div>
<div class="l" style="top:245.7px;left:279.5px;transform:translateX(-50%);">(12&#915;<span style="display:inline-block;vertical-align:-0.36em;font-size:70%;line-height:0.95;margin:-20px 0"><span style="display:block">2</span><span style="display:block"><i>x</i></span></span>&#915;<span style="display:inline-block;vertical-align:-0.36em;font-size:70%;line-height:0.95;margin:-20px 0"><span style="display:block">2</span><span style="display:block"><i>z</i></span></span> &#8722; 8&#915;<span style="display:inline-block;vertical-align:-0.36em;font-size:70%;line-height:0.95;margin:-20px 0"><span style="display:block">4</span><span style="display:block"><i>z</i></span></span> &#8722; &#915;<span style="display:inline-block;vertical-align:-0.36em;font-size:70%;line-height:0.95;margin:-20px 0"><span style="display:block">4</span><span style="display:block"><i>x</i></span></span>)&#915;<span style="display:inline-block;vertical-align:-0.36em;font-size:70%;line-height:0.95;margin:-20px 0"><span style="display:block">2</span><span style="display:block"><i>x</i></span></span><i>J</i><span style="display:inline-block;vertical-align:-0.36em;font-size:70%;line-height:0.95;margin:-20px 0"><span style="display:block">6</span><span style="display:block">+</span></span></div>
<div class="l" style="top:266.7px;left:279.5px;transform:translateX(-50%);">16&#916;<sup>11</sup></div>
<div class="l" style="top:185.5px;left:427.8px;">(11)</div>
<div class="l" style="top:292.2px;left:82px;word-spacing:1.56px;">and the ellipsis represents the higher order terms which are</div>
<div class="l" style="top:309.6px;left:82px;word-spacing:2.98px;">irrelevant and can be neglected. For &#915;<sub><i>x</i></sub> &gt; 2&#915;<sub><i>z</i></sub>, <i>u</i> &gt; 0 and</div>
<div class="l" style="top:327.1px;left:82px;word-spacing:-0.09px;">the system hosts a continuous phase transition; while for &#915;<sub><i>x</i></sub> &lt;</div>
<div class="l" style="top:344.7px;left:82px;word-spacing:0.85px;">2&#915;<sub><i>z</i></sub>, <i>u</i> &lt; 0 and the system hosts the Landau-Devonshire first</div>
<div class="l" style="top:361.8px;left:82px;word-spacing:1.74px;">order phase transition<cs>22</cs>. In the continuous case with <i>u</i> &gt; 0,</div>
<div class="l" style="top:381.7px;left:82px;word-spacing:1.19px;">the order parameter <i>&#981;<sub>b</sub></i> develops as <i>&#981;<sub>b</sub></i> = <svg width="9" height="17" viewBox="0 0 9 17" style="vertical-align:-3.5px;overflow:visible;margin-left:0.5px"><path d="M0.3,11 L2.3,9.6 L5.3,16.6 L9,-0.4 L9.6,-0.4" fill="none" stroke="#161616" stroke-width="0.8"/></svg><span style="border-top:0.8px solid #161616">&#8722;<i>r</i>/<i>u</i></span> continuously</div>
<div class="l" style="top:399.3px;left:82px;word-spacing:2.33px;">when <i>r</i> decreases from its critical point <i>r</i> = 0. In contrast,</div>
<div class="l" style="top:418px;left:82px;word-spacing:2.54px;">when <i>u</i> &lt; 0, <i>&#981;<sub>b</sub></i> jumps from zero to <i>&#981;<sub>b</sub></i> = &#177;<svg width="9" height="17" viewBox="0 0 9 17" style="vertical-align:-3.5px;overflow:visible;margin-left:0.5px"><path d="M0.3,11 L2.3,9.6 L5.3,16.6 L9,-0.4 L9.6,-0.4" fill="none" stroke="#161616" stroke-width="0.8"/></svg><span style="border-top:0.8px solid #161616">&#8722;3<i>u</i>/4<i>v</i></span> at the</div>
<div class="l" style="top:435.4px;left:82px;word-spacing:2.74px;">transition point <i>r<sub>t</sub></i> = 3<i>u</i><sup>2</sup>/16<i>v</i>. In addition, when <i>r</i> &lt; 0, the</div>
<div class="l" style="top:452.8px;left:82px;word-spacing:1.66px;">ordered phase is the only stable phase; when <i>r</i> &gt; <i>u</i><sup>2</sup>/8<i>v</i>, the</div>
<div class="l" style="top:470.2px;left:82px;word-spacing:-0.91px;">disordered phase is the only stable phase. In between when 0 &lt;</div>
<div class="l" style="top:487.8px;left:82px;word-spacing:3.17px;"><i>r</i> &lt; <i>u</i><sup>2</sup>/8<i>v</i>, both phases can coexist. When <i>r<sub>t</sub></i> &lt; <i>r</i> &lt; <i>u</i><sup>2</sup>/8<i>v</i>,</div>
<div class="l" style="top:505.3px;left:82px;word-spacing:0.63px;">the disordered phase is more stable, and when 0 &lt; <i>r</i> &lt; <i>r<sub>t</sub></i>, the</div>
<div class="l" style="top:522.8px;left:82px;">ordered phase is more stable.</div>
<div class="l" style="top:540.2px;left:97.2px;word-spacing:4.13px;">To explore the effects induced by the coupling to the</div>
<div class="l" style="top:557.3px;left:82px;word-spacing:2.7px;">Dirac fermion, in principle one should consider the boson</div>
<div class="l" style="top:574.7px;left:82px;word-spacing:1.57px;">and fermion fluctuations simultaneously and investigate the</div>
<div class="l" style="top:591.7px;left:82px;word-spacing:3.97px;">renormalization flow on all relevant and marginal opera-</div>
<div class="l" style="top:609.3px;left:82px;word-spacing:1.83px;">tors. However, for the finite-size system, such procedure is</div>
<div class="l" style="top:626.6px;left:82px;word-spacing:2.56px;">quite complex to implement. We have to take a step back</div>
<div class="l" style="top:644px;left:82px;word-spacing:1.75px;">and study the influence of the Yukawa coupling on the bo-</div>
<div class="l" style="top:661.2px;left:82px;word-spacing:2.93px;">son free energy. The mean-field free energy density reads</div>
<div class="l" style="top:681.9px;left:82px;word-spacing:1.71px;"><i>f</i> &#8801; &#8722;<span style="display:inline-flex;flex-direction:column;align-items:center;vertical-align:3.5px;margin:-40px 1px;line-height:1.05;font-size:10.6px;"><span style="border-bottom:0.6px solid #161616;padding:0 1px 0px;align-self:stretch;text-align:center">1</span><span style="padding-top:0px"><i>&#946;N</i></span></span>logTr(e<sup style="letter-spacing:1.3px">&#8722;<i>&#946;</i>(<i>H</i><span style="font-size:80%"><span style="display:inline-block;vertical-align:-0.3em;font-size:70%;line-height:0.95;margin:-20px 0"><span style="display:block">MF</span><span style="display:block">Boson</span></span></span>+<i>H</i><span style="font-size:75%;vertical-align:-0.3em">Fermion</span>+<i>H</i><span style="font-size:80%"><span style="display:inline-block;vertical-align:-0.3em;font-size:70%;line-height:0.95;margin:-20px 0"><span style="display:block">MF</span><span style="display:block">Coupling</span></span></span>)</sup>), in which <i>H</i><span style="display:inline-block;vertical-align:-0.36em;font-size:70%;line-height:0.95;margin:-20px 0"><span style="display:block">MF</span><span style="display:block">Coupling</span></span></div>
<div class="l" style="top:700.5px;left:82px;word-spacing:-0.69px;">is the mean-field version of the coupling Hamiltonian (<bl>4</bl>) with</div>
<div class="l" style="top:718px;left:82px;word-spacing:2.63px;"><i>&#963;<sub>z</sub></i> being approximated by its mean-field expectation value</div>
<div class="l" style="top:735.5px;left:82px;word-spacing:0.58px;">Eq. (<bl>7</bl>). Note that in <i>f</i>, <i>H</i><sub>Fermion</sub> keeps intact as that in Eq. (<bl>2</bl>)</div>
<div class="l" style="top:752.9px;left:82px;word-spacing:3.12px;">and contributions from both valleys are included. At zero</div>
<div class="l" style="top:770.3px;left:82px;">temperature, we have</div>
<div class="l" style="top:811.6px;left:150.9px;letter-spacing:0.95px;"><i>f</i> = <i>f<sub>b</sub></i> + (&#8722;)</div>
<div class="l" style="top:800.2px;left:235.5px;transform:translateX(-50%);">1</div>
<div class="l" style="top:823.2px;left:235.5px;transform:translateX(-50%);"><i>&#960;</i></div>
<div class="l" style="top:799.35px;left:246px;font-size:36px;line-height:36px;">&#8747;</div>
<div class="l" style="top:811.6px;left:265px;letter-spacing:-0.2px;"><i>d</i><sup>2</sup><i>k</i></div>
<div class="l" style="top:811.6px;left:297.5px;letter-spacing:0.93px;"><i>&#955;</i><sup>2</sup><i>&#981;</i><span style="display:inline-block;vertical-align:-0.36em;font-size:70%;line-height:0.95;margin:-20px 0"><span style="display:block">2</span><span style="display:block"><i>b</i></span></span> + 2<i>t</i><sup>2</sup><i>k</i><sup>2</sup>,</div>
<div class="l" style="top:811.6px;left:427.7px;">(12)</div>
<div class="l" style="top:848.9px;left:82px;word-spacing:-0.48px;">in which the last term comes from the coupling with the Dirac</div>
<div class="l" style="top:866.4px;left:82px;word-spacing:0.54px;">fermions. In the thermodynamic limit, the range of integral <span style="font-size:120%;vertical-align:-2px">&#8747;</span></div>
<div class="l" style="top:883.6px;left:82px;word-spacing:1.4px;">is from zero to &#923; (&#923; is the ultraviolet cutoff). By explicitly</div>
<div class="l" style="top:900.9px;left:82px;word-spacing:0.87px;">integrating out Eq. (<bl>12</bl>), one finds that the Yukawa coupling</div>
<div class="l" style="top:918.1px;left:82px;word-spacing:-0.22px;">between the Dirac fermion and the boson fluctuations can not</div>
<div class="l" style="top:935.2px;left:82px;word-spacing:2.49px;">only change the coefficients in Eq. (<bl>11</bl>), but also generate</div>
<div class="l" style="top:956.1px;left:82px;word-spacing:4.62px;">an additional nonanalytic term <span style="display:inline-flex;flex-direction:column;align-items:center;vertical-align:3.5px;margin:-40px 1px;line-height:1.05;font-size:10.6px;"><span style="border-bottom:0.6px solid #161616;padding:0 1px 0px;align-self:stretch;text-align:center"><i>&#955;</i><sup>3</sup>|<i>&#981;<sub>b</sub></i>|<sup>3</sup></span><span style="padding-top:0px">6<i>t</i><sup>2</sup></span></span>. This cubic term is</div>
<div class="l" style="top:975.1px;left:82px;word-spacing:0.07px;">traced back to the gapless Dirac points in the thermodynamic</div>
<div class="l" style="top:992.3px;left:82px;word-spacing:0.09px;">limit. Actually, at these singular point, the fermion functional</div>
<div class="l" style="top:1009.8px;left:82px;">integral is ill-defined.</div>
<div class="l" style="top:1026.8px;left:97.2px;word-spacing:0.68px;">However, in finite-size systems, fluctuations are truncated</div>
<div class="l" style="top:1044.1px;left:82px;word-spacing:-0.02px;">from the IR limit by the system size <i>L</i>. In this case, a fermion</div>
<div class="l" style="top:1061.4px;left:82px;word-spacing:3.7px;">gap appears proportional to 1/<i>L</i>. Subsequently, after inte-</div>
<div class="l" style="top:1078.5px;left:82px;word-spacing:1.49px;">grating out the fermion fluctuating modes with length scale</div>
<div class="l" style="top:79.8px;left:480px;word-spacing:-0.51px;">from 1/<i>L</i> to &#923;, the nonanalytic term vanishes and the effective</div>
<div class="l" style="top:97.2px;left:480px;word-spacing:1.03px;">quadratic and quartic coupling in the boson part free energy</div>
<div class="l" style="top:114.6px;left:480px;">reads</div>
<div class="l" style="top:149.4px;left:601.3px;letter-spacing:0.68px;"><i>r</i>&#8242; = <i>r</i> &#8722;</div>
<div class="l" style="top:138px;left:690.3px;transform:translateX(-50%);"><i>&#955;</i><sup>2</sup>(<i>L</i>&#923; &#8722; 1)</div>
<div class="l" style="top:162px;left:690.3px;transform:translateX(-50%);">4<svg width="9" height="17" viewBox="0 0 9 17" style="vertical-align:-3.5px;overflow:visible;margin-left:0.5px"><path d="M0.3,11 L2.3,9.6 L5.3,16.6 L9,-0.4 L9.6,-0.4" fill="none" stroke="#161616" stroke-width="0.8"/></svg><span style="border-top:0.8px solid #161616">2</span><i>&#960;Lt</i></div>
<div class="l" style="top:149.4px;left:727px;">,</div>
<div class="l" style="top:194.7px;left:600px;letter-spacing:0.39px;"><i>u</i>&#8242; = <i>u</i> +</div>
<div class="l" style="top:183.4px;left:690.3px;transform:translateX(-50%);"><i>&#955;</i><sup>4</sup>(<i>L</i>&#923; &#8722; 1)</div>
<div class="l" style="top:207.3px;left:690.3px;transform:translateX(-50%);">64<svg width="9" height="17" viewBox="0 0 9 17" style="vertical-align:-3.5px;overflow:visible;margin-left:0.5px"><path d="M0.3,11 L2.3,9.6 L5.3,16.6 L9,-0.4 L9.6,-0.4" fill="none" stroke="#161616" stroke-width="0.8"/></svg><span style="border-top:0.8px solid #161616">2</span><i>t</i><sup>3</sup>&#923;<i>&#960;</i></div>
<div class="l" style="top:194.7px;left:727px;">,</div>
<div class="l" style="top:172.9px;left:826.7px;">(13)</div>
<div class="l" style="top:231.6px;left:480px;">respectively, with the fermion hopping <i>t</i> = 1.</div>
<div class="l" style="top:249px;left:495.2px;word-spacing:1.23px;">At first, we study the change of the phase boundary after</div>
<div class="l" style="top:266.4px;left:480px;word-spacing:1.09px;">turning on the coupling between the Dirac fermions and the</div>
<div class="l" style="top:283.8px;left:480px;word-spacing:0.79px;">dynamical boson field. The phase transition occurs at <i>r</i>&#8242; = 0.</div>
<div class="l" style="top:301.2px;left:480px;word-spacing:0.35px;">By substituting this condition and Eq. (<bl>11</bl>) into Eq. (<bl>13</bl>), one</div>
<div class="l" style="top:318.6px;left:480px;word-spacing:0.17px;">finds that for fixed &#915;<sub><i>x</i></sub> and <i>&#955;</i>, at the phase transition, the value</div>
<div class="l" style="top:336px;left:480px;">of &#915;<sub><i>z</i></sub> changes as</div>
<div class="l" style="top:376.5px;left:594.4px;letter-spacing:1.15px;"><i>&#948;</i>&#915;<sub><i>z</i></sub> =</div>
<div class="l" style="top:367.9px;left:685.7px;transform:translateX(-50%);"><i>&#955;</i><sup>2</sup>(<i>L</i>&#923; &#8722; 1)&#916;<sup>5</sup></div>
<div class="l" style="top:390.3px;left:685.7px;transform:translateX(-50%);">4<svg width="9" height="17" viewBox="0 0 9 17" style="vertical-align:-3.5px;overflow:visible;margin-left:0.5px"><path d="M0.3,11 L2.3,9.6 L5.3,16.6 L9,-0.4 L9.6,-0.4" fill="none" stroke="#161616" stroke-width="0.8"/></svg><span style="border-top:0.8px solid #161616">2</span><i>&#960;LtJ</i><span style="display:inline-block;vertical-align:-0.36em;font-size:70%;line-height:0.95;margin:-20px 0"><span style="display:block">2</span><span style="display:block">+</span></span>&#915;<span style="display:inline-block;vertical-align:-0.36em;font-size:70%;line-height:0.95;margin:-20px 0"><span style="display:block">2</span><span style="display:block"><i>x</i></span></span>&#915;<sub><i>z</i></sub></div>
<div class="l" style="top:376.5px;left:735px;">,</div>
<div class="l" style="top:376.5px;left:827.2px;">(14)</div>
<div class="l" style="top:419.7px;left:480px;word-spacing:1.16px;">in which <i>L</i>&#923; &gt; 1 since the lattice constant is chosen to be 1</div>
<div class="l" style="top:437px;left:480px;word-spacing:0.13px;">and other parameters are all positive. Thus, one finds that the</div>
<div class="l" style="top:454.3px;left:480px;word-spacing:0.87px;">value of &#915;<sub><i>z</i></sub> increases with <i>&#955;</i> growing. The result is shown in</div>
<div class="l" style="top:471.6px;left:480px;word-spacing:1.42px;">Fig. <bl>4</bl>. It is interesting to see that this result is qualitatively</div>
<div class="l" style="top:488.9px;left:480px;">consistent with the DQMC numerical results shown in Fig. <bl>3</bl>.</div>
<div class="l" style="top:821.1px;left:480px;font-size:13.64px;line-height:15.8px;word-spacing:-0.44px;">FIG. 4. Phase diagram obtained from modified mean-field theory for</div>
<div class="l" style="top:836.85px;left:480px;font-size:13.64px;line-height:15.8px;word-spacing:0.64px;">finite-size systems according to Eq. (<bl>13</bl>) with fixing the coefficient</div>
<div class="l" style="top:852.6px;left:480px;font-size:13.64px;line-height:15.8px;word-spacing:-0.36px;"><i>L</i> = 10, &#923; = 1. Black (red) lines represent first order (continue) phase</div>
<div class="l" style="top:868.35px;left:480px;font-size:13.64px;line-height:15.8px;word-spacing:-0.02px;">transiton, dot (solid) lines are phase boundaries with the coupling of</div>
<div class="l" style="top:884.1px;left:480px;font-size:13.64px;line-height:15.8px;"><i>&#955;</i> = 0.0 (0.5), respectively.</div>
<div class="l" style="top:920.8px;left:495.2px;word-spacing:2.06px;">Then, we explore the phase transition properties via this</div>
<div class="l" style="top:937.9px;left:480px;word-spacing:1.12px;">modified mean-field approach. By substituting Eq. (<bl>11</bl>) into</div>
<div class="l" style="top:955px;left:480px;">Eq. (<bl>13</bl>) and setting <i>r</i>&#8242; = 0, one gets</div>
<div class="l" style="top:1000.2px;left:487.7px;letter-spacing:0.39px;"><i>u</i>&#8242; = <i>u</i> +</div>
<div class="l" style="top:1000.2px;left:548.4px;letter-spacing:-0.31px;">&#923; &#8722;</div>
<div class="l" style="top:988.9px;left:582.2px;transform:translateX(-50%);">1</div>
<div class="l" style="top:1013.7px;left:582.2px;transform:translateX(-50%);"><i>L</i></div>
<div class="l" style="top:988.9px;left:639px;transform:translateX(-50%);"><i>L&#955;</i><sup>4</sup></div>
<div class="l" style="top:1013.7px;left:639px;transform:translateX(-50%);">64<svg width="9" height="17" viewBox="0 0 9 17" style="vertical-align:-3.5px;overflow:visible;margin-left:0.5px"><path d="M0.3,11 L2.3,9.6 L5.3,16.6 L9,-0.4 L9.6,-0.4" fill="none" stroke="#161616" stroke-width="0.8"/></svg><span style="border-top:0.8px solid #161616">2</span><i>t</i><sup>3</sup>&#923;<i>&#960;</i></div>
<div class="l" style="top:1000.2px;left:676.5px;">&#8722;</div>
<div class="l" style="top:988.9px;left:746.8px;transform:translateX(-50%);">5<i>J</i><span style="display:inline-block;vertical-align:-0.36em;font-size:70%;line-height:0.95;margin:-20px 0"><span style="display:block">2</span><span style="display:block">+</span></span>(3&#915;<span style="display:inline-block;vertical-align:-0.36em;font-size:70%;line-height:0.95;margin:-20px 0"><span style="display:block">2</span><span style="display:block"><i>x</i></span></span> &#8722; 4&#915;<span style="display:inline-block;vertical-align:-0.36em;font-size:70%;line-height:0.95;margin:-20px 0"><span style="display:block">2</span><span style="display:block"><i>z</i></span></span>)<i>&#955;</i><sup>2</sup></div>
<div class="l" style="top:1013.7px;left:746.8px;transform:translateX(-50%);">48<svg width="9" height="17" viewBox="0 0 9 17" style="vertical-align:-3.5px;overflow:visible;margin-left:0.5px"><path d="M0.3,11 L2.3,9.6 L5.3,16.6 L9,-0.4 L9.6,-0.4" fill="none" stroke="#161616" stroke-width="0.8"/></svg><span style="border-top:0.8px solid #161616">2</span><i>&#960;t</i>&#916;<sup>4</sup></div>
<div class="l" style="top:1000.2px;left:815px;">.</div>
<div class="l" style="top:1000.2px;left:826px;">(15)</div>
<div class="l" style="top:1045px;left:480px;word-spacing:-0.55px;">According to Eq. (<bl>15</bl>), Fig. <bl>5</bl> explicitly shows the dependence</div>
<div class="l" style="top:1062px;left:480px;word-spacing:2.77px;">of <i>u</i>&#8242; on <i>L</i> and <i>&#955;</i>. From Fig. <bl>5</bl>(a) one finds that for small</div>
<div class="l" style="top:1079px;left:480px;word-spacing:0.13px;">system size, <i>L</i> ~ 10, <i>u</i> decreases as <i>L</i> increases. This explains</div>
<svg class="ov" width="927" height="1200" viewBox="0 0 927 1200">
<line x1="196" y1="185.8" x2="205" y2="185.8" stroke="#161616" stroke-width="0.7"/>
<line x1="252.5" y1="185.8" x2="287.5" y2="185.8" stroke="#161616" stroke-width="0.7"/>
<line x1="199" y1="227" x2="298" y2="227" stroke="#161616" stroke-width="0.7"/>
<line x1="199" y1="267.8" x2="360.5" y2="267.8" stroke="#161616" stroke-width="0.7"/>
<line x1="231" y1="820.7" x2="240" y2="820.7" stroke="#161616" stroke-width="0.7"/>
<path d="M286.5,822 L288.5,820.5 L291.5,833 L296.5,806.5 L384,806.5" fill="none" stroke="#161616" stroke-width="0.8"/>
<line x1="654.6" y1="159" x2="726" y2="159" stroke="#161616" stroke-width="0.7"/>
<line x1="654.6" y1="204.4" x2="726" y2="204.4" stroke="#161616" stroke-width="0.7"/>
<line x1="637.5" y1="387" x2="734" y2="387" stroke="#161616" stroke-width="0.7"/>
<path d="M546.5,988Q539.25,1007.75 546.5,1027.5L546.75,1027.1Q542.65,1007.75 546.75,988.4Z" fill="#161616"/>
<line x1="577.5" y1="1010.3" x2="587" y2="1010.3" stroke="#161616" stroke-width="0.7"/>
<path d="M590,988Q597.25,1007.75 590,1027.5L589.75,1027.1Q593.85,1007.75 589.75,988.4Z" fill="#161616"/>
<path d="M605,987H601.5V1033H605" fill="none" stroke="#161616" stroke-width="1"/>
<line x1="607" y1="1010.3" x2="671" y2="1010.3" stroke="#161616" stroke-width="0.7"/>
<line x1="691.2" y1="1010.3" x2="802.5" y2="1010.3" stroke="#161616" stroke-width="0.7"/>
<path d="M803,987H806.5V1033H803" fill="none" stroke="#161616" stroke-width="1"/>
<path d="M524,533.9 Q614,582 710,644.7" stroke="#111" stroke-width="1.6" fill="none"/><path d="M710,644.7 Q778,695 843,748.8" stroke="#d8302a" stroke-width="1.5" fill="none"/><path d="M524,549.4 Q606,595 694,651" stroke="#111" stroke-width="1.2" stroke-dasharray="1.6,1.6" fill="none"/><path d="M694,651 Q770,707 843,766.9" stroke="#d8302a" stroke-width="1.2" stroke-dasharray="1.6,1.6" fill="none"/>
<rect x="524" y="533.9" width="319" height="233.8" fill="none" stroke="#222" stroke-width="0.9"/><text x="524" y="777.1" text-anchor="middle" style="font-family:&quot;Liberation Sans&quot;,sans-serif;font-size:9.2px" fill="#222">5.4</text><text x="577.17" y="777.1" text-anchor="middle" style="font-family:&quot;Liberation Sans&quot;,sans-serif;font-size:9.2px" fill="#222">5.5</text><text x="630.34" y="777.1" text-anchor="middle" style="font-family:&quot;Liberation Sans&quot;,sans-serif;font-size:9.2px" fill="#222">5.6</text><text x="683.51" y="777.1" text-anchor="middle" style="font-family:&quot;Liberation Sans&quot;,sans-serif;font-size:9.2px" fill="#222">5.7</text><text x="736.68" y="777.1" text-anchor="middle" style="font-family:&quot;Liberation Sans&quot;,sans-serif;font-size:9.2px" fill="#222">5.8</text><text x="789.85" y="777.1" text-anchor="middle" style="font-family:&quot;Liberation Sans&quot;,sans-serif;font-size:9.2px" fill="#222">5.9</text><text x="843.02" y="777.1" text-anchor="middle" style="font-family:&quot;Liberation Sans&quot;,sans-serif;font-size:9.2px" fill="#222">6.0</text><text x="522" y="768.8" text-anchor="end" style="font-family:&quot;Liberation Sans&quot;,sans-serif;font-size:9.2px" fill="#222">2.76</text><text x="522" y="713.7" text-anchor="end" style="font-family:&quot;Liberation Sans&quot;,sans-serif;font-size:9.2px" fill="#222">2.81</text><text x="522" y="658.6" text-anchor="end" style="font-family:&quot;Liberation Sans&quot;,sans-serif;font-size:9.2px" fill="#222">2.86</text><text x="522" y="603.5" text-anchor="end" style="font-family:&quot;Liberation Sans&quot;,sans-serif;font-size:9.2px" fill="#222">2.91</text><text x="522" y="548.4" text-anchor="end" style="font-family:&quot;Liberation Sans&quot;,sans-serif;font-size:9.2px" fill="#222">2.96</text><path d="M524,767.7v-4M524,533.9v4M577.17,767.7v-4M577.17,533.9v4M630.34,767.7v-4M630.34,533.9v4M683.51,767.7v-4M683.51,533.9v4M736.68,767.7v-4M736.68,533.9v4M789.85,767.7v-4M789.85,533.9v4M843.02,767.7v-4M843.02,533.9v4M524,765.6h4M843,765.6h-4M524,710.5h4M843,710.5h-4M524,655.4h4M843,655.4h-4M524,600.3h4M843,600.3h-4M524,545.2h4M843,545.2h-4" stroke="#222" stroke-width="0.8" fill="none"/>
<text x="787.6" y="557.6" text-anchor="end" style="font-size:12px" fill="#222" textLength="108" lengthAdjust="spacing">first order <tspan font-style="italic">&#955;</tspan><tspan font-size="8" dy="2.5" font-style="italic">ij</tspan><tspan dy="-2.5"> = 0.0</tspan></text><path d="M794.8,553.6H821.2" stroke="#111" stroke-width="1.2" stroke-dasharray="1.6,1.6"/><text x="787.6" y="573.5" text-anchor="end" style="font-size:12px" fill="#222" textLength="105" lengthAdjust="spacing">continue <tspan font-style="italic">&#955;</tspan><tspan font-size="8" dy="2.5" font-style="italic">ij</tspan><tspan dy="-2.5"> = 0.0</tspan></text><path d="M794.8,569.5H821.2" stroke="#d8302a" stroke-width="1.2" stroke-dasharray="1.6,1.6"/><text x="787.6" y="589.9" text-anchor="end" style="font-size:12px" fill="#222" textLength="108" lengthAdjust="spacing">first order <tspan font-style="italic">&#955;</tspan><tspan font-size="8" dy="2.5" font-style="italic">ij</tspan><tspan dy="-2.5"> = 0.5</tspan></text><path d="M794.8,585.9H821.2" stroke="#111" stroke-width="1.6" /><text x="787.6" y="603.8" text-anchor="end" style="font-size:12px" fill="#222" textLength="105" lengthAdjust="spacing">continue <tspan font-style="italic">&#955;</tspan><tspan font-size="8" dy="2.5" font-style="italic">ij</tspan><tspan dy="-2.5"> = 0.5</tspan></text><path d="M794.8,599.8H821.2" stroke="#d8302a" stroke-width="1.5" />
<text x="482" y="663" style="font-size:17px;font-weight:bold" fill="#222">&#915;<tspan font-size="12" dy="3" font-style="italic">z</tspan></text>
<text x="671" y="793" style="font-size:17px;font-weight:bold" fill="#222">&#915;<tspan font-size="12" dy="3" font-style="italic">x</tspan></text>
</svg>
</div>
</body></html>
